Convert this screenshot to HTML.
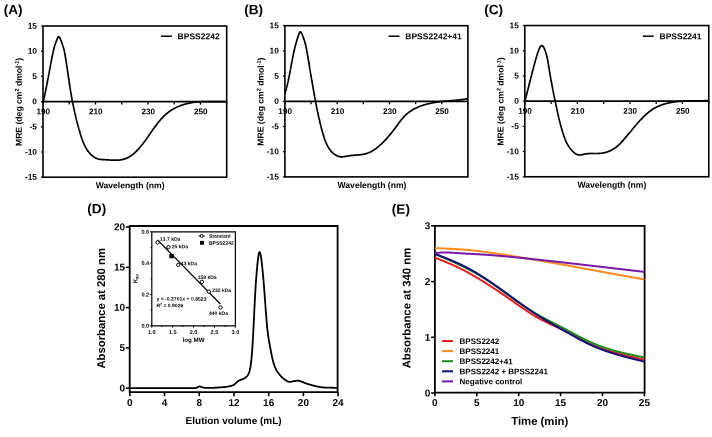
<!DOCTYPE html>
<html><head><meta charset="utf-8"><style>
html,body{margin:0;padding:0;background:#fff;}
svg{display:block;will-change:transform;}
text{font-family:"Liberation Sans",sans-serif;}
</style></head><body>
<svg width="712" height="437" viewBox="0 0 712 437">
<rect width="712" height="437" fill="#fff"/>
<text transform="rotate(0.05 3.7 14.2)" x="3.7" y="14.2" font-size="13.6" font-family="Liberation Sans, sans-serif" font-weight="bold">(A)</text>
<rect x="43.00" y="26.00" width="183.68" height="151.20" fill="none" stroke="#000" stroke-width="1.6"/>
<line x1="43.00" y1="101.60" x2="226.68" y2="101.60" stroke="#000" stroke-width="1.75"/>
<line x1="41.00" y1="26.00" x2="43.00" y2="26.00" stroke="#000" stroke-width="1.2"/>
<text transform="rotate(0.05 37.00 28.65)" x="37.00" y="28.65" font-size="8.4" text-anchor="end" font-family="Liberation Sans, sans-serif" font-weight="bold">15</text>
<line x1="41.00" y1="51.20" x2="43.00" y2="51.20" stroke="#000" stroke-width="1.2"/>
<text transform="rotate(0.05 37.00 53.85)" x="37.00" y="53.85" font-size="8.4" text-anchor="end" font-family="Liberation Sans, sans-serif" font-weight="bold">10</text>
<line x1="41.00" y1="76.40" x2="43.00" y2="76.40" stroke="#000" stroke-width="1.2"/>
<text transform="rotate(0.05 37.00 79.05)" x="37.00" y="79.05" font-size="8.4" text-anchor="end" font-family="Liberation Sans, sans-serif" font-weight="bold">5</text>
<line x1="41.00" y1="101.60" x2="43.00" y2="101.60" stroke="#000" stroke-width="1.2"/>
<text transform="rotate(0.05 37.00 104.25)" x="37.00" y="104.25" font-size="8.4" text-anchor="end" font-family="Liberation Sans, sans-serif" font-weight="bold">0</text>
<line x1="41.00" y1="126.80" x2="43.00" y2="126.80" stroke="#000" stroke-width="1.2"/>
<text transform="rotate(0.05 37.00 129.45)" x="37.00" y="129.45" font-size="8.4" text-anchor="end" font-family="Liberation Sans, sans-serif" font-weight="bold">-5</text>
<line x1="41.00" y1="152.00" x2="43.00" y2="152.00" stroke="#000" stroke-width="1.2"/>
<text transform="rotate(0.05 37.00 154.65)" x="37.00" y="154.65" font-size="8.4" text-anchor="end" font-family="Liberation Sans, sans-serif" font-weight="bold">-10</text>
<line x1="41.00" y1="177.20" x2="43.00" y2="177.20" stroke="#000" stroke-width="1.2"/>
<text transform="rotate(0.05 37.00 179.85)" x="37.00" y="179.85" font-size="8.4" text-anchor="end" font-family="Liberation Sans, sans-serif" font-weight="bold">-15</text>
<line x1="43.00" y1="101.60" x2="43.00" y2="104.50" stroke="#000" stroke-width="1.3"/>
<line x1="69.24" y1="101.60" x2="69.24" y2="104.50" stroke="#000" stroke-width="1.3"/>
<line x1="95.48" y1="101.60" x2="95.48" y2="104.50" stroke="#000" stroke-width="1.3"/>
<line x1="121.72" y1="101.60" x2="121.72" y2="104.50" stroke="#000" stroke-width="1.3"/>
<line x1="147.96" y1="101.60" x2="147.96" y2="104.50" stroke="#000" stroke-width="1.3"/>
<line x1="174.20" y1="101.60" x2="174.20" y2="104.50" stroke="#000" stroke-width="1.3"/>
<line x1="200.44" y1="101.60" x2="200.44" y2="104.50" stroke="#000" stroke-width="1.3"/>
<line x1="226.68" y1="101.60" x2="226.68" y2="104.50" stroke="#000" stroke-width="1.3"/>
<text transform="rotate(0.05 43.30 114.30)" x="43.30" y="114.30" font-size="8.2" text-anchor="middle" font-family="Liberation Sans, sans-serif" font-weight="bold">190</text>
<text transform="rotate(0.05 95.78 114.30)" x="95.78" y="114.30" font-size="8.2" text-anchor="middle" font-family="Liberation Sans, sans-serif" font-weight="bold">210</text>
<text transform="rotate(0.05 148.26 114.30)" x="148.26" y="114.30" font-size="8.2" text-anchor="middle" font-family="Liberation Sans, sans-serif" font-weight="bold">230</text>
<text transform="rotate(0.05 200.74 114.30)" x="200.74" y="114.30" font-size="8.2" text-anchor="middle" font-family="Liberation Sans, sans-serif" font-weight="bold">250</text>
<text transform="rotate(0.05 130.10 188.30)" x="130.10" y="188.30" font-size="8.6" text-anchor="middle" font-family="Liberation Sans, sans-serif" font-weight="bold">Wavelength (nm)</text>
<text transform="translate(21.70,101.90) rotate(-89.95)" font-size="8.6" text-anchor="middle" font-family="Liberation Sans, sans-serif" font-weight="bold">MRE (deg cm<tspan font-size="5.5" dy="-3">2</tspan><tspan dy="3"> dmol</tspan><tspan font-size="5.5" dy="-3">-1</tspan><tspan dy="3">)</tspan></text>
<line x1="160.90" y1="36.2" x2="171.80" y2="36.2" stroke="#000" stroke-width="1.5"/>
<text transform="rotate(0.05 177.60 39.3)" x="177.60" y="39.3" font-size="8.5" font-family="Liberation Sans, sans-serif" font-weight="bold">BPSS2242</text>
<path d="M43.21,101.60 L43.30,101.26 L43.38,100.92 L43.46,100.58 L43.54,100.24 L43.62,99.90 L43.70,99.56 L43.78,99.22 L43.86,98.88 L43.94,98.54 L44.02,98.19 L44.10,97.85 L44.17,97.51 L44.25,97.17 L44.33,96.83 L44.41,96.49 L44.48,96.15 L44.56,95.81 L44.63,95.46 L44.71,95.12 L44.78,94.78 L44.86,94.44 L44.93,94.09 L45.00,93.75 L45.08,93.41 L45.15,93.07 L45.22,92.72 L45.30,92.38 L45.37,92.04 L45.44,91.69 L45.51,91.35 L45.58,91.01 L45.65,90.66 L45.72,90.32 L45.79,89.98 L45.86,89.63 L45.93,89.29 L46.00,88.95 L46.07,88.60 L46.14,88.26 L46.21,87.91 L46.28,87.57 L46.35,87.23 L46.42,86.88 L46.48,86.54 L46.55,86.19 L46.62,85.85 L46.69,85.50 L46.75,85.16 L46.82,84.81 L46.89,84.47 L46.95,84.12 L47.02,83.78 L47.09,83.43 L47.15,83.09 L47.22,82.74 L47.28,82.40 L47.35,82.05 L47.41,81.71 L47.48,81.36 L47.55,81.02 L47.61,80.67 L47.67,80.33 L47.74,79.98 L47.80,79.64 L47.87,79.29 L47.93,78.95 L48.00,78.60 L48.06,78.25 L48.13,77.91 L48.19,77.56 L48.25,77.22 L48.32,76.87 L48.38,76.53 L48.45,76.18 L48.51,75.84 L48.57,75.49 L48.64,75.14 L48.70,74.80 L48.77,74.45 L48.83,74.11 L48.89,73.76 L48.96,73.42 L49.02,73.07 L49.08,72.72 L49.15,72.38 L49.21,72.03 L49.28,71.69 L49.34,71.34 L49.40,71.00 L49.47,70.65 L49.53,70.31 L49.60,69.96 L49.66,69.62 L49.72,69.27 L49.79,68.93 L49.85,68.58 L49.92,68.24 L49.98,67.89 L50.05,67.55 L50.11,67.20 L50.17,66.86 L50.24,66.51 L50.30,66.17 L50.37,65.82 L50.43,65.48 L50.50,65.13 L50.56,64.79 L50.63,64.44 L50.70,64.10 L50.76,63.75 L50.83,63.41 L50.89,63.07 L50.96,62.72 L51.03,62.38 L51.09,62.03 L51.16,61.69 L51.23,61.35 L51.29,61.00 L51.36,60.66 L51.43,60.32 L51.50,59.97 L51.57,59.63 L51.63,59.29 L51.70,58.94 L51.77,58.60 L51.84,58.26 L51.91,57.91 L51.98,57.57 L52.05,57.23 L52.12,56.89 L52.19,56.54 L52.26,56.20 L52.33,55.86 L52.40,55.52 L52.47,55.18 L52.55,54.83 L52.62,54.49 L52.69,54.15 L52.76,53.81 L52.84,53.47 L52.91,53.13 L52.98,52.79 L53.06,52.45 L53.13,52.11 L53.21,51.77 L53.28,51.43 L53.36,51.08 L53.43,50.75 L53.51,50.41 L53.58,50.07 L53.66,49.73 L53.74,49.39 L53.82,49.05 L53.90,48.71 L53.98,48.37 L54.06,48.03 L54.14,47.70 L54.23,47.36 L54.32,47.02 L54.41,46.69 L54.50,46.35 L54.59,46.01 L54.69,45.68 L54.79,45.35 L54.90,45.01 L55.01,44.68 L55.12,44.35 L55.24,44.02 L55.36,43.69 L55.48,43.36 L55.61,43.02 L55.74,42.68 L55.87,42.34 L56.01,42.00 L56.15,41.64 L56.29,41.29 L56.44,40.92 L56.58,40.55 L56.73,40.16 L56.88,39.77 L57.04,39.37 L57.19,38.97 L57.35,38.58 L57.51,38.21 L57.67,37.86 L57.83,37.55 L58.00,37.27 L58.17,37.05 L58.34,36.88 L58.52,36.78 L58.70,36.75 L58.88,36.79 L59.06,36.91 L59.25,37.08 L59.43,37.31 L59.62,37.59 L59.80,37.91 L59.98,38.25 L60.16,38.62 L60.34,39.01 L60.51,39.41 L60.68,39.81 L60.84,40.20 L61.00,40.59 L61.15,40.97 L61.29,41.34 L61.43,41.70 L61.56,42.06 L61.69,42.41 L61.82,42.76 L61.95,43.11 L62.07,43.45 L62.18,43.78 L62.30,44.12 L62.41,44.45 L62.53,44.78 L62.64,45.11 L62.75,45.44 L62.85,45.77 L62.96,46.10 L63.06,46.43 L63.17,46.75 L63.27,47.08 L63.37,47.41 L63.46,47.74 L63.56,48.07 L63.65,48.39 L63.74,48.72 L63.83,49.05 L63.92,49.38 L64.01,49.72 L64.09,50.05 L64.17,50.38 L64.25,50.72 L64.33,51.06 L64.40,51.39 L64.47,51.73 L64.55,52.07 L64.62,52.41 L64.68,52.76 L64.75,53.10 L64.82,53.44 L64.88,53.79 L64.95,54.13 L65.01,54.47 L65.07,54.82 L65.13,55.17 L65.19,55.51 L65.25,55.86 L65.31,56.21 L65.37,56.55 L65.42,56.90 L65.48,57.25 L65.54,57.60 L65.60,57.94 L65.65,58.29 L65.71,58.64 L65.76,58.98 L65.82,59.33 L65.88,59.68 L65.93,60.03 L65.99,60.37 L66.04,60.72 L66.10,61.07 L66.15,61.42 L66.20,61.76 L66.26,62.11 L66.31,62.46 L66.37,62.81 L66.42,63.16 L66.47,63.50 L66.52,63.85 L66.58,64.20 L66.63,64.55 L66.68,64.89 L66.73,65.24 L66.79,65.59 L66.84,65.94 L66.89,66.29 L66.94,66.63 L66.99,66.98 L67.05,67.33 L67.10,67.68 L67.15,68.02 L67.20,68.37 L67.25,68.72 L67.30,69.07 L67.35,69.42 L67.40,69.76 L67.45,70.11 L67.50,70.46 L67.55,70.81 L67.61,71.15 L67.66,71.50 L67.71,71.85 L67.76,72.20 L67.81,72.55 L67.86,72.89 L67.91,73.24 L67.96,73.59 L68.01,73.94 L68.06,74.28 L68.11,74.63 L68.16,74.98 L68.21,75.33 L68.26,75.67 L68.31,76.02 L68.36,76.37 L68.41,76.72 L68.46,77.06 L68.51,77.41 L68.56,77.76 L68.61,78.11 L68.66,78.45 L68.71,78.80 L68.76,79.15 L68.81,79.50 L68.87,79.84 L68.92,80.19 L68.97,80.54 L69.02,80.89 L69.07,81.23 L69.12,81.58 L69.17,81.93 L69.22,82.27 L69.28,82.62 L69.33,82.97 L69.38,83.31 L69.43,83.66 L69.48,84.01 L69.54,84.35 L69.59,84.70 L69.64,85.05 L69.70,85.39 L69.75,85.74 L69.80,86.09 L69.86,86.43 L69.91,86.78 L69.96,87.13 L70.02,87.47 L70.07,87.82 L70.13,88.17 L70.18,88.51 L70.24,88.86 L70.29,89.20 L70.35,89.55 L70.41,89.90 L70.46,90.24 L70.52,90.59 L70.58,90.93 L70.63,91.28 L70.69,91.62 L70.75,91.97 L70.81,92.31 L70.86,92.66 L70.92,93.01 L70.98,93.35 L71.04,93.70 L71.10,94.04 L71.16,94.39 L71.22,94.73 L71.28,95.08 L71.34,95.42 L71.40,95.77 L71.46,96.11 L71.52,96.45 L71.58,96.80 L71.65,97.14 L71.71,97.49 L71.77,97.83 L71.83,98.18 L71.90,98.52 L71.96,98.87 L72.03,99.21 L72.09,99.55 L72.15,99.90 L72.22,100.24 L72.28,100.59 L72.35,100.93 L72.42,101.27 L72.48,101.62 L72.55,101.96 L72.61,102.30 L72.68,102.65 L72.75,102.99 L72.82,103.33 L72.88,103.68 L72.95,104.02 L73.02,104.36 L73.09,104.71 L73.16,105.05 L73.23,105.39 L73.30,105.73 L73.37,106.08 L73.44,106.42 L73.51,106.76 L73.58,107.11 L73.65,107.45 L73.73,107.79 L73.80,108.13 L73.87,108.48 L73.94,108.82 L74.02,109.16 L74.09,109.50 L74.17,109.84 L74.24,110.19 L74.32,110.53 L74.39,110.87 L74.47,111.21 L74.54,111.55 L74.62,111.90 L74.69,112.24 L74.77,112.58 L74.85,112.92 L74.93,113.26 L75.00,113.60 L75.08,113.94 L75.16,114.29 L75.24,114.63 L75.32,114.97 L75.40,115.31 L75.48,115.65 L75.56,115.99 L75.64,116.33 L75.72,116.67 L75.80,117.01 L75.89,117.35 L75.97,117.69 L76.05,118.04 L76.13,118.38 L76.22,118.72 L76.30,119.06 L76.39,119.40 L76.47,119.74 L76.56,120.08 L76.64,120.42 L76.73,120.76 L76.81,121.10 L76.90,121.44 L76.99,121.78 L77.07,122.12 L77.16,122.46 L77.25,122.80 L77.34,123.14 L77.43,123.48 L77.52,123.82 L77.61,124.15 L77.70,124.49 L77.79,124.83 L77.88,125.17 L77.97,125.51 L78.06,125.85 L78.15,126.19 L78.25,126.53 L78.34,126.87 L78.43,127.21 L78.53,127.55 L78.62,127.88 L78.71,128.22 L78.81,128.56 L78.91,128.90 L79.00,129.24 L79.10,129.58 L79.19,129.92 L79.29,130.25 L79.39,130.59 L79.49,130.93 L79.59,131.27 L79.68,131.61 L79.78,131.94 L79.88,132.28 L79.98,132.62 L80.08,132.96 L80.18,133.30 L80.29,133.63 L80.39,133.97 L80.49,134.31 L80.59,134.65 L80.70,134.98 L80.80,135.32 L80.90,135.66 L81.01,135.99 L81.12,136.33 L81.22,136.67 L81.33,137.00 L81.44,137.34 L81.55,137.67 L81.66,138.01 L81.77,138.34 L81.88,138.68 L82.00,139.01 L82.11,139.34 L82.23,139.67 L82.35,140.00 L82.47,140.33 L82.59,140.66 L82.71,140.99 L82.84,141.32 L82.96,141.65 L83.09,141.97 L83.22,142.30 L83.35,142.62 L83.49,142.95 L83.62,143.27 L83.76,143.59 L83.90,143.91 L84.04,144.23 L84.19,144.55 L84.33,144.86 L84.48,145.18 L84.63,145.49 L84.79,145.81 L84.94,146.12 L85.10,146.43 L85.26,146.73 L85.43,147.04 L85.59,147.35 L85.76,147.65 L85.93,147.95 L86.11,148.25 L86.29,148.55 L86.47,148.85 L86.65,149.14 L86.84,149.44 L87.03,149.73 L87.23,150.02 L87.42,150.31 L87.63,150.59 L87.83,150.88 L88.04,151.16 L88.25,151.44 L88.46,151.72 L88.68,151.99 L88.91,152.27 L89.13,152.54 L89.36,152.81 L89.60,153.07 L89.83,153.34 L90.08,153.60 L90.32,153.86 L90.57,154.12 L90.83,154.37 L91.08,154.63 L91.35,154.87 L91.61,155.12 L91.88,155.36 L92.16,155.60 L92.43,155.83 L92.71,156.06 L93.00,156.28 L93.28,156.50 L93.57,156.71 L93.87,156.91 L94.16,157.11 L94.46,157.30 L94.76,157.49 L95.06,157.66 L95.37,157.83 L95.68,157.99 L95.99,158.14 L96.30,158.29 L96.62,158.42 L96.93,158.55 L97.25,158.66 L97.57,158.77 L97.89,158.87 L98.22,158.96 L98.54,159.04 L98.87,159.11 L99.20,159.18 L99.53,159.24 L99.86,159.30 L100.20,159.34 L100.53,159.39 L100.87,159.43 L101.21,159.47 L101.55,159.50 L101.89,159.53 L102.23,159.55 L102.58,159.58 L102.92,159.60 L103.27,159.62 L103.62,159.64 L103.97,159.66 L104.32,159.68 L104.67,159.70 L105.03,159.72 L105.38,159.74 L105.74,159.76 L106.09,159.79 L106.45,159.81 L106.81,159.83 L107.17,159.86 L107.53,159.88 L107.89,159.90 L108.25,159.93 L108.61,159.95 L108.98,159.98 L109.34,160.00 L109.70,160.02 L110.07,160.04 L110.43,160.07 L110.80,160.09 L111.16,160.11 L111.53,160.12 L111.89,160.14 L112.25,160.16 L112.62,160.17 L112.98,160.18 L113.35,160.20 L113.71,160.20 L114.07,160.21 L114.44,160.22 L114.80,160.22 L115.16,160.22 L115.52,160.22 L115.88,160.22 L116.24,160.21 L116.60,160.20 L116.96,160.19 L117.32,160.17 L117.67,160.16 L118.03,160.14 L118.38,160.11 L118.74,160.08 L119.09,160.05 L119.44,160.02 L119.79,159.98 L120.13,159.94 L120.48,159.89 L120.82,159.84 L121.17,159.79 L121.51,159.73 L121.85,159.66 L122.18,159.60 L122.52,159.52 L122.85,159.45 L123.18,159.36 L123.51,159.28 L123.84,159.18 L124.17,159.09 L124.49,158.99 L124.81,158.88 L125.13,158.77 L125.45,158.65 L125.76,158.53 L126.07,158.41 L126.39,158.28 L126.69,158.14 L127.00,158.00 L127.31,157.86 L127.61,157.71 L127.91,157.56 L128.21,157.41 L128.51,157.25 L128.81,157.09 L129.10,156.92 L129.39,156.75 L129.68,156.57 L129.97,156.40 L130.26,156.21 L130.54,156.03 L130.83,155.84 L131.11,155.65 L131.39,155.45 L131.67,155.25 L131.95,155.05 L132.22,154.84 L132.49,154.63 L132.77,154.42 L133.04,154.21 L133.31,153.99 L133.57,153.77 L133.84,153.55 L134.10,153.32 L134.37,153.09 L134.63,152.86 L134.89,152.63 L135.15,152.39 L135.40,152.15 L135.66,151.91 L135.91,151.66 L136.16,151.42 L136.42,151.17 L136.67,150.92 L136.91,150.67 L137.16,150.41 L137.41,150.16 L137.65,149.90 L137.90,149.64 L138.14,149.38 L138.38,149.12 L138.62,148.85 L138.86,148.58 L139.09,148.32 L139.33,148.05 L139.56,147.78 L139.80,147.51 L140.03,147.23 L140.26,146.96 L140.49,146.68 L140.72,146.41 L140.95,146.13 L141.18,145.85 L141.40,145.57 L141.63,145.29 L141.85,145.01 L142.07,144.73 L142.30,144.45 L142.52,144.17 L142.74,143.88 L142.96,143.60 L143.17,143.32 L143.39,143.03 L143.61,142.74 L143.83,142.46 L144.04,142.17 L144.26,141.88 L144.47,141.60 L144.68,141.31 L144.89,141.02 L145.11,140.73 L145.32,140.44 L145.53,140.15 L145.74,139.86 L145.95,139.57 L146.16,139.28 L146.36,138.99 L146.57,138.70 L146.78,138.40 L146.99,138.11 L147.19,137.82 L147.40,137.53 L147.60,137.23 L147.81,136.94 L148.01,136.65 L148.22,136.36 L148.42,136.06 L148.63,135.77 L148.83,135.48 L149.04,135.18 L149.24,134.89 L149.44,134.60 L149.64,134.31 L149.85,134.01 L150.05,133.72 L150.25,133.43 L150.46,133.13 L150.66,132.84 L150.86,132.55 L151.06,132.26 L151.27,131.97 L151.47,131.68 L151.67,131.38 L151.88,131.09 L152.08,130.80 L152.28,130.51 L152.48,130.22 L152.69,129.93 L152.89,129.64 L153.10,129.36 L153.30,129.07 L153.50,128.78 L153.71,128.49 L153.91,128.21 L154.12,127.92 L154.33,127.63 L154.53,127.35 L154.74,127.07 L154.95,126.78 L155.15,126.50 L155.36,126.22 L155.57,125.93 L155.78,125.65 L155.99,125.37 L156.20,125.09 L156.41,124.82 L156.62,124.54 L156.83,124.26 L157.05,123.98 L157.26,123.71 L157.47,123.44 L157.69,123.16 L157.90,122.89 L158.12,122.62 L158.34,122.35 L158.56,122.08 L158.78,121.81 L159.00,121.54 L159.22,121.28 L159.44,121.01 L159.66,120.75 L159.88,120.48 L160.11,120.22 L160.33,119.96 L160.56,119.70 L160.79,119.44 L161.02,119.19 L161.25,118.93 L161.48,118.68 L161.71,118.42 L161.94,118.17 L162.18,117.92 L162.41,117.67 L162.65,117.42 L162.89,117.18 L163.13,116.93 L163.37,116.69 L163.61,116.45 L163.85,116.21 L164.10,115.97 L164.34,115.73 L164.59,115.50 L164.84,115.26 L165.09,115.03 L165.34,114.80 L165.60,114.57 L165.85,114.34 L166.11,114.12 L166.37,113.89 L166.63,113.67 L166.89,113.45 L167.15,113.23 L167.42,113.01 L167.68,112.80 L167.95,112.59 L168.22,112.37 L168.49,112.17 L168.77,111.96 L169.04,111.75 L169.32,111.55 L169.60,111.35 L169.88,111.15 L170.16,110.95 L170.45,110.76 L170.73,110.56 L171.02,110.37 L171.31,110.18 L171.60,110.00 L171.90,109.81 L172.20,109.63 L172.49,109.45 L172.79,109.27 L173.10,109.09 L173.40,108.92 L173.71,108.75 L174.02,108.58 L174.33,108.41 L174.64,108.25 L174.95,108.08 L175.27,107.92 L175.58,107.77 L175.90,107.61 L176.22,107.45 L176.54,107.30 L176.86,107.15 L177.19,107.00 L177.51,106.86 L177.84,106.72 L178.17,106.57 L178.50,106.43 L178.83,106.30 L179.16,106.16 L179.49,106.03 L179.83,105.90 L180.16,105.77 L180.50,105.64 L180.83,105.52 L181.17,105.40 L181.51,105.28 L181.85,105.16 L182.19,105.04 L182.53,104.93 L182.88,104.82 L183.22,104.71 L183.56,104.60 L183.91,104.49 L184.25,104.39 L184.60,104.29 L184.95,104.19 L185.29,104.09 L185.64,104.00 L185.99,103.90 L186.34,103.81 L186.68,103.72 L187.03,103.64 L187.38,103.55 L187.73,103.47 L188.08,103.39 L188.43,103.31 L188.78,103.23 L189.13,103.16 L189.48,103.08 L189.83,103.01 L190.18,102.95 L190.53,102.88 L190.88,102.82 L191.23,102.75 L191.58,102.69 L191.93,102.63 L192.28,102.58 L192.63,102.52 L192.98,102.47 L193.33,102.42 L193.68,102.37 L194.03,102.33 L194.37,102.28 L194.72,102.24 L195.07,102.20 L195.42,102.16 L195.77,102.12 L196.11,102.08 L196.46,102.05 L196.81,102.01 L197.16,101.98 L197.50,101.95 L197.85,101.92 L198.20,101.90 L198.54,101.87 L198.89,101.85 L199.24,101.82 L199.58,101.80 L199.93,101.78 L200.28,101.76 L200.62,101.75 L200.97,101.73 L201.32,101.71 L201.66,101.70 L202.01,101.69 L202.36,101.67 L202.70,101.66 L203.05,101.65 L203.39,101.64 L203.74,101.64 L204.09,101.63 L204.43,101.62 L204.78,101.62 L205.13,101.61 L205.47,101.61 L205.82,101.61 L206.16,101.60 L206.51,101.60 L206.86,101.60 L207.20,101.60 L207.55,101.60 L207.90,101.60 L208.24,101.60 L208.59,101.60 L208.94,101.61 L209.28,101.61 L209.63,101.61 L209.98,101.61 L210.33,101.62 L210.67,101.62 L211.02,101.63 L211.37,101.63 L211.72,101.64 L212.06,101.64 L212.41,101.65 L212.76,101.65 L213.11,101.66 L213.46,101.66 L213.81,101.67 L214.15,101.67 L214.50,101.68 L214.85,101.68 L215.20,101.69 L215.55,101.69 L215.90,101.69 L216.25,101.70 L216.60,101.70 L216.95,101.71 L217.30,101.71 L217.65,101.71 L218.00,101.72 L218.36,101.72 L218.71,101.72 L219.06,101.72 L219.41,101.72 L219.76,101.72 L220.12,101.72 L220.47,101.72 L220.82,101.72 L221.18,101.72 L221.53,101.71 L221.89,101.71 L222.24,101.71 L222.60,101.70 L222.95,101.69 L223.31,101.69 L223.66,101.68 L224.02,101.67 L224.37,101.66 L224.73,101.65 L225.09,101.64 L225.45,101.63 L225.80,101.61 L226.16,101.60 L226.52,101.58" fill="none" stroke="#000" stroke-width="1.7" stroke-linejoin="round"/>
<text transform="rotate(0.05 244.2 14.2)" x="244.2" y="14.2" font-size="13.6" font-family="Liberation Sans, sans-serif" font-weight="bold">(B)</text>
<rect x="284.90" y="25.70" width="182.98" height="151.20" fill="none" stroke="#000" stroke-width="1.6"/>
<line x1="284.90" y1="101.30" x2="467.88" y2="101.30" stroke="#000" stroke-width="1.75"/>
<line x1="282.90" y1="25.70" x2="284.90" y2="25.70" stroke="#000" stroke-width="1.2"/>
<text transform="rotate(0.05 278.90 28.35)" x="278.90" y="28.35" font-size="8.4" text-anchor="end" font-family="Liberation Sans, sans-serif" font-weight="bold">15</text>
<line x1="282.90" y1="50.90" x2="284.90" y2="50.90" stroke="#000" stroke-width="1.2"/>
<text transform="rotate(0.05 278.90 53.55)" x="278.90" y="53.55" font-size="8.4" text-anchor="end" font-family="Liberation Sans, sans-serif" font-weight="bold">10</text>
<line x1="282.90" y1="76.10" x2="284.90" y2="76.10" stroke="#000" stroke-width="1.2"/>
<text transform="rotate(0.05 278.90 78.75)" x="278.90" y="78.75" font-size="8.4" text-anchor="end" font-family="Liberation Sans, sans-serif" font-weight="bold">5</text>
<line x1="282.90" y1="101.30" x2="284.90" y2="101.30" stroke="#000" stroke-width="1.2"/>
<text transform="rotate(0.05 278.90 103.95)" x="278.90" y="103.95" font-size="8.4" text-anchor="end" font-family="Liberation Sans, sans-serif" font-weight="bold">0</text>
<line x1="282.90" y1="126.50" x2="284.90" y2="126.50" stroke="#000" stroke-width="1.2"/>
<text transform="rotate(0.05 278.90 129.15)" x="278.90" y="129.15" font-size="8.4" text-anchor="end" font-family="Liberation Sans, sans-serif" font-weight="bold">-5</text>
<line x1="282.90" y1="151.70" x2="284.90" y2="151.70" stroke="#000" stroke-width="1.2"/>
<text transform="rotate(0.05 278.90 154.35)" x="278.90" y="154.35" font-size="8.4" text-anchor="end" font-family="Liberation Sans, sans-serif" font-weight="bold">-10</text>
<line x1="282.90" y1="176.90" x2="284.90" y2="176.90" stroke="#000" stroke-width="1.2"/>
<text transform="rotate(0.05 278.90 179.55)" x="278.90" y="179.55" font-size="8.4" text-anchor="end" font-family="Liberation Sans, sans-serif" font-weight="bold">-15</text>
<line x1="284.90" y1="101.30" x2="284.90" y2="104.20" stroke="#000" stroke-width="1.3"/>
<line x1="311.04" y1="101.30" x2="311.04" y2="104.20" stroke="#000" stroke-width="1.3"/>
<line x1="337.18" y1="101.30" x2="337.18" y2="104.20" stroke="#000" stroke-width="1.3"/>
<line x1="363.32" y1="101.30" x2="363.32" y2="104.20" stroke="#000" stroke-width="1.3"/>
<line x1="389.46" y1="101.30" x2="389.46" y2="104.20" stroke="#000" stroke-width="1.3"/>
<line x1="415.60" y1="101.30" x2="415.60" y2="104.20" stroke="#000" stroke-width="1.3"/>
<line x1="441.74" y1="101.30" x2="441.74" y2="104.20" stroke="#000" stroke-width="1.3"/>
<line x1="467.88" y1="101.30" x2="467.88" y2="104.20" stroke="#000" stroke-width="1.3"/>
<text transform="rotate(0.05 285.20 114.00)" x="285.20" y="114.00" font-size="8.2" text-anchor="middle" font-family="Liberation Sans, sans-serif" font-weight="bold">190</text>
<text transform="rotate(0.05 337.48 114.00)" x="337.48" y="114.00" font-size="8.2" text-anchor="middle" font-family="Liberation Sans, sans-serif" font-weight="bold">210</text>
<text transform="rotate(0.05 389.76 114.00)" x="389.76" y="114.00" font-size="8.2" text-anchor="middle" font-family="Liberation Sans, sans-serif" font-weight="bold">230</text>
<text transform="rotate(0.05 442.04 114.00)" x="442.04" y="114.00" font-size="8.2" text-anchor="middle" font-family="Liberation Sans, sans-serif" font-weight="bold">250</text>
<text transform="rotate(0.05 372.00 188.00)" x="372.00" y="188.00" font-size="8.6" text-anchor="middle" font-family="Liberation Sans, sans-serif" font-weight="bold">Wavelength (nm)</text>
<text transform="translate(263.60,101.60) rotate(-89.95)" font-size="8.6" text-anchor="middle" font-family="Liberation Sans, sans-serif" font-weight="bold">MRE (deg cm<tspan font-size="5.5" dy="-3">2</tspan><tspan dy="3"> dmol</tspan><tspan font-size="5.5" dy="-3">-1</tspan><tspan dy="3">)</tspan></text>
<line x1="388.60" y1="36.2" x2="399.50" y2="36.2" stroke="#000" stroke-width="1.5"/>
<text transform="rotate(0.05 405.30 39.3)" x="405.30" y="39.3" font-size="8.5" font-family="Liberation Sans, sans-serif" font-weight="bold">BPSS2242+41</text>
<path d="M284.94,93.48 L285.04,93.15 L285.14,92.83 L285.24,92.50 L285.33,92.17 L285.43,91.85 L285.53,91.52 L285.62,91.19 L285.71,90.86 L285.81,90.53 L285.90,90.20 L285.99,89.87 L286.08,89.54 L286.17,89.21 L286.26,88.88 L286.35,88.55 L286.44,88.21 L286.53,87.88 L286.61,87.55 L286.70,87.22 L286.78,86.88 L286.87,86.55 L286.95,86.21 L287.03,85.88 L287.11,85.54 L287.20,85.21 L287.28,84.87 L287.36,84.54 L287.44,84.20 L287.52,83.86 L287.59,83.53 L287.67,83.19 L287.75,82.85 L287.83,82.51 L287.90,82.17 L287.98,81.84 L288.05,81.50 L288.13,81.16 L288.20,80.82 L288.28,80.48 L288.35,80.14 L288.42,79.80 L288.49,79.46 L288.57,79.12 L288.64,78.78 L288.71,78.44 L288.78,78.10 L288.85,77.76 L288.92,77.42 L288.99,77.07 L289.06,76.73 L289.13,76.39 L289.19,76.05 L289.26,75.71 L289.33,75.37 L289.40,75.02 L289.46,74.68 L289.53,74.34 L289.60,74.00 L289.66,73.65 L289.73,73.31 L289.80,72.97 L289.86,72.63 L289.93,72.28 L289.99,71.94 L290.06,71.60 L290.12,71.25 L290.19,70.91 L290.25,70.57 L290.31,70.22 L290.38,69.88 L290.44,69.54 L290.51,69.20 L290.57,68.85 L290.63,68.51 L290.70,68.17 L290.76,67.82 L290.82,67.48 L290.89,67.14 L290.95,66.79 L291.01,66.45 L291.08,66.11 L291.14,65.77 L291.20,65.42 L291.27,65.08 L291.33,64.74 L291.39,64.40 L291.46,64.05 L291.52,63.71 L291.58,63.37 L291.65,63.03 L291.71,62.69 L291.77,62.34 L291.84,62.00 L291.90,61.66 L291.97,61.32 L292.03,60.98 L292.10,60.64 L292.16,60.30 L292.23,59.96 L292.29,59.62 L292.36,59.28 L292.42,58.94 L292.49,58.60 L292.55,58.26 L292.62,57.92 L292.69,57.58 L292.75,57.24 L292.82,56.91 L292.89,56.57 L292.95,56.23 L293.02,55.89 L293.09,55.55 L293.16,55.22 L293.23,54.88 L293.30,54.55 L293.37,54.21 L293.44,53.87 L293.51,53.54 L293.58,53.20 L293.65,52.87 L293.72,52.53 L293.80,52.20 L293.87,51.87 L293.94,51.53 L294.01,51.20 L294.09,50.87 L294.16,50.54 L294.24,50.20 L294.31,49.87 L294.39,49.54 L294.47,49.21 L294.55,48.88 L294.62,48.55 L294.70,48.22 L294.78,47.90 L294.86,47.57 L294.94,47.24 L295.02,46.91 L295.10,46.59 L295.19,46.26 L295.27,45.93 L295.35,45.61 L295.44,45.28 L295.52,44.96 L295.61,44.63 L295.70,44.31 L295.78,43.98 L295.87,43.65 L295.96,43.32 L296.06,42.99 L296.15,42.66 L296.25,42.33 L296.34,41.99 L296.44,41.66 L296.54,41.32 L296.64,40.98 L296.74,40.63 L296.85,40.28 L296.96,39.93 L297.07,39.58 L297.18,39.22 L297.29,38.86 L297.41,38.50 L297.53,38.13 L297.65,37.75 L297.77,37.38 L297.90,36.99 L298.03,36.61 L298.16,36.21 L298.29,35.82 L298.43,35.41 L298.57,35.01 L298.71,34.61 L298.86,34.22 L299.01,33.85 L299.16,33.49 L299.31,33.16 L299.46,32.86 L299.62,32.59 L299.78,32.36 L299.94,32.17 L300.10,32.03 L300.27,31.94 L300.43,31.91 L300.60,31.94 L300.77,32.03 L300.94,32.17 L301.11,32.36 L301.28,32.60 L301.45,32.87 L301.62,33.17 L301.78,33.50 L301.95,33.86 L302.11,34.23 L302.27,34.62 L302.43,35.01 L302.58,35.41 L302.73,35.80 L302.88,36.19 L303.02,36.57 L303.15,36.95 L303.29,37.31 L303.42,37.67 L303.54,38.02 L303.66,38.37 L303.78,38.72 L303.90,39.06 L304.01,39.40 L304.12,39.73 L304.23,40.07 L304.34,40.40 L304.44,40.73 L304.55,41.07 L304.65,41.40 L304.74,41.74 L304.84,42.07 L304.94,42.41 L305.03,42.74 L305.12,43.08 L305.21,43.41 L305.30,43.74 L305.38,44.08 L305.47,44.41 L305.55,44.75 L305.63,45.08 L305.71,45.42 L305.79,45.75 L305.87,46.09 L305.95,46.43 L306.02,46.76 L306.10,47.10 L306.17,47.43 L306.24,47.77 L306.31,48.10 L306.38,48.44 L306.45,48.78 L306.52,49.11 L306.58,49.45 L306.65,49.79 L306.71,50.12 L306.78,50.46 L306.84,50.80 L306.90,51.13 L306.97,51.47 L307.03,51.81 L307.09,52.14 L307.15,52.48 L307.21,52.82 L307.27,53.16 L307.33,53.49 L307.38,53.83 L307.44,54.17 L307.50,54.51 L307.56,54.85 L307.61,55.19 L307.67,55.52 L307.73,55.86 L307.79,56.20 L307.84,56.54 L307.90,56.88 L307.96,57.22 L308.01,57.56 L308.07,57.90 L308.13,58.24 L308.18,58.58 L308.24,58.92 L308.30,59.26 L308.35,59.60 L308.41,59.94 L308.46,60.28 L308.52,60.62 L308.58,60.96 L308.63,61.31 L308.69,61.65 L308.75,61.99 L308.80,62.33 L308.86,62.67 L308.91,63.01 L308.97,63.35 L309.03,63.70 L309.08,64.04 L309.14,64.38 L309.19,64.72 L309.25,65.06 L309.31,65.41 L309.36,65.75 L309.42,66.09 L309.47,66.43 L309.53,66.78 L309.59,67.12 L309.64,67.46 L309.70,67.80 L309.75,68.15 L309.81,68.49 L309.87,68.83 L309.92,69.17 L309.98,69.52 L310.04,69.86 L310.09,70.20 L310.15,70.54 L310.20,70.89 L310.26,71.23 L310.32,71.57 L310.37,71.92 L310.43,72.26 L310.49,72.60 L310.54,72.95 L310.60,73.29 L310.66,73.63 L310.71,73.97 L310.77,74.32 L310.83,74.66 L310.89,75.00 L310.94,75.35 L311.00,75.69 L311.06,76.03 L311.11,76.37 L311.17,76.72 L311.23,77.06 L311.29,77.40 L311.34,77.74 L311.40,78.09 L311.46,78.43 L311.52,78.77 L311.58,79.11 L311.63,79.46 L311.69,79.80 L311.75,80.14 L311.81,80.48 L311.87,80.83 L311.93,81.17 L311.98,81.51 L312.04,81.85 L312.10,82.20 L312.16,82.54 L312.22,82.88 L312.28,83.22 L312.34,83.57 L312.40,83.91 L312.46,84.25 L312.52,84.59 L312.58,84.93 L312.64,85.28 L312.69,85.62 L312.75,85.96 L312.81,86.30 L312.87,86.64 L312.93,86.98 L312.99,87.33 L313.05,87.67 L313.11,88.01 L313.18,88.35 L313.24,88.69 L313.30,89.03 L313.36,89.38 L313.42,89.72 L313.48,90.06 L313.54,90.40 L313.60,90.74 L313.66,91.08 L313.72,91.42 L313.78,91.77 L313.84,92.11 L313.91,92.45 L313.97,92.79 L314.03,93.13 L314.09,93.47 L314.15,93.81 L314.22,94.15 L314.28,94.49 L314.34,94.83 L314.40,95.17 L314.46,95.52 L314.53,95.86 L314.59,96.20 L314.65,96.54 L314.71,96.88 L314.78,97.22 L314.84,97.56 L314.90,97.90 L314.97,98.24 L315.03,98.58 L315.09,98.92 L315.16,99.26 L315.22,99.60 L315.28,99.94 L315.35,100.28 L315.41,100.62 L315.47,100.96 L315.54,101.30 L315.60,101.64 L315.67,101.98 L315.73,102.32 L315.80,102.66 L315.86,103.00 L315.93,103.34 L315.99,103.68 L316.06,104.01 L316.12,104.35 L316.19,104.69 L316.25,105.03 L316.32,105.37 L316.38,105.71 L316.45,106.05 L316.52,106.39 L316.58,106.73 L316.65,107.07 L316.72,107.40 L316.78,107.74 L316.85,108.08 L316.92,108.42 L316.98,108.76 L317.05,109.10 L317.12,109.43 L317.19,109.77 L317.26,110.11 L317.33,110.45 L317.40,110.79 L317.46,111.13 L317.53,111.46 L317.60,111.80 L317.67,112.14 L317.74,112.48 L317.81,112.82 L317.89,113.15 L317.96,113.49 L318.03,113.83 L318.10,114.17 L318.17,114.50 L318.24,114.84 L318.32,115.18 L318.39,115.52 L318.46,115.85 L318.54,116.19 L318.61,116.53 L318.69,116.87 L318.76,117.20 L318.84,117.54 L318.91,117.88 L318.99,118.21 L319.06,118.55 L319.14,118.89 L319.22,119.22 L319.29,119.56 L319.37,119.90 L319.45,120.24 L319.53,120.57 L319.61,120.91 L319.69,121.24 L319.77,121.58 L319.85,121.92 L319.93,122.25 L320.01,122.59 L320.09,122.93 L320.17,123.26 L320.25,123.60 L320.34,123.94 L320.42,124.27 L320.50,124.61 L320.59,124.94 L320.67,125.28 L320.76,125.62 L320.84,125.95 L320.93,126.29 L321.01,126.62 L321.10,126.96 L321.19,127.30 L321.28,127.63 L321.37,127.97 L321.45,128.30 L321.54,128.64 L321.63,128.97 L321.72,129.31 L321.82,129.65 L321.91,129.98 L322.00,130.32 L322.09,130.65 L322.19,130.99 L322.28,131.32 L322.37,131.66 L322.47,131.99 L322.57,132.33 L322.66,132.66 L322.76,133.00 L322.86,133.33 L322.95,133.67 L323.05,134.00 L323.15,134.34 L323.25,134.67 L323.35,135.01 L323.45,135.34 L323.56,135.68 L323.66,136.01 L323.76,136.35 L323.87,136.68 L323.97,137.01 L324.08,137.35 L324.19,137.68 L324.29,138.01 L324.40,138.34 L324.52,138.68 L324.63,139.01 L324.74,139.34 L324.86,139.67 L324.98,139.99 L325.09,140.32 L325.21,140.65 L325.34,140.98 L325.46,141.30 L325.59,141.62 L325.72,141.95 L325.85,142.27 L325.98,142.59 L326.11,142.91 L326.25,143.22 L326.39,143.54 L326.53,143.85 L326.68,144.17 L326.82,144.48 L326.97,144.79 L327.12,145.10 L327.28,145.40 L327.44,145.71 L327.60,146.01 L327.76,146.31 L327.93,146.61 L328.10,146.91 L328.27,147.21 L328.45,147.50 L328.63,147.79 L328.81,148.08 L329.00,148.36 L329.19,148.65 L329.38,148.93 L329.58,149.21 L329.78,149.49 L329.98,149.76 L330.19,150.03 L330.40,150.30 L330.62,150.57 L330.84,150.83 L331.07,151.09 L331.30,151.35 L331.53,151.61 L331.77,151.86 L332.01,152.11 L332.26,152.35 L332.51,152.60 L332.76,152.84 L333.02,153.07 L333.28,153.30 L333.55,153.53 L333.82,153.75 L334.10,153.96 L334.38,154.17 L334.66,154.38 L334.95,154.57 L335.24,154.77 L335.53,154.95 L335.83,155.13 L336.13,155.30 L336.43,155.47 L336.74,155.62 L337.05,155.77 L337.36,155.91 L337.67,156.04 L337.99,156.16 L338.31,156.27 L338.64,156.38 L338.97,156.47 L339.30,156.55 L339.63,156.63 L339.96,156.69 L340.30,156.74 L340.64,156.78 L340.98,156.81 L341.32,156.83 L341.67,156.83 L342.02,156.83 L342.37,156.82 L342.72,156.79 L343.07,156.77 L343.42,156.73 L343.77,156.69 L344.13,156.64 L344.48,156.58 L344.84,156.53 L345.19,156.47 L345.55,156.40 L345.90,156.34 L346.25,156.27 L346.61,156.20 L346.96,156.13 L347.31,156.07 L347.66,156.00 L348.01,155.94 L348.36,155.88 L348.70,155.83 L349.05,155.78 L349.39,155.72 L349.74,155.68 L350.08,155.63 L350.42,155.59 L350.76,155.55 L351.10,155.51 L351.44,155.47 L351.78,155.44 L352.12,155.40 L352.45,155.37 L352.79,155.34 L353.13,155.31 L353.47,155.28 L353.81,155.25 L354.15,155.23 L354.49,155.20 L354.83,155.17 L355.17,155.15 L355.51,155.12 L355.85,155.10 L356.20,155.07 L356.54,155.05 L356.89,155.02 L357.24,155.00 L357.58,154.97 L357.93,154.95 L358.28,154.92 L358.63,154.89 L358.98,154.86 L359.33,154.83 L359.69,154.79 L360.04,154.76 L360.39,154.72 L360.74,154.68 L361.09,154.64 L361.44,154.59 L361.79,154.55 L362.14,154.50 L362.49,154.44 L362.84,154.39 L363.18,154.33 L363.53,154.26 L363.87,154.20 L364.21,154.12 L364.55,154.05 L364.89,153.97 L365.23,153.88 L365.57,153.80 L365.90,153.70 L366.23,153.60 L366.56,153.50 L366.89,153.40 L367.22,153.28 L367.54,153.17 L367.86,153.05 L368.18,152.93 L368.50,152.80 L368.82,152.67 L369.14,152.53 L369.45,152.39 L369.76,152.25 L370.07,152.11 L370.38,151.96 L370.69,151.80 L371.00,151.65 L371.30,151.49 L371.60,151.32 L371.90,151.16 L372.20,150.99 L372.50,150.81 L372.80,150.64 L373.09,150.46 L373.38,150.28 L373.68,150.09 L373.97,149.90 L374.25,149.71 L374.54,149.52 L374.83,149.33 L375.11,149.13 L375.39,148.93 L375.67,148.72 L375.95,148.52 L376.23,148.31 L376.51,148.10 L376.78,147.89 L377.06,147.68 L377.33,147.46 L377.60,147.24 L377.87,147.02 L378.14,146.80 L378.41,146.58 L378.67,146.36 L378.94,146.13 L379.20,145.90 L379.47,145.67 L379.73,145.44 L379.99,145.21 L380.25,144.98 L380.50,144.74 L380.76,144.51 L381.01,144.27 L381.27,144.04 L381.52,143.80 L381.77,143.56 L382.02,143.32 L382.27,143.08 L382.52,142.83 L382.77,142.59 L383.02,142.35 L383.26,142.10 L383.51,141.86 L383.75,141.61 L383.99,141.36 L384.23,141.12 L384.47,140.87 L384.71,140.62 L384.95,140.37 L385.19,140.12 L385.42,139.86 L385.66,139.61 L385.89,139.36 L386.13,139.10 L386.36,138.85 L386.59,138.59 L386.82,138.33 L387.06,138.08 L387.28,137.82 L387.51,137.56 L387.74,137.30 L387.97,137.04 L388.19,136.78 L388.42,136.52 L388.65,136.25 L388.87,135.99 L389.09,135.73 L389.32,135.46 L389.54,135.20 L389.76,134.93 L389.98,134.66 L390.20,134.40 L390.42,134.13 L390.64,133.86 L390.86,133.59 L391.07,133.32 L391.29,133.05 L391.51,132.78 L391.72,132.51 L391.94,132.24 L392.15,131.97 L392.37,131.69 L392.58,131.42 L392.79,131.15 L393.01,130.87 L393.22,130.60 L393.43,130.32 L393.64,130.05 L393.85,129.77 L394.06,129.50 L394.27,129.22 L394.48,128.94 L394.69,128.66 L394.90,128.39 L395.11,128.11 L395.32,127.83 L395.53,127.55 L395.73,127.27 L395.94,126.99 L396.15,126.71 L396.35,126.43 L396.56,126.15 L396.77,125.86 L396.97,125.58 L397.18,125.30 L397.38,125.02 L397.59,124.74 L397.80,124.45 L398.00,124.17 L398.21,123.89 L398.42,123.61 L398.62,123.33 L398.83,123.05 L399.04,122.77 L399.25,122.49 L399.45,122.21 L399.66,121.93 L399.87,121.65 L400.08,121.37 L400.30,121.10 L400.51,120.82 L400.72,120.55 L400.94,120.27 L401.15,120.00 L401.37,119.73 L401.59,119.46 L401.81,119.19 L402.03,118.93 L402.25,118.66 L402.47,118.40 L402.70,118.13 L402.92,117.87 L403.15,117.61 L403.38,117.36 L403.61,117.10 L403.84,116.85 L404.08,116.60 L404.32,116.35 L404.55,116.10 L404.80,115.85 L405.04,115.61 L405.28,115.37 L405.53,115.13 L405.78,114.90 L406.03,114.67 L406.29,114.44 L406.54,114.21 L406.80,113.98 L407.06,113.76 L407.33,113.54 L407.59,113.32 L407.86,113.11 L408.13,112.89 L408.40,112.68 L408.68,112.47 L408.95,112.27 L409.23,112.06 L409.51,111.86 L409.79,111.66 L410.07,111.47 L410.36,111.27 L410.64,111.08 L410.93,110.89 L411.22,110.71 L411.51,110.52 L411.81,110.34 L412.10,110.16 L412.40,109.98 L412.70,109.80 L413.00,109.63 L413.30,109.46 L413.60,109.29 L413.91,109.12 L414.21,108.96 L414.52,108.80 L414.83,108.64 L415.14,108.48 L415.45,108.32 L415.76,108.17 L416.07,108.02 L416.39,107.87 L416.70,107.72 L417.02,107.57 L417.34,107.43 L417.66,107.29 L417.98,107.15 L418.30,107.01 L418.62,106.87 L418.95,106.74 L419.27,106.61 L419.60,106.48 L419.92,106.35 L420.25,106.23 L420.58,106.10 L420.90,105.98 L421.23,105.86 L421.56,105.75 L421.89,105.63 L422.22,105.52 L422.56,105.40 L422.89,105.29 L423.22,105.18 L423.55,105.08 L423.89,104.97 L424.22,104.87 L424.56,104.77 L424.89,104.67 L425.23,104.57 L425.56,104.48 L425.90,104.38 L426.23,104.29 L426.57,104.20 L426.91,104.11 L427.25,104.03 L427.58,103.94 L427.92,103.86 L428.26,103.77 L428.59,103.69 L428.93,103.62 L429.27,103.54 L429.61,103.46 L429.95,103.39 L430.29,103.32 L430.63,103.24 L430.96,103.17 L431.30,103.11 L431.64,103.04 L431.98,102.97 L432.32,102.91 L432.66,102.85 L433.00,102.78 L433.34,102.72 L433.68,102.66 L434.02,102.61 L434.36,102.55 L434.70,102.49 L435.05,102.44 L435.39,102.39 L435.73,102.33 L436.07,102.28 L436.41,102.23 L436.75,102.18 L437.09,102.13 L437.44,102.09 L437.78,102.04 L438.12,101.99 L438.46,101.95 L438.80,101.91 L439.15,101.86 L439.49,101.82 L439.83,101.78 L440.17,101.74 L440.52,101.70 L440.86,101.66 L441.20,101.62 L441.55,101.58 L441.89,101.54 L442.23,101.51 L442.58,101.47 L442.92,101.44 L443.26,101.40 L443.61,101.37 L443.95,101.33 L444.29,101.30 L444.64,101.26 L444.98,101.23 L445.33,101.20 L445.67,101.17 L446.01,101.14 L446.36,101.10 L446.70,101.07 L447.05,101.04 L447.39,101.01 L447.73,100.98 L448.08,100.95 L448.42,100.92 L448.77,100.89 L449.11,100.86 L449.46,100.83 L449.80,100.80 L450.15,100.77 L450.49,100.74 L450.84,100.71 L451.18,100.68 L451.53,100.65 L451.87,100.62 L452.21,100.59 L452.56,100.56 L452.90,100.53 L453.25,100.49 L453.59,100.46 L453.94,100.43 L454.28,100.40 L454.63,100.37 L454.97,100.33 L455.32,100.30 L455.66,100.27 L456.01,100.24 L456.35,100.20 L456.70,100.17 L457.04,100.13 L457.39,100.10 L457.73,100.06 L458.08,100.02 L458.42,99.99 L458.76,99.95 L459.11,99.91 L459.45,99.87 L459.80,99.83 L460.14,99.79 L460.49,99.75 L460.83,99.71 L461.18,99.66 L461.52,99.62 L461.86,99.57 L462.21,99.53 L462.55,99.48 L462.90,99.44 L463.24,99.39 L463.58,99.34 L463.93,99.29 L464.27,99.24 L464.61,99.18 L464.96,99.13 L465.30,99.08 L465.64,99.02 L465.99,98.96 L466.33,98.91 L466.67,98.85 L467.02,98.79 L467.36,98.72 L467.70,98.66" fill="none" stroke="#000" stroke-width="1.7" stroke-linejoin="round"/>
<text transform="rotate(0.05 484.2 14.2)" x="484.2" y="14.2" font-size="13.6" font-family="Liberation Sans, sans-serif" font-weight="bold">(C)</text>
<rect x="524.80" y="25.55" width="183.96" height="151.20" fill="none" stroke="#000" stroke-width="1.6"/>
<line x1="524.80" y1="101.15" x2="708.76" y2="101.15" stroke="#000" stroke-width="1.75"/>
<line x1="522.80" y1="25.55" x2="524.80" y2="25.55" stroke="#000" stroke-width="1.2"/>
<text transform="rotate(0.05 518.80 28.20)" x="518.80" y="28.20" font-size="8.4" text-anchor="end" font-family="Liberation Sans, sans-serif" font-weight="bold">15</text>
<line x1="522.80" y1="50.75" x2="524.80" y2="50.75" stroke="#000" stroke-width="1.2"/>
<text transform="rotate(0.05 518.80 53.40)" x="518.80" y="53.40" font-size="8.4" text-anchor="end" font-family="Liberation Sans, sans-serif" font-weight="bold">10</text>
<line x1="522.80" y1="75.95" x2="524.80" y2="75.95" stroke="#000" stroke-width="1.2"/>
<text transform="rotate(0.05 518.80 78.60)" x="518.80" y="78.60" font-size="8.4" text-anchor="end" font-family="Liberation Sans, sans-serif" font-weight="bold">5</text>
<line x1="522.80" y1="101.15" x2="524.80" y2="101.15" stroke="#000" stroke-width="1.2"/>
<text transform="rotate(0.05 518.80 103.80)" x="518.80" y="103.80" font-size="8.4" text-anchor="end" font-family="Liberation Sans, sans-serif" font-weight="bold">0</text>
<line x1="522.80" y1="126.35" x2="524.80" y2="126.35" stroke="#000" stroke-width="1.2"/>
<text transform="rotate(0.05 518.80 129.00)" x="518.80" y="129.00" font-size="8.4" text-anchor="end" font-family="Liberation Sans, sans-serif" font-weight="bold">-5</text>
<line x1="522.80" y1="151.55" x2="524.80" y2="151.55" stroke="#000" stroke-width="1.2"/>
<text transform="rotate(0.05 518.80 154.20)" x="518.80" y="154.20" font-size="8.4" text-anchor="end" font-family="Liberation Sans, sans-serif" font-weight="bold">-10</text>
<line x1="522.80" y1="176.75" x2="524.80" y2="176.75" stroke="#000" stroke-width="1.2"/>
<text transform="rotate(0.05 518.80 179.40)" x="518.80" y="179.40" font-size="8.4" text-anchor="end" font-family="Liberation Sans, sans-serif" font-weight="bold">-15</text>
<line x1="524.80" y1="101.15" x2="524.80" y2="104.05" stroke="#000" stroke-width="1.3"/>
<line x1="551.08" y1="101.15" x2="551.08" y2="104.05" stroke="#000" stroke-width="1.3"/>
<line x1="577.36" y1="101.15" x2="577.36" y2="104.05" stroke="#000" stroke-width="1.3"/>
<line x1="603.64" y1="101.15" x2="603.64" y2="104.05" stroke="#000" stroke-width="1.3"/>
<line x1="629.92" y1="101.15" x2="629.92" y2="104.05" stroke="#000" stroke-width="1.3"/>
<line x1="656.20" y1="101.15" x2="656.20" y2="104.05" stroke="#000" stroke-width="1.3"/>
<line x1="682.48" y1="101.15" x2="682.48" y2="104.05" stroke="#000" stroke-width="1.3"/>
<line x1="708.76" y1="101.15" x2="708.76" y2="104.05" stroke="#000" stroke-width="1.3"/>
<text transform="rotate(0.05 525.10 113.85)" x="525.10" y="113.85" font-size="8.2" text-anchor="middle" font-family="Liberation Sans, sans-serif" font-weight="bold">190</text>
<text transform="rotate(0.05 577.66 113.85)" x="577.66" y="113.85" font-size="8.2" text-anchor="middle" font-family="Liberation Sans, sans-serif" font-weight="bold">210</text>
<text transform="rotate(0.05 630.22 113.85)" x="630.22" y="113.85" font-size="8.2" text-anchor="middle" font-family="Liberation Sans, sans-serif" font-weight="bold">230</text>
<text transform="rotate(0.05 682.78 113.85)" x="682.78" y="113.85" font-size="8.2" text-anchor="middle" font-family="Liberation Sans, sans-serif" font-weight="bold">250</text>
<text transform="rotate(0.05 611.90 187.85)" x="611.90" y="187.85" font-size="8.6" text-anchor="middle" font-family="Liberation Sans, sans-serif" font-weight="bold">Wavelength (nm)</text>
<text transform="translate(503.50,101.45) rotate(-89.95)" font-size="8.6" text-anchor="middle" font-family="Liberation Sans, sans-serif" font-weight="bold">MRE (deg cm<tspan font-size="5.5" dy="-3">2</tspan><tspan dy="3"> dmol</tspan><tspan font-size="5.5" dy="-3">-1</tspan><tspan dy="3">)</tspan></text>
<line x1="642.80" y1="36.2" x2="653.70" y2="36.2" stroke="#000" stroke-width="1.5"/>
<text transform="rotate(0.05 659.50 39.3)" x="659.50" y="39.3" font-size="8.5" font-family="Liberation Sans, sans-serif" font-weight="bold">BPSS2241</text>
<path d="M524.90,101.09 L524.98,100.78 L525.06,100.47 L525.14,100.15 L525.23,99.84 L525.31,99.52 L525.39,99.21 L525.47,98.90 L525.56,98.58 L525.64,98.27 L525.72,97.95 L525.80,97.64 L525.88,97.32 L525.97,97.01 L526.05,96.69 L526.13,96.38 L526.21,96.06 L526.29,95.75 L526.37,95.43 L526.46,95.12 L526.54,94.80 L526.62,94.49 L526.70,94.17 L526.78,93.85 L526.86,93.54 L526.94,93.22 L527.02,92.91 L527.11,92.59 L527.19,92.27 L527.27,91.96 L527.35,91.64 L527.43,91.32 L527.51,91.01 L527.59,90.69 L527.67,90.37 L527.75,90.06 L527.83,89.74 L527.91,89.42 L527.99,89.11 L528.07,88.79 L528.15,88.47 L528.23,88.16 L528.31,87.84 L528.40,87.52 L528.48,87.21 L528.56,86.89 L528.64,86.57 L528.72,86.25 L528.80,85.94 L528.88,85.62 L528.96,85.30 L529.04,84.99 L529.12,84.67 L529.20,84.35 L529.28,84.04 L529.36,83.72 L529.44,83.40 L529.52,83.08 L529.60,82.77 L529.68,82.45 L529.76,82.13 L529.84,81.82 L529.92,81.50 L530.00,81.18 L530.08,80.87 L530.16,80.55 L530.24,80.23 L530.32,79.91 L530.40,79.60 L530.48,79.28 L530.56,78.96 L530.64,78.65 L530.72,78.33 L530.80,78.02 L530.88,77.70 L530.96,77.38 L531.04,77.07 L531.12,76.75 L531.20,76.43 L531.28,76.12 L531.36,75.80 L531.44,75.49 L531.53,75.17 L531.61,74.85 L531.69,74.54 L531.77,74.22 L531.85,73.91 L531.93,73.59 L532.01,73.28 L532.09,72.96 L532.17,72.65 L532.25,72.33 L532.33,72.02 L532.41,71.70 L532.49,71.39 L532.58,71.07 L532.66,70.76 L532.74,70.44 L532.82,70.13 L532.90,69.82 L532.98,69.50 L533.06,69.19 L533.14,68.87 L533.23,68.56 L533.31,68.25 L533.39,67.93 L533.47,67.62 L533.55,67.31 L533.64,66.99 L533.72,66.68 L533.80,66.37 L533.89,66.05 L533.97,65.74 L534.05,65.43 L534.14,65.12 L534.22,64.80 L534.30,64.49 L534.39,64.18 L534.47,63.87 L534.56,63.55 L534.64,63.24 L534.73,62.93 L534.82,62.61 L534.90,62.30 L534.99,61.99 L535.08,61.68 L535.16,61.36 L535.25,61.05 L535.34,60.74 L535.43,60.43 L535.52,60.11 L535.61,59.80 L535.70,59.49 L535.79,59.18 L535.88,58.86 L535.97,58.55 L536.06,58.24 L536.15,57.92 L536.25,57.61 L536.34,57.30 L536.43,56.98 L536.53,56.67 L536.62,56.36 L536.72,56.04 L536.82,55.73 L536.91,55.42 L537.01,55.10 L537.11,54.79 L537.21,54.47 L537.31,54.16 L537.41,53.85 L537.51,53.53 L537.61,53.22 L537.71,52.90 L537.81,52.59 L537.91,52.27 L538.02,51.96 L538.12,51.64 L538.23,51.32 L538.34,51.01 L538.46,50.69 L538.57,50.37 L538.70,50.05 L538.83,49.73 L538.96,49.41 L539.10,49.09 L539.25,48.76 L539.41,48.44 L539.57,48.11 L539.75,47.78 L539.93,47.45 L540.13,47.13 L540.32,46.82 L540.53,46.54 L540.74,46.28 L540.95,46.05 L541.17,45.86 L541.39,45.71 L541.61,45.61 L541.83,45.57 L542.05,45.59 L542.27,45.67 L542.48,45.80 L542.69,45.98 L542.90,46.20 L543.10,46.45 L543.30,46.73 L543.50,47.03 L543.68,47.35 L543.86,47.68 L544.04,48.01 L544.20,48.34 L544.36,48.67 L544.51,49.00 L544.65,49.33 L544.79,49.66 L544.92,49.99 L545.05,50.32 L545.17,50.64 L545.28,50.97 L545.40,51.30 L545.50,51.62 L545.61,51.94 L545.71,52.26 L545.81,52.59 L545.91,52.91 L546.00,53.23 L546.09,53.55 L546.18,53.86 L546.27,54.18 L546.36,54.50 L546.44,54.82 L546.53,55.13 L546.61,55.45 L546.68,55.76 L546.76,56.08 L546.84,56.39 L546.91,56.71 L546.98,57.02 L547.05,57.33 L547.12,57.65 L547.19,57.96 L547.26,58.27 L547.32,58.59 L547.39,58.90 L547.45,59.21 L547.51,59.52 L547.58,59.84 L547.64,60.15 L547.70,60.46 L547.75,60.78 L547.81,61.09 L547.87,61.40 L547.93,61.71 L547.98,62.03 L548.04,62.34 L548.09,62.66 L548.15,62.97 L548.20,63.29 L548.26,63.60 L548.31,63.92 L548.37,64.24 L548.42,64.55 L548.48,64.87 L548.53,65.19 L548.58,65.51 L548.64,65.83 L548.69,66.15 L548.75,66.47 L548.80,66.79 L548.85,67.11 L548.91,67.43 L548.96,67.75 L549.01,68.07 L549.07,68.40 L549.12,68.72 L549.17,69.04 L549.23,69.36 L549.28,69.69 L549.34,70.01 L549.39,70.33 L549.44,70.66 L549.50,70.98 L549.55,71.31 L549.60,71.63 L549.66,71.96 L549.71,72.28 L549.77,72.61 L549.82,72.93 L549.88,73.26 L549.93,73.58 L549.98,73.91 L550.04,74.23 L550.09,74.56 L550.15,74.88 L550.20,75.21 L550.26,75.53 L550.31,75.86 L550.37,76.18 L550.42,76.50 L550.48,76.83 L550.54,77.15 L550.59,77.48 L550.65,77.80 L550.71,78.13 L550.76,78.45 L550.82,78.77 L550.88,79.10 L550.93,79.42 L550.99,79.74 L551.05,80.06 L551.11,80.39 L551.17,80.71 L551.22,81.03 L551.28,81.35 L551.34,81.67 L551.40,82.00 L551.46,82.32 L551.52,82.64 L551.58,82.96 L551.64,83.28 L551.70,83.60 L551.76,83.92 L551.82,84.24 L551.88,84.56 L551.94,84.88 L552.00,85.20 L552.06,85.52 L552.12,85.84 L552.18,86.16 L552.24,86.48 L552.30,86.80 L552.36,87.12 L552.43,87.44 L552.49,87.76 L552.55,88.08 L552.61,88.40 L552.67,88.72 L552.74,89.04 L552.80,89.36 L552.86,89.68 L552.92,89.99 L552.99,90.31 L553.05,90.63 L553.11,90.95 L553.18,91.27 L553.24,91.59 L553.30,91.91 L553.37,92.22 L553.43,92.54 L553.49,92.86 L553.56,93.18 L553.62,93.50 L553.69,93.82 L553.75,94.13 L553.81,94.45 L553.88,94.77 L553.94,95.09 L554.01,95.41 L554.07,95.72 L554.14,96.04 L554.20,96.36 L554.27,96.68 L554.33,97.00 L554.40,97.32 L554.46,97.63 L554.53,97.95 L554.59,98.27 L554.66,98.59 L554.72,98.91 L554.79,99.23 L554.85,99.54 L554.92,99.86 L554.99,100.18 L555.05,100.50 L555.12,100.82 L555.18,101.14 L555.25,101.46 L555.32,101.78 L555.38,102.09 L555.45,102.41 L555.51,102.73 L555.58,103.05 L555.65,103.37 L555.71,103.69 L555.78,104.01 L555.85,104.33 L555.91,104.65 L555.98,104.97 L556.05,105.29 L556.11,105.61 L556.18,105.93 L556.25,106.25 L556.32,106.57 L556.38,106.89 L556.45,107.21 L556.52,107.52 L556.59,107.84 L556.66,108.16 L556.72,108.48 L556.79,108.80 L556.86,109.12 L556.93,109.44 L557.00,109.76 L557.07,110.08 L557.14,110.40 L557.21,110.72 L557.28,111.04 L557.35,111.36 L557.42,111.68 L557.49,112.00 L557.56,112.32 L557.63,112.64 L557.70,112.96 L557.77,113.28 L557.84,113.60 L557.92,113.91 L557.99,114.23 L558.06,114.55 L558.13,114.87 L558.21,115.19 L558.28,115.51 L558.35,115.83 L558.43,116.15 L558.50,116.47 L558.58,116.78 L558.65,117.10 L558.73,117.42 L558.80,117.74 L558.88,118.06 L558.95,118.38 L559.03,118.69 L559.11,119.01 L559.18,119.33 L559.26,119.65 L559.34,119.96 L559.42,120.28 L559.50,120.60 L559.57,120.92 L559.65,121.23 L559.73,121.55 L559.81,121.87 L559.89,122.18 L559.97,122.50 L560.06,122.81 L560.14,123.13 L560.22,123.45 L560.30,123.76 L560.38,124.08 L560.47,124.39 L560.55,124.71 L560.64,125.02 L560.72,125.34 L560.81,125.65 L560.89,125.97 L560.98,126.28 L561.06,126.60 L561.15,126.91 L561.24,127.23 L561.33,127.54 L561.41,127.85 L561.50,128.17 L561.59,128.48 L561.68,128.79 L561.77,129.10 L561.86,129.42 L561.95,129.73 L562.05,130.04 L562.14,130.35 L562.23,130.66 L562.32,130.97 L562.42,131.29 L562.51,131.60 L562.61,131.91 L562.70,132.22 L562.80,132.53 L562.90,132.84 L562.99,133.15 L563.09,133.46 L563.19,133.76 L563.29,134.07 L563.39,134.38 L563.49,134.69 L563.59,135.00 L563.69,135.30 L563.80,135.61 L563.90,135.92 L564.01,136.22 L564.12,136.53 L564.22,136.83 L564.33,137.14 L564.44,137.44 L564.56,137.75 L564.67,138.05 L564.78,138.35 L564.90,138.65 L565.02,138.95 L565.14,139.25 L565.26,139.55 L565.38,139.85 L565.51,140.15 L565.63,140.45 L565.76,140.74 L565.89,141.04 L566.02,141.33 L566.16,141.63 L566.30,141.92 L566.43,142.21 L566.58,142.50 L566.72,142.79 L566.86,143.08 L567.01,143.37 L567.16,143.66 L567.32,143.95 L567.47,144.23 L567.63,144.52 L567.79,144.80 L567.95,145.08 L568.12,145.36 L568.29,145.64 L568.46,145.92 L568.64,146.20 L568.81,146.48 L568.99,146.75 L569.18,147.03 L569.36,147.30 L569.55,147.57 L569.75,147.84 L569.95,148.11 L570.15,148.38 L570.35,148.64 L570.56,148.91 L570.77,149.17 L570.98,149.43 L571.20,149.69 L571.42,149.95 L571.64,150.21 L571.87,150.47 L572.11,150.72 L572.34,150.97 L572.58,151.22 L572.83,151.47 L573.07,151.71 L573.33,151.95 L573.58,152.19 L573.84,152.42 L574.10,152.64 L574.36,152.85 L574.63,153.06 L574.90,153.27 L575.18,153.46 L575.45,153.64 L575.73,153.82 L576.01,153.98 L576.30,154.14 L576.59,154.28 L576.88,154.41 L577.17,154.53 L577.46,154.64 L577.76,154.73 L578.06,154.81 L578.36,154.88 L578.67,154.93 L578.97,154.96 L579.28,154.98 L579.59,154.99 L579.90,154.99 L580.22,154.98 L580.53,154.95 L580.85,154.92 L581.17,154.88 L581.49,154.83 L581.81,154.77 L582.13,154.71 L582.45,154.65 L582.78,154.58 L583.10,154.51 L583.43,154.43 L583.75,154.36 L584.08,154.28 L584.41,154.21 L584.73,154.13 L585.06,154.06 L585.39,154.00 L585.72,153.93 L586.05,153.88 L586.37,153.82 L586.70,153.77 L587.03,153.73 L587.36,153.69 L587.69,153.66 L588.02,153.62 L588.34,153.60 L588.67,153.57 L589.00,153.55 L589.33,153.53 L589.66,153.52 L589.98,153.50 L590.31,153.49 L590.64,153.49 L590.97,153.48 L591.30,153.48 L591.62,153.47 L591.95,153.47 L592.28,153.47 L592.61,153.48 L592.93,153.48 L593.26,153.48 L593.59,153.49 L593.91,153.49 L594.24,153.49 L594.57,153.50 L594.89,153.50 L595.22,153.51 L595.54,153.51 L595.87,153.51 L596.20,153.51 L596.52,153.51 L596.85,153.51 L597.17,153.51 L597.50,153.50 L597.82,153.50 L598.15,153.49 L598.47,153.48 L598.79,153.46 L599.12,153.45 L599.44,153.43 L599.77,153.41 L600.09,153.38 L600.41,153.35 L600.73,153.32 L601.06,153.28 L601.38,153.24 L601.70,153.20 L602.02,153.15 L602.34,153.10 L602.66,153.05 L602.98,152.99 L603.30,152.93 L603.62,152.86 L603.93,152.80 L604.25,152.73 L604.57,152.65 L604.88,152.58 L605.20,152.50 L605.51,152.41 L605.83,152.32 L606.14,152.23 L606.45,152.14 L606.76,152.04 L607.07,151.94 L607.38,151.84 L607.68,151.73 L607.99,151.62 L608.30,151.51 L608.60,151.39 L608.90,151.27 L609.21,151.15 L609.51,151.02 L609.80,150.89 L610.10,150.76 L610.40,150.63 L610.69,150.49 L610.99,150.35 L611.28,150.20 L611.57,150.05 L611.86,149.90 L612.15,149.75 L612.44,149.59 L612.72,149.43 L613.00,149.27 L613.29,149.10 L613.56,148.93 L613.84,148.76 L614.12,148.59 L614.39,148.41 L614.67,148.23 L614.94,148.04 L615.21,147.86 L615.47,147.67 L615.74,147.47 L616.00,147.28 L616.26,147.08 L616.52,146.88 L616.78,146.68 L617.03,146.47 L617.29,146.26 L617.54,146.05 L617.79,145.83 L618.03,145.62 L618.28,145.40 L618.52,145.17 L618.76,144.95 L619.00,144.73 L619.24,144.50 L619.48,144.27 L619.72,144.04 L619.95,143.80 L620.18,143.57 L620.41,143.33 L620.64,143.09 L620.87,142.85 L621.10,142.61 L621.32,142.37 L621.55,142.13 L621.77,141.88 L621.99,141.64 L622.22,141.39 L622.44,141.14 L622.65,140.90 L622.87,140.65 L623.09,140.40 L623.31,140.15 L623.52,139.90 L623.74,139.65 L623.95,139.40 L624.16,139.15 L624.37,138.89 L624.59,138.64 L624.80,138.39 L625.01,138.14 L625.22,137.89 L625.43,137.64 L625.63,137.39 L625.84,137.14 L626.05,136.89 L626.26,136.64 L626.47,136.39 L626.67,136.14 L626.88,135.89 L627.08,135.64 L627.29,135.40 L627.50,135.15 L627.70,134.90 L627.91,134.65 L628.11,134.41 L628.32,134.16 L628.52,133.91 L628.73,133.67 L628.93,133.42 L629.13,133.18 L629.34,132.93 L629.54,132.68 L629.75,132.44 L629.95,132.19 L630.16,131.95 L630.36,131.70 L630.56,131.46 L630.77,131.21 L630.97,130.96 L631.18,130.72 L631.38,130.47 L631.59,130.23 L631.79,129.98 L632.00,129.73 L632.20,129.49 L632.41,129.24 L632.62,128.99 L632.82,128.75 L633.03,128.50 L633.24,128.25 L633.45,128.01 L633.65,127.76 L633.86,127.51 L634.07,127.26 L634.28,127.01 L634.49,126.76 L634.70,126.51 L634.91,126.26 L635.12,126.01 L635.33,125.76 L635.55,125.51 L635.76,125.26 L635.97,125.01 L636.19,124.76 L636.40,124.51 L636.62,124.26 L636.83,124.01 L637.05,123.76 L637.26,123.51 L637.48,123.26 L637.70,123.01 L637.92,122.76 L638.14,122.51 L638.36,122.27 L638.58,122.02 L638.80,121.77 L639.02,121.52 L639.24,121.27 L639.46,121.03 L639.69,120.78 L639.91,120.54 L640.14,120.29 L640.36,120.05 L640.59,119.80 L640.82,119.56 L641.04,119.32 L641.27,119.07 L641.50,118.83 L641.73,118.59 L641.96,118.35 L642.19,118.11 L642.43,117.88 L642.66,117.64 L642.89,117.40 L643.13,117.17 L643.36,116.93 L643.60,116.70 L643.83,116.47 L644.07,116.24 L644.31,116.01 L644.55,115.78 L644.79,115.55 L645.03,115.33 L645.27,115.10 L645.52,114.88 L645.76,114.65 L646.00,114.43 L646.25,114.21 L646.50,114.00 L646.74,113.78 L646.99,113.56 L647.24,113.35 L647.49,113.14 L647.74,112.93 L647.99,112.72 L648.25,112.51 L648.50,112.30 L648.76,112.10 L649.01,111.90 L649.27,111.70 L649.53,111.50 L649.79,111.30 L650.05,111.11 L650.31,110.91 L650.57,110.72 L650.83,110.53 L651.10,110.34 L651.36,110.16 L651.63,109.98 L651.89,109.79 L652.16,109.62 L652.43,109.44 L652.70,109.26 L652.98,109.09 L653.25,108.92 L653.52,108.75 L653.80,108.59 L654.07,108.42 L654.35,108.26 L654.63,108.10 L654.91,107.95 L655.19,107.79 L655.47,107.64 L655.75,107.49 L656.04,107.34 L656.32,107.20 L656.61,107.05 L656.90,106.91 L657.18,106.77 L657.47,106.64 L657.76,106.50 L658.06,106.37 L658.35,106.24 L658.64,106.11 L658.93,105.99 L659.23,105.86 L659.53,105.74 L659.82,105.62 L660.12,105.50 L660.42,105.39 L660.72,105.27 L661.02,105.16 L661.32,105.05 L661.62,104.94 L661.93,104.83 L662.23,104.73 L662.53,104.63 L662.84,104.53 L663.15,104.43 L663.45,104.33 L663.76,104.23 L664.07,104.14 L664.38,104.05 L664.69,103.96 L665.00,103.87 L665.31,103.78 L665.62,103.70 L665.94,103.61 L666.25,103.53 L666.57,103.45 L666.88,103.37 L667.20,103.30 L667.51,103.22 L667.83,103.15 L668.15,103.08 L668.47,103.01 L668.78,102.94 L669.10,102.87 L669.42,102.80 L669.74,102.74 L670.06,102.67 L670.39,102.61 L670.71,102.55 L671.03,102.49 L671.35,102.44 L671.68,102.38 L672.00,102.32 L672.33,102.27 L672.65,102.22 L672.98,102.17 L673.30,102.12 L673.63,102.07 L673.96,102.02 L674.28,101.98 L674.61,101.93 L674.94,101.89 L675.27,101.85 L675.59,101.80 L675.92,101.76 L676.25,101.73 L676.58,101.69 L676.91,101.65 L677.24,101.61 L677.57,101.58 L677.90,101.55 L678.23,101.51 L678.57,101.48 L678.90,101.45 L679.23,101.42 L679.56,101.39 L679.89,101.37 L680.23,101.34 L680.56,101.31 L680.89,101.29 L681.22,101.26 L681.56,101.24 L681.89,101.22 L682.22,101.20 L682.56,101.18 L682.89,101.16 L683.22,101.14 L683.56,101.12 L683.89,101.10 L684.22,101.08 L684.56,101.07 L684.89,101.05 L685.23,101.04 L685.56,101.02 L685.89,101.01 L686.23,101.00 L686.56,100.98 L686.89,100.97 L687.23,100.96 L687.56,100.95 L687.90,100.94 L688.23,100.93 L688.56,100.92 L688.90,100.91 L689.23,100.90 L689.56,100.89 L689.89,100.89 L690.23,100.88 L690.56,100.87 L690.89,100.87 L691.22,100.86 L691.56,100.86 L691.89,100.85 L692.22,100.85 L692.55,100.84 L692.88,100.84 L693.21,100.83 L693.54,100.83 L693.87,100.83 L694.20,100.82 L694.53,100.82 L694.86,100.82 L695.19,100.81 L695.52,100.81 L695.85,100.81 L696.18,100.80 L696.51,100.80 L696.83,100.80 L697.16,100.80 L697.49,100.80 L697.81,100.79 L698.14,100.79 L698.46,100.79 L698.79,100.79 L699.11,100.78 L699.44,100.78 L699.76,100.78 L700.08,100.78 L700.41,100.77 L700.73,100.77 L701.05,100.77 L701.37,100.76 L701.69,100.76 L702.01,100.76 L702.33,100.75 L702.65,100.75 L702.97,100.75 L703.28,100.74 L703.60,100.74 L703.92,100.73 L704.23,100.73 L704.55,100.72 L704.86,100.71 L705.18,100.71 L705.49,100.70 L705.80,100.69 L706.11,100.69 L706.42,100.68 L706.73,100.67 L707.04,100.66 L707.35,100.65 L707.66,100.64 L707.97,100.63 L708.27,100.62 L708.58,100.61" fill="none" stroke="#000" stroke-width="1.7" stroke-linejoin="round"/>
<text transform="rotate(0.05 87.3 213.3)" x="87.3" y="213.3" font-size="13.6" font-family="Liberation Sans, sans-serif" font-weight="bold">(D)</text>
<path d="M129.70,226.00 L337.60,226.00 L337.60,392.20 L129.70,392.20 Z" fill="none" stroke="#000" stroke-width="1.8"/>
<line x1="125.90" y1="388.20" x2="129.70" y2="388.20" stroke="#000" stroke-width="1.6"/>
<text transform="rotate(0.05 125.10 391.40)" x="125.10" y="391.40" font-size="10" text-anchor="end" font-family="Liberation Sans, sans-serif" font-weight="bold">0</text>
<line x1="125.90" y1="347.90" x2="129.70" y2="347.90" stroke="#000" stroke-width="1.6"/>
<text transform="rotate(0.05 125.10 351.10)" x="125.10" y="351.10" font-size="10" text-anchor="end" font-family="Liberation Sans, sans-serif" font-weight="bold">5</text>
<line x1="125.90" y1="307.60" x2="129.70" y2="307.60" stroke="#000" stroke-width="1.6"/>
<text transform="rotate(0.05 125.10 310.80)" x="125.10" y="310.80" font-size="10" text-anchor="end" font-family="Liberation Sans, sans-serif" font-weight="bold">10</text>
<line x1="125.90" y1="267.30" x2="129.70" y2="267.30" stroke="#000" stroke-width="1.6"/>
<text transform="rotate(0.05 125.10 270.50)" x="125.10" y="270.50" font-size="10" text-anchor="end" font-family="Liberation Sans, sans-serif" font-weight="bold">15</text>
<line x1="125.90" y1="227.00" x2="129.70" y2="227.00" stroke="#000" stroke-width="1.6"/>
<text transform="rotate(0.05 125.10 230.20)" x="125.10" y="230.20" font-size="10" text-anchor="end" font-family="Liberation Sans, sans-serif" font-weight="bold">20</text>
<line x1="129.80" y1="392.20" x2="129.80" y2="396.20" stroke="#000" stroke-width="1.6"/>
<text transform="rotate(0.05 129.80 406)" x="129.80" y="406" font-size="10" text-anchor="middle" font-family="Liberation Sans, sans-serif" font-weight="bold">0</text>
<line x1="164.52" y1="392.20" x2="164.52" y2="396.20" stroke="#000" stroke-width="1.6"/>
<text transform="rotate(0.05 164.52 406)" x="164.52" y="406" font-size="10" text-anchor="middle" font-family="Liberation Sans, sans-serif" font-weight="bold">4</text>
<line x1="199.24" y1="392.20" x2="199.24" y2="396.20" stroke="#000" stroke-width="1.6"/>
<text transform="rotate(0.05 199.24 406)" x="199.24" y="406" font-size="10" text-anchor="middle" font-family="Liberation Sans, sans-serif" font-weight="bold">8</text>
<line x1="233.96" y1="392.20" x2="233.96" y2="396.20" stroke="#000" stroke-width="1.6"/>
<text transform="rotate(0.05 233.96 406)" x="233.96" y="406" font-size="10" text-anchor="middle" font-family="Liberation Sans, sans-serif" font-weight="bold">12</text>
<line x1="268.68" y1="392.20" x2="268.68" y2="396.20" stroke="#000" stroke-width="1.6"/>
<text transform="rotate(0.05 268.68 406)" x="268.68" y="406" font-size="10" text-anchor="middle" font-family="Liberation Sans, sans-serif" font-weight="bold">16</text>
<line x1="303.40" y1="392.20" x2="303.40" y2="396.20" stroke="#000" stroke-width="1.6"/>
<text transform="rotate(0.05 303.40 406)" x="303.40" y="406" font-size="10" text-anchor="middle" font-family="Liberation Sans, sans-serif" font-weight="bold">20</text>
<line x1="338.12" y1="392.20" x2="338.12" y2="396.20" stroke="#000" stroke-width="1.6"/>
<text transform="rotate(0.05 338.12 406)" x="338.12" y="406" font-size="10" text-anchor="middle" font-family="Liberation Sans, sans-serif" font-weight="bold">24</text>
<text transform="rotate(0.05 233.65 424)" x="233.65" y="424" font-size="10" text-anchor="middle" font-family="Liberation Sans, sans-serif" font-weight="bold">Elution volume (mL)</text>
<text transform="translate(105.0,308.35) rotate(-89.95)" font-size="11.3" text-anchor="middle" font-family="Liberation Sans, sans-serif" font-weight="bold">Absorbance at 280 nm</text>
<path d="M130.20,388.20 L130.45,388.20 L130.70,388.20 L130.95,388.20 L131.20,388.20 L131.45,388.20 L131.70,388.20 L131.95,388.20 L132.20,388.20 L132.45,388.20 L132.70,388.20 L132.95,388.20 L133.20,388.20 L133.45,388.20 L133.70,388.20 L133.95,388.20 L134.20,388.20 L134.45,388.20 L134.70,388.20 L134.95,388.20 L135.20,388.20 L135.45,388.20 L135.70,388.20 L135.95,388.20 L136.20,388.20 L136.45,388.20 L136.70,388.20 L136.95,388.20 L137.20,388.20 L137.45,388.20 L137.70,388.20 L137.95,388.20 L138.20,388.20 L138.45,388.20 L138.70,388.20 L138.96,388.20 L139.21,388.20 L139.46,388.20 L139.71,388.20 L139.96,388.20 L140.21,388.20 L140.46,388.20 L140.71,388.20 L140.96,388.20 L141.21,388.20 L141.46,388.20 L141.71,388.20 L141.96,388.20 L142.21,388.20 L142.46,388.20 L142.71,388.20 L142.96,388.20 L143.21,388.20 L143.46,388.20 L143.71,388.20 L143.96,388.20 L144.21,388.20 L144.46,388.20 L144.71,388.20 L144.96,388.20 L145.21,388.20 L145.46,388.20 L145.71,388.20 L145.96,388.20 L146.21,388.20 L146.46,388.20 L146.71,388.20 L146.96,388.20 L147.21,388.20 L147.46,388.20 L147.71,388.20 L147.96,388.20 L148.21,388.20 L148.46,388.20 L148.71,388.20 L148.96,388.20 L149.21,388.20 L149.46,388.20 L149.71,388.20 L149.96,388.20 L150.21,388.20 L150.46,388.20 L150.71,388.20 L150.96,388.20 L151.21,388.20 L151.46,388.20 L151.71,388.20 L151.96,388.20 L152.21,388.20 L152.46,388.20 L152.71,388.20 L152.96,388.20 L153.21,388.20 L153.46,388.20 L153.71,388.20 L153.96,388.20 L154.21,388.20 L154.46,388.20 L154.71,388.20 L154.96,388.20 L155.21,388.20 L155.46,388.20 L155.71,388.20 L155.96,388.20 L156.22,388.20 L156.47,388.20 L156.72,388.20 L156.97,388.20 L157.22,388.20 L157.47,388.20 L157.72,388.20 L157.97,388.20 L158.22,388.20 L158.47,388.20 L158.72,388.20 L158.97,388.20 L159.22,388.20 L159.47,388.20 L159.72,388.20 L159.97,388.20 L160.22,388.20 L160.47,388.20 L160.72,388.20 L160.97,388.20 L161.22,388.20 L161.47,388.20 L161.72,388.20 L161.97,388.20 L162.22,388.20 L162.47,388.20 L162.72,388.20 L162.97,388.20 L163.22,388.20 L163.47,388.20 L163.72,388.20 L163.97,388.20 L164.22,388.20 L164.47,388.20 L164.72,388.20 L164.97,388.20 L165.22,388.20 L165.47,388.20 L165.72,388.20 L165.97,388.20 L166.22,388.20 L166.47,388.20 L166.72,388.20 L166.97,388.20 L167.22,388.20 L167.47,388.20 L167.72,388.20 L167.97,388.20 L168.22,388.20 L168.47,388.20 L168.72,388.20 L168.97,388.20 L169.22,388.20 L169.47,388.20 L169.72,388.20 L169.97,388.20 L170.22,388.20 L170.47,388.20 L170.72,388.20 L170.97,388.20 L171.22,388.20 L171.47,388.20 L171.72,388.20 L171.97,388.20 L172.22,388.20 L172.47,388.20 L172.72,388.20 L172.97,388.20 L173.22,388.20 L173.48,388.20 L173.73,388.20 L173.98,388.20 L174.23,388.20 L174.48,388.20 L174.73,388.20 L174.98,388.20 L175.23,388.20 L175.48,388.20 L175.73,388.20 L175.98,388.20 L176.23,388.20 L176.48,388.20 L176.73,388.20 L176.98,388.20 L177.23,388.20 L177.48,388.20 L177.73,388.20 L177.98,388.20 L178.23,388.20 L178.48,388.20 L178.73,388.20 L178.98,388.20 L179.23,388.20 L179.48,388.20 L179.73,388.20 L179.98,388.20 L180.23,388.20 L180.48,388.20 L180.73,388.20 L180.98,388.20 L181.23,388.20 L181.48,388.20 L181.73,388.20 L181.98,388.20 L182.23,388.20 L182.48,388.20 L182.73,388.20 L182.98,388.20 L183.23,388.20 L183.48,388.20 L183.73,388.20 L183.98,388.20 L184.23,388.20 L184.48,388.20 L184.73,388.20 L184.98,388.20 L185.23,388.20 L185.48,388.20 L185.73,388.20 L185.98,388.20 L186.23,388.20 L186.48,388.20 L186.73,388.20 L186.98,388.20 L187.23,388.20 L187.48,388.20 L187.73,388.20 L187.98,388.20 L188.23,388.20 L188.48,388.20 L188.73,388.20 L188.98,388.20 L189.23,388.20 L189.48,388.20 L189.73,388.20 L189.98,388.20 L190.23,388.20 L190.48,388.20 L190.74,388.20 L190.99,388.20 L191.24,388.20 L191.49,388.20 L191.74,388.20 L191.99,388.20 L192.24,388.20 L192.49,388.20 L192.74,388.20 L192.99,388.20 L193.24,388.20 L193.49,388.20 L193.74,388.19 L193.99,388.19 L194.24,388.18 L194.49,388.16 L194.74,388.14 L194.99,388.12 L195.24,388.08 L195.49,388.04 L195.74,387.98 L195.99,387.92 L196.24,387.84 L196.49,387.75 L196.74,387.65 L196.99,387.54 L197.24,387.42 L197.49,387.30 L197.74,387.16 L197.99,387.03 L198.24,386.89 L198.49,386.77 L198.74,386.65 L198.99,386.56 L199.24,386.50 L199.49,386.46 L199.74,386.45 L199.99,386.47 L200.24,386.52 L200.49,386.59 L200.74,386.68 L200.99,386.78 L201.24,386.88 L201.49,386.99 L201.74,387.09 L201.99,387.19 L202.24,387.28 L202.49,387.36 L202.74,387.43 L202.99,387.49 L203.24,387.55 L203.49,387.60 L203.74,387.64 L203.99,387.68 L204.24,387.72 L204.49,387.76 L204.74,387.79 L204.99,387.82 L205.24,387.84 L205.49,387.86 L205.74,387.88 L205.99,387.90 L206.24,387.91 L206.49,387.93 L206.74,387.93 L206.99,387.94 L207.24,387.95 L207.49,387.95 L207.74,387.95 L208.00,387.95 L208.25,387.95 L208.50,387.95 L208.75,387.94 L209.00,387.94 L209.25,387.94 L209.50,387.93 L209.75,387.93 L210.00,387.92 L210.25,387.92 L210.50,387.91 L210.75,387.90 L211.00,387.90 L211.25,387.89 L211.50,387.88 L211.75,387.87 L212.00,387.87 L212.25,387.86 L212.50,387.85 L212.75,387.84 L213.00,387.83 L213.25,387.82 L213.50,387.81 L213.75,387.80 L214.00,387.78 L214.25,387.77 L214.50,387.76 L214.75,387.75 L215.00,387.74 L215.25,387.72 L215.50,387.71 L215.75,387.70 L216.00,387.68 L216.25,387.67 L216.50,387.65 L216.75,387.64 L217.00,387.62 L217.25,387.61 L217.50,387.59 L217.75,387.57 L218.00,387.56 L218.25,387.54 L218.50,387.52 L218.75,387.51 L219.00,387.49 L219.25,387.47 L219.50,387.45 L219.75,387.44 L220.00,387.42 L220.25,387.40 L220.50,387.38 L220.75,387.36 L221.00,387.34 L221.25,387.32 L221.50,387.30 L221.75,387.28 L222.00,387.26 L222.25,387.24 L222.50,387.22 L222.75,387.20 L223.00,387.18 L223.25,387.16 L223.50,387.14 L223.75,387.11 L224.00,387.09 L224.25,387.07 L224.50,387.04 L224.75,387.02 L225.00,386.99 L225.26,386.96 L225.51,386.93 L225.76,386.90 L226.01,386.87 L226.26,386.84 L226.51,386.81 L226.76,386.77 L227.01,386.73 L227.26,386.69 L227.51,386.65 L227.76,386.61 L228.01,386.57 L228.26,386.52 L228.51,386.47 L228.76,386.42 L229.01,386.37 L229.26,386.32 L229.51,386.26 L229.76,386.21 L230.01,386.15 L230.26,386.09 L230.51,386.02 L230.76,385.96 L231.01,385.89 L231.26,385.82 L231.51,385.75 L231.76,385.67 L232.01,385.60 L232.26,385.51 L232.51,385.42 L232.76,385.32 L233.01,385.22 L233.26,385.10 L233.51,384.97 L233.76,384.83 L234.01,384.67 L234.26,384.50 L234.51,384.32 L234.76,384.12 L235.01,383.91 L235.26,383.68 L235.51,383.45 L235.76,383.22 L236.01,382.98 L236.26,382.74 L236.51,382.50 L236.76,382.26 L237.01,382.03 L237.26,381.81 L237.51,381.60 L237.76,381.39 L238.01,381.20 L238.26,381.03 L238.51,380.86 L238.76,380.71 L239.01,380.57 L239.26,380.44 L239.51,380.32 L239.76,380.20 L240.01,380.09 L240.26,379.99 L240.51,379.89 L240.76,379.79 L241.01,379.70 L241.26,379.61 L241.51,379.52 L241.76,379.43 L242.01,379.34 L242.26,379.26 L242.52,379.17 L242.77,379.07 L243.02,378.98 L243.27,378.88 L243.52,378.77 L243.77,378.65 L244.02,378.53 L244.27,378.39 L244.52,378.25 L244.77,378.09 L245.02,377.92 L245.27,377.74 L245.52,377.55 L245.77,377.34 L246.02,377.13 L246.27,376.89 L246.52,376.64 L246.77,376.38 L247.02,376.09 L247.27,375.78 L247.52,375.44 L247.77,375.08 L248.02,374.67 L248.27,374.22 L248.52,373.73 L248.77,373.17 L249.02,372.55 L249.27,371.84 L249.52,371.04 L249.77,370.13 L250.02,369.08 L250.27,367.87 L250.52,366.47 L250.77,364.85 L251.02,362.99 L251.27,360.86 L251.52,358.43 L251.77,355.69 L252.02,352.61 L252.27,349.20 L252.52,345.45 L252.77,341.36 L253.02,336.96 L253.27,332.27 L253.52,327.34 L253.77,322.23 L254.02,317.01 L254.27,311.79 L254.52,306.63 L254.77,301.65 L255.02,296.89 L255.27,292.41 L255.52,288.23 L255.77,284.36 L256.02,280.77 L256.27,277.42 L256.52,274.29 L256.77,271.34 L257.02,268.55 L257.27,265.90 L257.52,263.41 L257.77,261.08 L258.02,258.95 L258.27,257.04 L258.52,255.40 L258.77,254.06 L259.02,253.05 L259.27,252.39 L259.52,252.09 L259.78,252.15 L260.03,252.56 L260.28,253.30 L260.53,254.33 L260.78,255.64 L261.03,257.19 L261.28,258.94 L261.53,260.87 L261.78,262.95 L262.03,265.17 L262.28,267.50 L262.53,269.94 L262.78,272.49 L263.03,275.15 L263.28,277.91 L263.53,280.79 L263.78,283.78 L264.03,286.89 L264.28,290.09 L264.53,293.40 L264.78,296.78 L265.03,300.22 L265.28,303.69 L265.53,307.16 L265.78,310.58 L266.03,313.93 L266.28,317.16 L266.53,320.23 L266.78,323.12 L267.03,325.82 L267.28,328.31 L267.53,330.60 L267.78,332.70 L268.03,334.63 L268.28,336.42 L268.53,338.07 L268.78,339.63 L269.03,341.11 L269.28,342.53 L269.53,343.90 L269.78,345.26 L270.03,346.59 L270.28,347.92 L270.53,349.24 L270.78,350.56 L271.03,351.87 L271.28,353.16 L271.53,354.43 L271.78,355.67 L272.03,356.87 L272.28,358.02 L272.53,359.12 L272.78,360.16 L273.03,361.15 L273.28,362.08 L273.53,362.96 L273.78,363.79 L274.03,364.57 L274.28,365.30 L274.53,365.99 L274.78,366.64 L275.03,367.25 L275.28,367.83 L275.53,368.38 L275.78,368.90 L276.03,369.39 L276.28,369.86 L276.53,370.31 L276.78,370.75 L277.04,371.16 L277.29,371.56 L277.54,371.95 L277.79,372.32 L278.04,372.68 L278.29,373.03 L278.54,373.37 L278.79,373.70 L279.04,374.02 L279.29,374.33 L279.54,374.63 L279.79,374.92 L280.04,375.21 L280.29,375.49 L280.54,375.76 L280.79,376.02 L281.04,376.28 L281.29,376.53 L281.54,376.78 L281.79,377.02 L282.04,377.25 L282.29,377.48 L282.54,377.70 L282.79,377.92 L283.04,378.13 L283.29,378.34 L283.54,378.54 L283.79,378.74 L284.04,378.94 L284.29,379.14 L284.54,379.34 L284.79,379.54 L285.04,379.73 L285.29,379.92 L285.54,380.12 L285.79,380.30 L286.04,380.48 L286.29,380.66 L286.54,380.82 L286.79,380.98 L287.04,381.13 L287.29,381.26 L287.54,381.38 L287.79,381.49 L288.04,381.58 L288.29,381.66 L288.54,381.72 L288.79,381.77 L289.04,381.80 L289.29,381.82 L289.54,381.83 L289.79,381.83 L290.04,381.82 L290.29,381.80 L290.54,381.77 L290.79,381.74 L291.04,381.71 L291.29,381.67 L291.54,381.63 L291.79,381.59 L292.04,381.54 L292.29,381.49 L292.54,381.44 L292.79,381.39 L293.04,381.33 L293.29,381.28 L293.54,381.23 L293.79,381.17 L294.04,381.12 L294.30,381.07 L294.55,381.02 L294.80,380.97 L295.05,380.93 L295.30,380.88 L295.55,380.84 L295.80,380.81 L296.05,380.77 L296.30,380.74 L296.55,380.72 L296.80,380.70 L297.05,380.69 L297.30,380.68 L297.55,380.68 L297.80,380.68 L298.05,380.70 L298.30,380.72 L298.55,380.74 L298.80,380.78 L299.05,380.82 L299.30,380.86 L299.55,380.92 L299.80,380.98 L300.05,381.04 L300.30,381.12 L300.55,381.19 L300.80,381.27 L301.05,381.36 L301.30,381.45 L301.55,381.54 L301.80,381.64 L302.05,381.74 L302.30,381.84 L302.55,381.95 L302.80,382.05 L303.05,382.16 L303.30,382.27 L303.55,382.38 L303.80,382.49 L304.05,382.60 L304.30,382.71 L304.55,382.82 L304.80,382.92 L305.05,383.03 L305.30,383.13 L305.55,383.23 L305.80,383.33 L306.05,383.43 L306.30,383.52 L306.55,383.61 L306.80,383.70 L307.05,383.78 L307.30,383.86 L307.55,383.94 L307.80,384.01 L308.05,384.09 L308.30,384.16 L308.55,384.23 L308.80,384.30 L309.05,384.37 L309.30,384.44 L309.55,384.50 L309.80,384.57 L310.05,384.64 L310.30,384.71 L310.55,384.78 L310.80,384.85 L311.05,384.92 L311.30,384.98 L311.56,385.05 L311.81,385.12 L312.06,385.19 L312.31,385.26 L312.56,385.33 L312.81,385.39 L313.06,385.46 L313.31,385.53 L313.56,385.60 L313.81,385.66 L314.06,385.73 L314.31,385.79 L314.56,385.86 L314.81,385.92 L315.06,385.98 L315.31,386.05 L315.56,386.11 L315.81,386.17 L316.06,386.23 L316.31,386.29 L316.56,386.35 L316.81,386.41 L317.06,386.47 L317.31,386.52 L317.56,386.58 L317.81,386.63 L318.06,386.68 L318.31,386.74 L318.56,386.79 L318.81,386.83 L319.06,386.88 L319.31,386.93 L319.56,386.97 L319.81,387.02 L320.06,387.06 L320.31,387.10 L320.56,387.14 L320.81,387.18 L321.06,387.22 L321.31,387.25 L321.56,387.28 L321.81,387.32 L322.06,387.34 L322.31,387.37 L322.56,387.40 L322.81,387.42 L323.06,387.45 L323.31,387.47 L323.56,387.48 L323.81,387.50 L324.06,387.52 L324.31,387.53 L324.56,387.54 L324.81,387.55 L325.06,387.56 L325.31,387.57 L325.56,387.58 L325.81,387.59 L326.06,387.60 L326.31,387.61 L326.56,387.62 L326.81,387.62 L327.06,387.63 L327.31,387.64 L327.56,387.65 L327.81,387.65 L328.06,387.66 L328.31,387.67 L328.56,387.67 L328.82,387.68 L329.07,387.68 L329.32,387.69 L329.57,387.70 L329.82,387.70 L330.07,387.71 L330.32,387.71 L330.57,387.72 L330.82,387.72 L331.07,387.73 L331.32,387.73 L331.57,387.74 L331.82,387.74 L332.07,387.75 L332.32,387.75 L332.57,387.76 L332.82,387.76 L333.07,387.76 L333.32,387.77 L333.57,387.77 L333.82,387.77 L334.07,387.78 L334.32,387.78 L334.57,387.78 L334.82,387.78 L335.07,387.79 L335.32,387.79 L335.57,387.79 L335.82,387.79 L336.07,387.79 L336.32,387.79 L336.57,387.79 L336.82,387.80 L337.07,387.80 L337.32,387.80" fill="none" stroke="#000" stroke-width="1.8" stroke-linejoin="round"/>
<path d="M151.80,231.78 L235.40,231.78 L235.40,325.80 L151.80,325.80 Z" fill="none" stroke="#000" stroke-width="1.2"/>
<line x1="149.80" y1="325.80" x2="151.80" y2="325.80" stroke="#000" stroke-width="0.9"/>
<text transform="rotate(0.05 149.20 327.80)" x="149.20" y="327.80" font-size="5.6" text-anchor="end" font-family="Liberation Sans, sans-serif" font-weight="bold">0.0</text>
<line x1="150.60" y1="310.13" x2="151.80" y2="310.13" stroke="#000" stroke-width="0.9"/>
<line x1="149.80" y1="294.46" x2="151.80" y2="294.46" stroke="#000" stroke-width="0.9"/>
<text transform="rotate(0.05 149.20 296.46)" x="149.20" y="296.46" font-size="5.6" text-anchor="end" font-family="Liberation Sans, sans-serif" font-weight="bold">0.2</text>
<line x1="150.60" y1="278.79" x2="151.80" y2="278.79" stroke="#000" stroke-width="0.9"/>
<line x1="149.80" y1="263.12" x2="151.80" y2="263.12" stroke="#000" stroke-width="0.9"/>
<text transform="rotate(0.05 149.20 265.12)" x="149.20" y="265.12" font-size="5.6" text-anchor="end" font-family="Liberation Sans, sans-serif" font-weight="bold">0.4</text>
<line x1="150.60" y1="247.45" x2="151.80" y2="247.45" stroke="#000" stroke-width="0.9"/>
<line x1="149.80" y1="231.78" x2="151.80" y2="231.78" stroke="#000" stroke-width="0.9"/>
<text transform="rotate(0.05 149.20 233.78)" x="149.20" y="233.78" font-size="5.6" text-anchor="end" font-family="Liberation Sans, sans-serif" font-weight="bold">0.6</text>
<line x1="151.80" y1="325.80" x2="151.80" y2="327.80" stroke="#000" stroke-width="0.9"/>
<text transform="rotate(0.05 151.80 334.00)" x="151.80" y="334.00" font-size="5.6" text-anchor="middle" font-family="Liberation Sans, sans-serif" font-weight="bold">1.0</text>
<line x1="162.25" y1="325.80" x2="162.25" y2="327.00" stroke="#000" stroke-width="0.9"/>
<line x1="172.70" y1="325.80" x2="172.70" y2="327.80" stroke="#000" stroke-width="0.9"/>
<text transform="rotate(0.05 172.70 334.00)" x="172.70" y="334.00" font-size="5.6" text-anchor="middle" font-family="Liberation Sans, sans-serif" font-weight="bold">1.5</text>
<line x1="183.15" y1="325.80" x2="183.15" y2="327.00" stroke="#000" stroke-width="0.9"/>
<line x1="193.60" y1="325.80" x2="193.60" y2="327.80" stroke="#000" stroke-width="0.9"/>
<text transform="rotate(0.05 193.60 334.00)" x="193.60" y="334.00" font-size="5.6" text-anchor="middle" font-family="Liberation Sans, sans-serif" font-weight="bold">2.0</text>
<line x1="204.05" y1="325.80" x2="204.05" y2="327.00" stroke="#000" stroke-width="0.9"/>
<line x1="214.50" y1="325.80" x2="214.50" y2="327.80" stroke="#000" stroke-width="0.9"/>
<text transform="rotate(0.05 214.50 334.00)" x="214.50" y="334.00" font-size="5.6" text-anchor="middle" font-family="Liberation Sans, sans-serif" font-weight="bold">2.5</text>
<line x1="224.95" y1="325.80" x2="224.95" y2="327.00" stroke="#000" stroke-width="0.9"/>
<line x1="235.40" y1="325.80" x2="235.40" y2="327.80" stroke="#000" stroke-width="0.9"/>
<text transform="rotate(0.05 235.40 334.00)" x="235.40" y="334.00" font-size="5.6" text-anchor="middle" font-family="Liberation Sans, sans-serif" font-weight="bold">3.0</text>
<text transform="rotate(0.05 193.60 342.1)" x="193.60" y="342.1" font-size="6.2" text-anchor="middle" font-family="Liberation Sans, sans-serif" font-weight="bold">log MW</text>
<text transform="translate(137.3,278.6) rotate(-89.95)" font-size="6" text-anchor="middle" font-family="Liberation Sans, sans-serif" font-weight="bold">K<tspan font-size="4.6" dy="1.2">av</tspan></text>
<line x1="157.61" y1="239.98" x2="220.39" y2="304.02" stroke="#000" stroke-width="1.2"/>
<circle cx="157.53" cy="242.44" r="1.7" fill="#fff" stroke="#000" stroke-width="1"/>
<text transform="rotate(0.05 160.03 240.84)" x="160.03" y="240.84" font-size="5" text-anchor="start" font-family="Liberation Sans, sans-serif" font-weight="bold">13.7 kDa</text>
<circle cx="168.44" cy="247.14" r="1.7" fill="#fff" stroke="#000" stroke-width="1"/>
<text transform="rotate(0.05 171.84 248.14)" x="171.84" y="248.14" font-size="5" text-anchor="start" font-family="Liberation Sans, sans-serif" font-weight="bold">25 kDa</text>
<circle cx="178.26" cy="264.84" r="1.7" fill="#fff" stroke="#000" stroke-width="1"/>
<text transform="rotate(0.05 180.86 265.14)" x="180.86" y="265.14" font-size="5" text-anchor="start" font-family="Liberation Sans, sans-serif" font-weight="bold">43 kDa</text>
<circle cx="201.92" cy="281.92" r="1.7" fill="#fff" stroke="#000" stroke-width="1"/>
<text transform="rotate(0.05 197.72 278.92)" x="197.72" y="278.92" font-size="5" text-anchor="start" font-family="Liberation Sans, sans-serif" font-weight="bold">158 kDa</text>
<circle cx="208.86" cy="291.64" r="1.7" fill="#fff" stroke="#000" stroke-width="1"/>
<text transform="rotate(0.05 212.26 291.94)" x="212.26" y="291.94" font-size="5" text-anchor="start" font-family="Liberation Sans, sans-serif" font-weight="bold">232 kDa</text>
<circle cx="220.48" cy="307.47" r="1.7" fill="#fff" stroke="#000" stroke-width="1"/>
<text transform="rotate(0.05 218.48 314.97)" x="218.48" y="314.97" font-size="5" text-anchor="middle" font-family="Liberation Sans, sans-serif" font-weight="bold">440 kDa</text>
<rect x="169.30" y="253.87" width="4.4" height="4.4" fill="#000"/>
<text transform="rotate(0.05 156.4 300.6)" x="156.4" y="300.6" font-size="5.1" font-family="Liberation Sans, sans-serif" font-weight="bold">y = -0.2701x + 0.8523</text>
<text transform="rotate(0.05 156.4 307.2)" x="156.4" y="307.2" font-size="5.1" font-family="Liberation Sans, sans-serif" font-weight="bold">R<tspan font-size="3.4" dy="-2">2</tspan><tspan dy="2"> = 0.9026</tspan></text>
<line x1="198.6" y1="235.9" x2="204.8" y2="235.9" stroke="#000" stroke-width="1"/>
<circle cx="201.7" cy="235.9" r="1.5" fill="#fff" stroke="#000" stroke-width="1"/>
<text transform="rotate(0.05 209 237.8)" x="209" y="237.8" font-size="5" font-family="Liberation Sans, sans-serif" font-weight="bold">Standard</text>
<rect x="200" y="240.9" width="4" height="3.8" fill="#000"/>
<text transform="rotate(0.05 209 244.7)" x="209" y="244.7" font-size="5" font-family="Liberation Sans, sans-serif" font-weight="bold">BPSS2242</text>
<text transform="rotate(0.05 391.8 213.8)" x="391.8" y="213.8" font-size="13.6" font-family="Liberation Sans, sans-serif" font-weight="bold">(E)</text>
<path d="M434.90,225.90 L644.60,225.90 L644.60,392.60 L434.90,392.60 Z" fill="none" stroke="#000" stroke-width="1.8"/>
<line x1="431.10" y1="393.00" x2="434.90" y2="393.00" stroke="#000" stroke-width="1.6"/>
<text transform="rotate(0.05 430.30 396.40)" x="430.30" y="396.40" font-size="10" text-anchor="end" font-family="Liberation Sans, sans-serif" font-weight="bold">0</text>
<line x1="431.10" y1="337.30" x2="434.90" y2="337.30" stroke="#000" stroke-width="1.6"/>
<text transform="rotate(0.05 430.30 340.70)" x="430.30" y="340.70" font-size="10" text-anchor="end" font-family="Liberation Sans, sans-serif" font-weight="bold">1</text>
<line x1="431.10" y1="281.60" x2="434.90" y2="281.60" stroke="#000" stroke-width="1.6"/>
<text transform="rotate(0.05 430.30 285.00)" x="430.30" y="285.00" font-size="10" text-anchor="end" font-family="Liberation Sans, sans-serif" font-weight="bold">2</text>
<line x1="431.10" y1="225.90" x2="434.90" y2="225.90" stroke="#000" stroke-width="1.6"/>
<text transform="rotate(0.05 430.30 229.30)" x="430.30" y="229.30" font-size="10" text-anchor="end" font-family="Liberation Sans, sans-serif" font-weight="bold">3</text>
<line x1="434.90" y1="392.60" x2="434.90" y2="396.20" stroke="#000" stroke-width="1.6"/>
<text transform="rotate(0.05 434.90 406)" x="434.90" y="406" font-size="10" text-anchor="middle" font-family="Liberation Sans, sans-serif" font-weight="bold">0</text>
<line x1="476.80" y1="392.60" x2="476.80" y2="396.20" stroke="#000" stroke-width="1.6"/>
<text transform="rotate(0.05 476.80 406)" x="476.80" y="406" font-size="10" text-anchor="middle" font-family="Liberation Sans, sans-serif" font-weight="bold">5</text>
<line x1="518.70" y1="392.60" x2="518.70" y2="396.20" stroke="#000" stroke-width="1.6"/>
<text transform="rotate(0.05 518.70 406)" x="518.70" y="406" font-size="10" text-anchor="middle" font-family="Liberation Sans, sans-serif" font-weight="bold">10</text>
<line x1="560.60" y1="392.60" x2="560.60" y2="396.20" stroke="#000" stroke-width="1.6"/>
<text transform="rotate(0.05 560.60 406)" x="560.60" y="406" font-size="10" text-anchor="middle" font-family="Liberation Sans, sans-serif" font-weight="bold">15</text>
<line x1="602.50" y1="392.60" x2="602.50" y2="396.20" stroke="#000" stroke-width="1.6"/>
<text transform="rotate(0.05 602.50 406)" x="602.50" y="406" font-size="10" text-anchor="middle" font-family="Liberation Sans, sans-serif" font-weight="bold">20</text>
<line x1="644.40" y1="392.60" x2="644.40" y2="396.20" stroke="#000" stroke-width="1.6"/>
<text transform="rotate(0.05 644.40 406)" x="644.40" y="406" font-size="10" text-anchor="middle" font-family="Liberation Sans, sans-serif" font-weight="bold">25</text>
<text transform="rotate(0.05 539.75 424.9)" x="539.75" y="424.9" font-size="11.35" text-anchor="middle" font-family="Liberation Sans, sans-serif" font-weight="bold">Time (min)</text>
<text transform="translate(410.5,308.1) rotate(-89.95)" font-size="11.3" text-anchor="middle" font-family="Liberation Sans, sans-serif" font-weight="bold">Absorbance at 340 nm</text>
<path d="M434.90,257.65 L435.15,257.75 L435.40,257.85 L435.65,257.95 L435.90,258.04 L436.15,258.14 L436.40,258.24 L436.65,258.34 L436.90,258.44 L437.15,258.54 L437.40,258.64 L437.65,258.74 L437.90,258.83 L438.15,258.93 L438.40,259.03 L438.65,259.13 L438.90,259.23 L439.15,259.33 L439.40,259.43 L439.65,259.53 L439.90,259.63 L440.15,259.73 L440.40,259.83 L440.65,259.93 L440.90,260.03 L441.15,260.13 L441.40,260.23 L441.65,260.33 L441.90,260.43 L442.15,260.53 L442.40,260.63 L442.65,260.73 L442.90,260.83 L443.15,260.93 L443.40,261.03 L443.65,261.14 L443.90,261.24 L444.15,261.34 L444.40,261.44 L444.65,261.54 L444.90,261.65 L445.15,261.75 L445.40,261.85 L445.65,261.95 L445.90,262.06 L446.15,262.16 L446.40,262.26 L446.65,262.37 L446.90,262.47 L447.15,262.58 L447.40,262.68 L447.65,262.79 L447.90,262.89 L448.15,263.00 L448.40,263.10 L448.65,263.21 L448.90,263.31 L449.15,263.42 L449.40,263.53 L449.65,263.63 L449.90,263.74 L450.15,263.85 L450.40,263.95 L450.65,264.06 L450.90,264.17 L451.15,264.28 L451.40,264.39 L451.65,264.50 L451.90,264.61 L452.15,264.72 L452.40,264.83 L452.65,264.94 L452.90,265.05 L453.15,265.16 L453.40,265.27 L453.65,265.38 L453.90,265.49 L454.15,265.61 L454.40,265.72 L454.65,265.83 L454.90,265.95 L455.15,266.06 L455.40,266.18 L455.65,266.29 L455.90,266.41 L456.15,266.52 L456.40,266.64 L456.65,266.75 L456.90,266.87 L457.15,266.99 L457.40,267.11 L457.65,267.22 L457.90,267.34 L458.15,267.46 L458.40,267.58 L458.65,267.70 L458.90,267.82 L459.15,267.94 L459.40,268.06 L459.65,268.18 L459.90,268.31 L460.15,268.43 L460.40,268.55 L460.65,268.68 L460.90,268.80 L461.15,268.92 L461.40,269.05 L461.65,269.18 L461.90,269.30 L462.15,269.43 L462.40,269.55 L462.65,269.68 L462.90,269.81 L463.15,269.94 L463.40,270.07 L463.65,270.20 L463.90,270.33 L464.15,270.46 L464.40,270.59 L464.65,270.72 L464.90,270.85 L465.15,270.98 L465.40,271.12 L465.65,271.25 L465.90,271.38 L466.15,271.52 L466.40,271.65 L466.65,271.78 L466.90,271.92 L467.15,272.05 L467.40,272.19 L467.65,272.33 L467.90,272.46 L468.15,272.60 L468.40,272.74 L468.65,272.88 L468.90,273.01 L469.15,273.15 L469.40,273.29 L469.65,273.43 L469.90,273.57 L470.15,273.71 L470.40,273.85 L470.65,273.99 L470.90,274.14 L471.15,274.28 L471.40,274.42 L471.65,274.56 L471.90,274.71 L472.15,274.85 L472.40,274.99 L472.65,275.14 L472.90,275.28 L473.15,275.43 L473.40,275.57 L473.65,275.72 L473.90,275.86 L474.15,276.01 L474.40,276.15 L474.65,276.30 L474.90,276.45 L475.15,276.60 L475.40,276.74 L475.65,276.89 L475.90,277.04 L476.15,277.19 L476.40,277.34 L476.65,277.49 L476.90,277.64 L477.15,277.79 L477.40,277.94 L477.65,278.09 L477.90,278.24 L478.15,278.39 L478.40,278.54 L478.65,278.69 L478.90,278.84 L479.15,278.99 L479.40,279.15 L479.65,279.30 L479.90,279.45 L480.15,279.61 L480.40,279.76 L480.65,279.91 L480.90,280.07 L481.15,280.22 L481.40,280.38 L481.65,280.53 L481.90,280.69 L482.15,280.84 L482.40,281.00 L482.65,281.15 L482.90,281.31 L483.15,281.46 L483.40,281.62 L483.65,281.78 L483.90,281.93 L484.15,282.09 L484.40,282.25 L484.65,282.41 L484.90,282.56 L485.15,282.72 L485.40,282.88 L485.65,283.04 L485.90,283.20 L486.15,283.35 L486.40,283.51 L486.65,283.67 L486.90,283.83 L487.15,283.99 L487.40,284.15 L487.65,284.31 L487.90,284.47 L488.15,284.63 L488.40,284.79 L488.65,284.95 L488.90,285.11 L489.15,285.27 L489.40,285.43 L489.65,285.60 L489.90,285.76 L490.15,285.92 L490.40,286.08 L490.65,286.24 L490.90,286.40 L491.15,286.57 L491.40,286.73 L491.65,286.89 L491.90,287.05 L492.15,287.22 L492.40,287.38 L492.65,287.54 L492.90,287.71 L493.15,287.87 L493.40,288.04 L493.65,288.20 L493.90,288.36 L494.15,288.53 L494.40,288.69 L494.65,288.86 L494.90,289.02 L495.15,289.19 L495.40,289.35 L495.65,289.52 L495.90,289.68 L496.15,289.85 L496.40,290.02 L496.65,290.18 L496.90,290.35 L497.15,290.52 L497.40,290.68 L497.65,290.85 L497.90,291.02 L498.15,291.18 L498.40,291.35 L498.65,291.52 L498.90,291.69 L499.15,291.85 L499.40,292.02 L499.65,292.19 L499.90,292.36 L500.15,292.53 L500.40,292.70 L500.65,292.86 L500.90,293.03 L501.15,293.20 L501.40,293.37 L501.65,293.54 L501.90,293.71 L502.15,293.88 L502.40,294.05 L502.65,294.22 L502.90,294.39 L503.15,294.56 L503.40,294.73 L503.65,294.90 L503.90,295.07 L504.15,295.24 L504.40,295.42 L504.65,295.59 L504.90,295.76 L505.15,295.93 L505.40,296.10 L505.65,296.27 L505.90,296.45 L506.15,296.62 L506.40,296.79 L506.65,296.96 L506.90,297.14 L507.15,297.31 L507.40,297.48 L507.65,297.65 L507.90,297.83 L508.15,298.00 L508.40,298.17 L508.65,298.35 L508.90,298.52 L509.15,298.70 L509.40,298.87 L509.65,299.04 L509.90,299.22 L510.15,299.39 L510.40,299.57 L510.65,299.74 L510.90,299.92 L511.15,300.09 L511.40,300.27 L511.65,300.44 L511.90,300.62 L512.15,300.79 L512.40,300.97 L512.65,301.15 L512.90,301.32 L513.15,301.50 L513.40,301.67 L513.65,301.85 L513.90,302.03 L514.15,302.20 L514.40,302.38 L514.65,302.55 L514.90,302.73 L515.15,302.91 L515.40,303.08 L515.65,303.26 L515.90,303.44 L516.15,303.61 L516.40,303.79 L516.65,303.96 L516.90,304.14 L517.15,304.32 L517.40,304.49 L517.65,304.67 L517.90,304.84 L518.15,305.02 L518.40,305.19 L518.65,305.37 L518.90,305.54 L519.15,305.72 L519.40,305.89 L519.65,306.07 L519.90,306.24 L520.15,306.42 L520.40,306.59 L520.65,306.77 L520.90,306.94 L521.15,307.11 L521.40,307.29 L521.65,307.46 L521.90,307.63 L522.15,307.80 L522.40,307.98 L522.65,308.15 L522.90,308.32 L523.15,308.49 L523.40,308.66 L523.65,308.83 L523.90,309.01 L524.15,309.18 L524.40,309.35 L524.65,309.52 L524.90,309.68 L525.15,309.85 L525.40,310.02 L525.65,310.19 L525.90,310.36 L526.15,310.53 L526.40,310.69 L526.65,310.86 L526.90,311.03 L527.15,311.19 L527.40,311.36 L527.65,311.52 L527.90,311.69 L528.15,311.85 L528.40,312.01 L528.65,312.18 L528.90,312.34 L529.15,312.50 L529.40,312.66 L529.65,312.82 L529.90,312.98 L530.15,313.14 L530.40,313.30 L530.65,313.46 L530.90,313.62 L531.15,313.78 L531.40,313.93 L531.65,314.09 L531.90,314.25 L532.15,314.40 L532.40,314.56 L532.65,314.71 L532.90,314.87 L533.15,315.02 L533.40,315.17 L533.65,315.32 L533.90,315.47 L534.15,315.62 L534.40,315.77 L534.65,315.92 L534.90,316.07 L535.15,316.22 L535.40,316.36 L535.65,316.51 L535.90,316.65 L536.15,316.80 L536.40,316.94 L536.65,317.09 L536.90,317.23 L537.15,317.37 L537.40,317.51 L537.65,317.65 L537.90,317.79 L538.15,317.93 L538.40,318.07 L538.65,318.20 L538.90,318.34 L539.15,318.48 L539.40,318.61 L539.65,318.75 L539.90,318.88 L540.15,319.02 L540.40,319.15 L540.65,319.28 L540.90,319.41 L541.15,319.55 L541.40,319.68 L541.65,319.81 L541.90,319.94 L542.15,320.07 L542.40,320.20 L542.65,320.32 L542.90,320.45 L543.15,320.58 L543.40,320.71 L543.65,320.83 L543.90,320.96 L544.15,321.08 L544.40,321.21 L544.65,321.33 L544.90,321.46 L545.15,321.58 L545.40,321.71 L545.65,321.83 L545.90,321.95 L546.15,322.07 L546.40,322.20 L546.65,322.32 L546.90,322.44 L547.15,322.56 L547.40,322.68 L547.65,322.80 L547.90,322.92 L548.15,323.04 L548.40,323.16 L548.65,323.28 L548.90,323.40 L549.15,323.52 L549.40,323.64 L549.65,323.75 L549.90,323.87 L550.15,323.99 L550.40,324.11 L550.65,324.23 L550.90,324.34 L551.15,324.46 L551.40,324.58 L551.65,324.69 L551.90,324.81 L552.15,324.93 L552.40,325.04 L552.65,325.16 L552.90,325.28 L553.15,325.39 L553.40,325.51 L553.65,325.62 L553.90,325.74 L554.15,325.86 L554.40,325.97 L554.65,326.09 L554.90,326.20 L555.15,326.32 L555.40,326.43 L555.65,326.55 L555.90,326.67 L556.15,326.78 L556.40,326.90 L556.65,327.01 L556.90,327.13 L557.15,327.25 L557.40,327.36 L557.65,327.48 L557.90,327.59 L558.15,327.71 L558.40,327.83 L558.65,327.94 L558.90,328.06 L559.15,328.18 L559.40,328.29 L559.65,328.41 L559.90,328.53 L560.15,328.65 L560.40,328.76 L560.65,328.88 L560.90,329.00 L561.15,329.12 L561.40,329.24 L561.65,329.35 L561.90,329.47 L562.15,329.59 L562.40,329.71 L562.65,329.83 L562.90,329.95 L563.15,330.07 L563.40,330.19 L563.65,330.31 L563.90,330.44 L564.15,330.56 L564.40,330.68 L564.65,330.80 L564.90,330.93 L565.15,331.05 L565.40,331.17 L565.65,331.30 L565.90,331.42 L566.15,331.54 L566.40,331.67 L566.65,331.80 L566.90,331.92 L567.15,332.05 L567.40,332.17 L567.65,332.30 L567.90,332.43 L568.15,332.56 L568.40,332.68 L568.65,332.81 L568.90,332.94 L569.15,333.07 L569.40,333.20 L569.65,333.33 L569.90,333.46 L570.15,333.59 L570.40,333.72 L570.65,333.85 L570.90,333.98 L571.15,334.11 L571.40,334.24 L571.65,334.37 L571.90,334.50 L572.15,334.64 L572.40,334.77 L572.65,334.90 L572.90,335.03 L573.15,335.16 L573.40,335.29 L573.65,335.43 L573.90,335.56 L574.15,335.69 L574.40,335.82 L574.65,335.96 L574.90,336.09 L575.15,336.22 L575.40,336.35 L575.65,336.49 L575.90,336.62 L576.15,336.75 L576.40,336.88 L576.65,337.02 L576.90,337.15 L577.15,337.28 L577.40,337.41 L577.65,337.55 L577.90,337.68 L578.15,337.81 L578.40,337.94 L578.65,338.07 L578.90,338.20 L579.15,338.34 L579.40,338.47 L579.65,338.60 L579.90,338.73 L580.15,338.86 L580.40,338.99 L580.65,339.12 L580.90,339.25 L581.15,339.38 L581.40,339.51 L581.65,339.64 L581.90,339.77 L582.15,339.90 L582.40,340.03 L582.65,340.15 L582.90,340.28 L583.15,340.41 L583.40,340.54 L583.65,340.66 L583.90,340.79 L584.15,340.92 L584.40,341.04 L584.65,341.17 L584.90,341.29 L585.15,341.42 L585.40,341.54 L585.65,341.67 L585.90,341.79 L586.15,341.91 L586.40,342.03 L586.65,342.16 L586.90,342.28 L587.15,342.40 L587.40,342.52 L587.65,342.64 L587.90,342.76 L588.15,342.88 L588.40,342.99 L588.65,343.11 L588.90,343.23 L589.15,343.35 L589.40,343.46 L589.65,343.58 L589.90,343.69 L590.15,343.81 L590.40,343.92 L590.65,344.03 L590.90,344.14 L591.15,344.26 L591.40,344.37 L591.65,344.48 L591.90,344.59 L592.15,344.70 L592.40,344.80 L592.65,344.91 L592.90,345.02 L593.15,345.13 L593.40,345.23 L593.65,345.34 L593.90,345.44 L594.15,345.55 L594.40,345.65 L594.65,345.76 L594.90,345.86 L595.15,345.96 L595.40,346.06 L595.65,346.16 L595.90,346.26 L596.15,346.36 L596.40,346.46 L596.65,346.56 L596.90,346.66 L597.15,346.76 L597.40,346.86 L597.65,346.95 L597.90,347.05 L598.15,347.15 L598.40,347.24 L598.65,347.34 L598.90,347.43 L599.15,347.52 L599.40,347.62 L599.65,347.71 L599.90,347.80 L600.15,347.89 L600.40,347.99 L600.65,348.08 L600.90,348.17 L601.15,348.26 L601.40,348.35 L601.65,348.44 L601.90,348.52 L602.15,348.61 L602.40,348.70 L602.65,348.79 L602.90,348.87 L603.15,348.96 L603.40,349.05 L603.65,349.13 L603.90,349.22 L604.15,349.30 L604.40,349.39 L604.65,349.47 L604.90,349.55 L605.15,349.64 L605.40,349.72 L605.65,349.80 L605.90,349.88 L606.15,349.97 L606.40,350.05 L606.65,350.13 L606.90,350.21 L607.15,350.29 L607.40,350.37 L607.65,350.45 L607.90,350.52 L608.15,350.60 L608.40,350.68 L608.65,350.76 L608.90,350.84 L609.15,350.91 L609.40,350.99 L609.65,351.07 L609.90,351.14 L610.15,351.22 L610.40,351.29 L610.65,351.37 L610.90,351.44 L611.15,351.52 L611.40,351.59 L611.65,351.66 L611.90,351.74 L612.15,351.81 L612.40,351.88 L612.65,351.96 L612.90,352.03 L613.15,352.10 L613.40,352.17 L613.65,352.24 L613.90,352.31 L614.15,352.38 L614.40,352.46 L614.65,352.53 L614.90,352.60 L615.15,352.67 L615.40,352.73 L615.65,352.80 L615.90,352.87 L616.15,352.94 L616.40,353.01 L616.65,353.08 L616.90,353.15 L617.15,353.21 L617.40,353.28 L617.65,353.35 L617.90,353.42 L618.15,353.48 L618.40,353.55 L618.65,353.62 L618.90,353.68 L619.15,353.75 L619.40,353.81 L619.65,353.88 L619.90,353.94 L620.15,354.01 L620.40,354.07 L620.65,354.14 L620.90,354.20 L621.15,354.27 L621.40,354.33 L621.65,354.40 L621.90,354.46 L622.15,354.52 L622.40,354.59 L622.65,354.65 L622.90,354.71 L623.15,354.78 L623.40,354.84 L623.65,354.90 L623.90,354.96 L624.15,355.03 L624.40,355.09 L624.65,355.15 L624.90,355.21 L625.15,355.27 L625.40,355.34 L625.65,355.40 L625.90,355.46 L626.15,355.52 L626.40,355.58 L626.65,355.64 L626.90,355.70 L627.15,355.76 L627.40,355.82 L627.65,355.88 L627.90,355.94 L628.15,356.00 L628.40,356.06 L628.65,356.12 L628.90,356.18 L629.15,356.24 L629.40,356.30 L629.65,356.36 L629.90,356.42 L630.15,356.47 L630.40,356.53 L630.65,356.59 L630.90,356.65 L631.15,356.71 L631.40,356.77 L631.65,356.82 L631.90,356.88 L632.15,356.94 L632.40,357.00 L632.65,357.06 L632.90,357.11 L633.15,357.17 L633.40,357.23 L633.65,357.29 L633.90,357.34 L634.15,357.40 L634.40,357.46 L634.65,357.51 L634.90,357.57 L635.15,357.63 L635.40,357.68 L635.65,357.74 L635.90,357.80 L636.15,357.85 L636.40,357.91 L636.65,357.97 L636.90,358.02 L637.15,358.08 L637.40,358.13 L637.65,358.19 L637.90,358.25 L638.15,358.30 L638.40,358.36 L638.65,358.41 L638.90,358.47 L639.15,358.53 L639.40,358.58 L639.65,358.64 L639.90,358.69 L640.15,358.75 L640.40,358.80 L640.65,358.86 L640.90,358.92 L641.15,358.97 L641.40,359.03 L641.65,359.08 L641.90,359.14 L642.15,359.19 L642.40,359.25 L642.65,359.30 L642.90,359.36 L643.15,359.41 L643.40,359.47 L643.65,359.53 L643.90,359.58 L644.15,359.64 L644.40,359.69" fill="none" stroke="#ee1c1c" stroke-width="2" stroke-linejoin="round"/>
<path d="M434.90,248.18 L435.15,248.19 L435.40,248.20 L435.65,248.21 L435.90,248.21 L436.15,248.22 L436.40,248.23 L436.65,248.24 L436.90,248.25 L437.15,248.26 L437.40,248.27 L437.65,248.28 L437.90,248.28 L438.15,248.29 L438.40,248.30 L438.65,248.31 L438.90,248.32 L439.15,248.33 L439.40,248.34 L439.65,248.35 L439.90,248.36 L440.15,248.37 L440.40,248.37 L440.65,248.38 L440.90,248.39 L441.15,248.40 L441.40,248.41 L441.65,248.42 L441.90,248.43 L442.15,248.44 L442.40,248.45 L442.65,248.46 L442.90,248.47 L443.15,248.48 L443.40,248.49 L443.65,248.50 L443.90,248.51 L444.15,248.52 L444.40,248.53 L444.65,248.54 L444.90,248.55 L445.15,248.56 L445.40,248.57 L445.65,248.58 L445.90,248.59 L446.15,248.60 L446.40,248.61 L446.65,248.62 L446.90,248.63 L447.15,248.64 L447.40,248.65 L447.65,248.66 L447.90,248.67 L448.15,248.68 L448.40,248.70 L448.65,248.71 L448.90,248.72 L449.15,248.73 L449.40,248.74 L449.65,248.75 L449.90,248.76 L450.15,248.78 L450.40,248.79 L450.65,248.80 L450.90,248.81 L451.15,248.82 L451.40,248.84 L451.65,248.85 L451.90,248.86 L452.15,248.87 L452.40,248.89 L452.65,248.90 L452.90,248.91 L453.15,248.93 L453.40,248.94 L453.65,248.95 L453.90,248.97 L454.15,248.98 L454.40,248.99 L454.65,249.01 L454.90,249.02 L455.15,249.04 L455.40,249.05 L455.65,249.07 L455.90,249.08 L456.15,249.10 L456.40,249.11 L456.65,249.13 L456.90,249.14 L457.15,249.16 L457.40,249.17 L457.65,249.19 L457.90,249.20 L458.15,249.22 L458.40,249.24 L458.65,249.25 L458.90,249.27 L459.15,249.29 L459.40,249.30 L459.65,249.32 L459.90,249.34 L460.15,249.35 L460.40,249.37 L460.65,249.39 L460.90,249.41 L461.15,249.43 L461.40,249.44 L461.65,249.46 L461.90,249.48 L462.15,249.50 L462.40,249.52 L462.65,249.54 L462.90,249.56 L463.15,249.58 L463.40,249.60 L463.65,249.62 L463.90,249.64 L464.15,249.66 L464.40,249.68 L464.65,249.70 L464.90,249.72 L465.15,249.74 L465.40,249.76 L465.65,249.78 L465.90,249.80 L466.15,249.82 L466.40,249.84 L466.65,249.87 L466.90,249.89 L467.15,249.91 L467.40,249.93 L467.65,249.96 L467.90,249.98 L468.15,250.00 L468.40,250.02 L468.65,250.05 L468.90,250.07 L469.15,250.09 L469.40,250.12 L469.65,250.14 L469.90,250.17 L470.15,250.19 L470.40,250.21 L470.65,250.24 L470.90,250.26 L471.15,250.29 L471.40,250.31 L471.65,250.34 L471.90,250.36 L472.15,250.39 L472.40,250.41 L472.65,250.44 L472.90,250.47 L473.15,250.49 L473.40,250.52 L473.65,250.54 L473.90,250.57 L474.15,250.60 L474.40,250.62 L474.65,250.65 L474.90,250.68 L475.15,250.71 L475.40,250.73 L475.65,250.76 L475.90,250.79 L476.15,250.82 L476.40,250.84 L476.65,250.87 L476.90,250.90 L477.15,250.93 L477.40,250.96 L477.65,250.99 L477.90,251.01 L478.15,251.04 L478.40,251.07 L478.65,251.10 L478.90,251.13 L479.15,251.16 L479.40,251.19 L479.65,251.22 L479.90,251.25 L480.15,251.28 L480.40,251.31 L480.65,251.34 L480.90,251.37 L481.15,251.40 L481.40,251.43 L481.65,251.46 L481.90,251.49 L482.15,251.52 L482.40,251.56 L482.65,251.59 L482.90,251.62 L483.15,251.65 L483.40,251.68 L483.65,251.71 L483.90,251.75 L484.15,251.78 L484.40,251.81 L484.65,251.84 L484.90,251.88 L485.15,251.91 L485.40,251.94 L485.65,251.97 L485.90,252.01 L486.15,252.04 L486.40,252.07 L486.65,252.11 L486.90,252.14 L487.15,252.17 L487.40,252.21 L487.65,252.24 L487.90,252.28 L488.15,252.31 L488.40,252.35 L488.65,252.38 L488.90,252.41 L489.15,252.45 L489.40,252.48 L489.65,252.52 L489.90,252.55 L490.15,252.59 L490.40,252.62 L490.65,252.66 L490.90,252.69 L491.15,252.73 L491.40,252.77 L491.65,252.80 L491.90,252.84 L492.15,252.87 L492.40,252.91 L492.65,252.95 L492.90,252.98 L493.15,253.02 L493.40,253.05 L493.65,253.09 L493.90,253.13 L494.15,253.16 L494.40,253.20 L494.65,253.24 L494.90,253.27 L495.15,253.31 L495.40,253.35 L495.65,253.39 L495.90,253.42 L496.15,253.46 L496.40,253.50 L496.65,253.54 L496.90,253.57 L497.15,253.61 L497.40,253.65 L497.65,253.69 L497.90,253.73 L498.15,253.76 L498.40,253.80 L498.65,253.84 L498.90,253.88 L499.15,253.92 L499.40,253.96 L499.65,253.99 L499.90,254.03 L500.15,254.07 L500.40,254.11 L500.65,254.15 L500.90,254.19 L501.15,254.23 L501.40,254.27 L501.65,254.31 L501.90,254.35 L502.15,254.38 L502.40,254.42 L502.65,254.46 L502.90,254.50 L503.15,254.54 L503.40,254.58 L503.65,254.62 L503.90,254.66 L504.15,254.70 L504.40,254.74 L504.65,254.78 L504.90,254.82 L505.15,254.86 L505.40,254.90 L505.65,254.94 L505.90,254.98 L506.15,255.02 L506.40,255.06 L506.65,255.10 L506.90,255.14 L507.15,255.18 L507.40,255.22 L507.65,255.26 L507.90,255.31 L508.15,255.35 L508.40,255.39 L508.65,255.43 L508.90,255.47 L509.15,255.51 L509.40,255.55 L509.65,255.59 L509.90,255.63 L510.15,255.67 L510.40,255.71 L510.65,255.76 L510.90,255.80 L511.15,255.84 L511.40,255.88 L511.65,255.92 L511.90,255.96 L512.15,256.00 L512.40,256.04 L512.65,256.09 L512.90,256.13 L513.15,256.17 L513.40,256.21 L513.65,256.25 L513.90,256.29 L514.15,256.33 L514.40,256.38 L514.65,256.42 L514.90,256.46 L515.15,256.50 L515.40,256.54 L515.65,256.58 L515.90,256.62 L516.15,256.67 L516.40,256.71 L516.65,256.75 L516.90,256.79 L517.15,256.83 L517.40,256.87 L517.65,256.92 L517.90,256.96 L518.15,257.00 L518.40,257.04 L518.65,257.08 L518.90,257.13 L519.15,257.17 L519.40,257.21 L519.65,257.25 L519.90,257.29 L520.15,257.33 L520.40,257.38 L520.65,257.42 L520.90,257.46 L521.15,257.50 L521.40,257.54 L521.65,257.59 L521.90,257.63 L522.15,257.67 L522.40,257.71 L522.65,257.75 L522.90,257.79 L523.15,257.84 L523.40,257.88 L523.65,257.92 L523.90,257.96 L524.15,258.00 L524.40,258.05 L524.65,258.09 L524.90,258.13 L525.15,258.17 L525.40,258.21 L525.65,258.26 L525.90,258.30 L526.15,258.34 L526.40,258.38 L526.65,258.42 L526.90,258.47 L527.15,258.51 L527.40,258.55 L527.65,258.59 L527.90,258.63 L528.15,258.68 L528.40,258.72 L528.65,258.76 L528.90,258.80 L529.15,258.85 L529.40,258.89 L529.65,258.93 L529.90,258.97 L530.15,259.01 L530.40,259.06 L530.65,259.10 L530.90,259.14 L531.15,259.18 L531.40,259.23 L531.65,259.27 L531.90,259.31 L532.15,259.35 L532.40,259.39 L532.65,259.44 L532.90,259.48 L533.15,259.52 L533.40,259.56 L533.65,259.61 L533.90,259.65 L534.15,259.69 L534.40,259.73 L534.65,259.78 L534.90,259.82 L535.15,259.86 L535.40,259.90 L535.65,259.95 L535.90,259.99 L536.15,260.03 L536.40,260.07 L536.65,260.12 L536.90,260.16 L537.15,260.20 L537.40,260.24 L537.65,260.29 L537.90,260.33 L538.15,260.37 L538.40,260.41 L538.65,260.46 L538.90,260.50 L539.15,260.54 L539.40,260.58 L539.65,260.63 L539.90,260.67 L540.15,260.71 L540.40,260.75 L540.65,260.80 L540.90,260.84 L541.15,260.88 L541.40,260.93 L541.65,260.97 L541.90,261.01 L542.15,261.05 L542.40,261.10 L542.65,261.14 L542.90,261.18 L543.15,261.23 L543.40,261.27 L543.65,261.31 L543.90,261.35 L544.15,261.40 L544.40,261.44 L544.65,261.48 L544.90,261.53 L545.15,261.57 L545.40,261.61 L545.65,261.66 L545.90,261.70 L546.15,261.74 L546.40,261.79 L546.65,261.83 L546.90,261.87 L547.15,261.91 L547.40,261.96 L547.65,262.00 L547.90,262.04 L548.15,262.09 L548.40,262.13 L548.65,262.17 L548.90,262.22 L549.15,262.26 L549.40,262.30 L549.65,262.35 L549.90,262.39 L550.15,262.43 L550.40,262.48 L550.65,262.52 L550.90,262.56 L551.15,262.61 L551.40,262.65 L551.65,262.70 L551.90,262.74 L552.15,262.78 L552.40,262.83 L552.65,262.87 L552.90,262.91 L553.15,262.96 L553.40,263.00 L553.65,263.04 L553.90,263.09 L554.15,263.13 L554.40,263.18 L554.65,263.22 L554.90,263.26 L555.15,263.31 L555.40,263.35 L555.65,263.39 L555.90,263.44 L556.15,263.48 L556.40,263.53 L556.65,263.57 L556.90,263.61 L557.15,263.66 L557.40,263.70 L557.65,263.75 L557.90,263.79 L558.15,263.83 L558.40,263.88 L558.65,263.92 L558.90,263.97 L559.15,264.01 L559.40,264.06 L559.65,264.10 L559.90,264.14 L560.15,264.19 L560.40,264.23 L560.65,264.28 L560.90,264.32 L561.15,264.37 L561.40,264.41 L561.65,264.45 L561.90,264.50 L562.15,264.54 L562.40,264.59 L562.65,264.63 L562.90,264.68 L563.15,264.72 L563.40,264.77 L563.65,264.81 L563.90,264.85 L564.15,264.90 L564.40,264.94 L564.65,264.99 L564.90,265.03 L565.15,265.08 L565.40,265.12 L565.65,265.17 L565.90,265.21 L566.15,265.26 L566.40,265.30 L566.65,265.35 L566.90,265.39 L567.15,265.44 L567.40,265.48 L567.65,265.53 L567.90,265.57 L568.15,265.62 L568.40,265.66 L568.65,265.71 L568.90,265.75 L569.15,265.80 L569.40,265.84 L569.65,265.89 L569.90,265.93 L570.15,265.98 L570.40,266.02 L570.65,266.07 L570.90,266.11 L571.15,266.16 L571.40,266.21 L571.65,266.25 L571.90,266.30 L572.15,266.34 L572.40,266.39 L572.65,266.43 L572.90,266.48 L573.15,266.52 L573.40,266.57 L573.65,266.61 L573.90,266.66 L574.15,266.71 L574.40,266.75 L574.65,266.80 L574.90,266.84 L575.15,266.89 L575.40,266.93 L575.65,266.98 L575.90,267.02 L576.15,267.07 L576.40,267.12 L576.65,267.16 L576.90,267.21 L577.15,267.25 L577.40,267.30 L577.65,267.34 L577.90,267.39 L578.15,267.44 L578.40,267.48 L578.65,267.53 L578.90,267.57 L579.15,267.62 L579.40,267.67 L579.65,267.71 L579.90,267.76 L580.15,267.80 L580.40,267.85 L580.65,267.89 L580.90,267.94 L581.15,267.99 L581.40,268.03 L581.65,268.08 L581.90,268.12 L582.15,268.17 L582.40,268.22 L582.65,268.26 L582.90,268.31 L583.15,268.35 L583.40,268.40 L583.65,268.45 L583.90,268.49 L584.15,268.54 L584.40,268.58 L584.65,268.63 L584.90,268.68 L585.15,268.72 L585.40,268.77 L585.65,268.81 L585.90,268.86 L586.15,268.91 L586.40,268.95 L586.65,269.00 L586.90,269.04 L587.15,269.09 L587.40,269.14 L587.65,269.18 L587.90,269.23 L588.15,269.27 L588.40,269.32 L588.65,269.37 L588.90,269.41 L589.15,269.46 L589.40,269.50 L589.65,269.55 L589.90,269.60 L590.15,269.64 L590.40,269.69 L590.65,269.74 L590.90,269.78 L591.15,269.83 L591.40,269.87 L591.65,269.92 L591.90,269.97 L592.15,270.01 L592.40,270.06 L592.65,270.10 L592.90,270.15 L593.15,270.20 L593.40,270.24 L593.65,270.29 L593.90,270.33 L594.15,270.38 L594.40,270.43 L594.65,270.47 L594.90,270.52 L595.15,270.56 L595.40,270.61 L595.65,270.66 L595.90,270.70 L596.15,270.75 L596.40,270.79 L596.65,270.84 L596.90,270.88 L597.15,270.93 L597.40,270.98 L597.65,271.02 L597.90,271.07 L598.15,271.11 L598.40,271.16 L598.65,271.21 L598.90,271.25 L599.15,271.30 L599.40,271.34 L599.65,271.39 L599.90,271.44 L600.15,271.48 L600.40,271.53 L600.65,271.57 L600.90,271.62 L601.15,271.66 L601.40,271.71 L601.65,271.76 L601.90,271.80 L602.15,271.85 L602.40,271.89 L602.65,271.94 L602.90,271.98 L603.15,272.03 L603.40,272.07 L603.65,272.12 L603.90,272.17 L604.15,272.21 L604.40,272.26 L604.65,272.30 L604.90,272.35 L605.15,272.39 L605.40,272.44 L605.65,272.48 L605.90,272.53 L606.15,272.58 L606.40,272.62 L606.65,272.67 L606.90,272.71 L607.15,272.76 L607.40,272.80 L607.65,272.85 L607.90,272.89 L608.15,272.94 L608.40,272.98 L608.65,273.03 L608.90,273.07 L609.15,273.12 L609.40,273.16 L609.65,273.21 L609.90,273.25 L610.15,273.30 L610.40,273.34 L610.65,273.39 L610.90,273.43 L611.15,273.48 L611.40,273.52 L611.65,273.57 L611.90,273.61 L612.15,273.66 L612.40,273.70 L612.65,273.75 L612.90,273.79 L613.15,273.84 L613.40,273.88 L613.65,273.93 L613.90,273.97 L614.15,274.02 L614.40,274.06 L614.65,274.11 L614.90,274.15 L615.15,274.20 L615.40,274.24 L615.65,274.29 L615.90,274.33 L616.15,274.38 L616.40,274.42 L616.65,274.47 L616.90,274.51 L617.15,274.56 L617.40,274.60 L617.65,274.64 L617.90,274.69 L618.15,274.73 L618.40,274.78 L618.65,274.82 L618.90,274.87 L619.15,274.91 L619.40,274.96 L619.65,275.00 L619.90,275.05 L620.15,275.09 L620.40,275.14 L620.65,275.18 L620.90,275.22 L621.15,275.27 L621.40,275.31 L621.65,275.36 L621.90,275.40 L622.15,275.45 L622.40,275.49 L622.65,275.54 L622.90,275.58 L623.15,275.62 L623.40,275.67 L623.65,275.71 L623.90,275.76 L624.15,275.80 L624.40,275.85 L624.65,275.89 L624.90,275.93 L625.15,275.98 L625.40,276.02 L625.65,276.07 L625.90,276.11 L626.15,276.16 L626.40,276.20 L626.65,276.24 L626.90,276.29 L627.15,276.33 L627.40,276.38 L627.65,276.42 L627.90,276.47 L628.15,276.51 L628.40,276.55 L628.65,276.60 L628.90,276.64 L629.15,276.69 L629.40,276.73 L629.65,276.78 L629.90,276.82 L630.15,276.86 L630.40,276.91 L630.65,276.95 L630.90,277.00 L631.15,277.04 L631.40,277.08 L631.65,277.13 L631.90,277.17 L632.15,277.22 L632.40,277.26 L632.65,277.30 L632.90,277.35 L633.15,277.39 L633.40,277.44 L633.65,277.48 L633.90,277.52 L634.15,277.57 L634.40,277.61 L634.65,277.66 L634.90,277.70 L635.15,277.75 L635.40,277.79 L635.65,277.83 L635.90,277.88 L636.15,277.92 L636.40,277.97 L636.65,278.01 L636.90,278.05 L637.15,278.10 L637.40,278.14 L637.65,278.19 L637.90,278.23 L638.15,278.27 L638.40,278.32 L638.65,278.36 L638.90,278.41 L639.15,278.45 L639.40,278.49 L639.65,278.54 L639.90,278.58 L640.15,278.62 L640.40,278.67 L640.65,278.71 L640.90,278.76 L641.15,278.80 L641.40,278.84 L641.65,278.89 L641.90,278.93 L642.15,278.98 L642.40,279.02 L642.65,279.06 L642.90,279.11 L643.15,279.15 L643.40,279.20 L643.65,279.24 L643.90,279.28 L644.15,279.33 L644.40,279.37" fill="none" stroke="#ff8a1e" stroke-width="2" stroke-linejoin="round"/>
<path d="M434.90,253.92 L435.15,254.02 L435.40,254.13 L435.65,254.24 L435.90,254.34 L436.15,254.45 L436.40,254.56 L436.65,254.66 L436.90,254.77 L437.15,254.88 L437.40,254.98 L437.65,255.09 L437.90,255.20 L438.15,255.30 L438.40,255.41 L438.65,255.52 L438.90,255.62 L439.15,255.73 L439.40,255.84 L439.65,255.94 L439.90,256.05 L440.15,256.16 L440.40,256.26 L440.65,256.37 L440.90,256.48 L441.15,256.59 L441.40,256.69 L441.65,256.80 L441.90,256.91 L442.15,257.02 L442.40,257.12 L442.65,257.23 L442.90,257.34 L443.15,257.45 L443.40,257.55 L443.65,257.66 L443.90,257.77 L444.15,257.88 L444.40,257.99 L444.65,258.10 L444.90,258.20 L445.15,258.31 L445.40,258.42 L445.65,258.53 L445.90,258.64 L446.15,258.75 L446.40,258.86 L446.65,258.97 L446.90,259.07 L447.15,259.18 L447.40,259.29 L447.65,259.40 L447.90,259.51 L448.15,259.62 L448.40,259.73 L448.65,259.84 L448.90,259.95 L449.15,260.06 L449.40,260.17 L449.65,260.29 L449.90,260.40 L450.15,260.51 L450.40,260.62 L450.65,260.73 L450.90,260.84 L451.15,260.95 L451.40,261.06 L451.65,261.18 L451.90,261.29 L452.15,261.40 L452.40,261.51 L452.65,261.63 L452.90,261.74 L453.15,261.85 L453.40,261.97 L453.65,262.08 L453.90,262.19 L454.15,262.31 L454.40,262.42 L454.65,262.53 L454.90,262.65 L455.15,262.76 L455.40,262.88 L455.65,262.99 L455.90,263.11 L456.15,263.22 L456.40,263.34 L456.65,263.45 L456.90,263.57 L457.15,263.69 L457.40,263.80 L457.65,263.92 L457.90,264.04 L458.15,264.15 L458.40,264.27 L458.65,264.39 L458.90,264.51 L459.15,264.62 L459.40,264.74 L459.65,264.86 L459.90,264.98 L460.15,265.10 L460.40,265.22 L460.65,265.34 L460.90,265.46 L461.15,265.58 L461.40,265.70 L461.65,265.82 L461.90,265.94 L462.15,266.06 L462.40,266.18 L462.65,266.30 L462.90,266.43 L463.15,266.55 L463.40,266.67 L463.65,266.79 L463.90,266.92 L464.15,267.04 L464.40,267.16 L464.65,267.29 L464.90,267.41 L465.15,267.54 L465.40,267.66 L465.65,267.79 L465.90,267.91 L466.15,268.04 L466.40,268.16 L466.65,268.29 L466.90,268.42 L467.15,268.54 L467.40,268.67 L467.65,268.80 L467.90,268.93 L468.15,269.06 L468.40,269.19 L468.65,269.31 L468.90,269.44 L469.15,269.57 L469.40,269.70 L469.65,269.84 L469.90,269.97 L470.15,270.10 L470.40,270.23 L470.65,270.36 L470.90,270.50 L471.15,270.63 L471.40,270.76 L471.65,270.90 L471.90,271.03 L472.15,271.16 L472.40,271.30 L472.65,271.44 L472.90,271.57 L473.15,271.71 L473.40,271.84 L473.65,271.98 L473.90,272.12 L474.15,272.26 L474.40,272.40 L474.65,272.53 L474.90,272.67 L475.15,272.81 L475.40,272.95 L475.65,273.09 L475.90,273.24 L476.15,273.38 L476.40,273.52 L476.65,273.66 L476.90,273.81 L477.15,273.95 L477.40,274.09 L477.65,274.24 L477.90,274.38 L478.15,274.53 L478.40,274.67 L478.65,274.82 L478.90,274.97 L479.15,275.11 L479.40,275.26 L479.65,275.41 L479.90,275.56 L480.15,275.71 L480.40,275.86 L480.65,276.01 L480.90,276.16 L481.15,276.31 L481.40,276.46 L481.65,276.62 L481.90,276.77 L482.15,276.92 L482.40,277.08 L482.65,277.23 L482.90,277.39 L483.15,277.54 L483.40,277.70 L483.65,277.86 L483.90,278.01 L484.15,278.17 L484.40,278.33 L484.65,278.49 L484.90,278.65 L485.15,278.81 L485.40,278.97 L485.65,279.13 L485.90,279.30 L486.15,279.46 L486.40,279.62 L486.65,279.79 L486.90,279.95 L487.15,280.11 L487.40,280.28 L487.65,280.45 L487.90,280.61 L488.15,280.78 L488.40,280.95 L488.65,281.12 L488.90,281.29 L489.15,281.45 L489.40,281.62 L489.65,281.79 L489.90,281.97 L490.15,282.14 L490.40,282.31 L490.65,282.48 L490.90,282.65 L491.15,282.83 L491.40,283.00 L491.65,283.17 L491.90,283.35 L492.15,283.52 L492.40,283.70 L492.65,283.87 L492.90,284.05 L493.15,284.22 L493.40,284.40 L493.65,284.58 L493.90,284.75 L494.15,284.93 L494.40,285.11 L494.65,285.29 L494.90,285.47 L495.15,285.65 L495.40,285.82 L495.65,286.00 L495.90,286.18 L496.15,286.36 L496.40,286.54 L496.65,286.72 L496.90,286.90 L497.15,287.08 L497.40,287.27 L497.65,287.45 L497.90,287.63 L498.15,287.81 L498.40,287.99 L498.65,288.17 L498.90,288.36 L499.15,288.54 L499.40,288.72 L499.65,288.90 L499.90,289.09 L500.15,289.27 L500.40,289.45 L500.65,289.63 L500.90,289.82 L501.15,290.00 L501.40,290.18 L501.65,290.37 L501.90,290.55 L502.15,290.73 L502.40,290.92 L502.65,291.10 L502.90,291.29 L503.15,291.47 L503.40,291.65 L503.65,291.84 L503.90,292.02 L504.15,292.20 L504.40,292.39 L504.65,292.57 L504.90,292.76 L505.15,292.94 L505.40,293.12 L505.65,293.31 L505.90,293.49 L506.15,293.67 L506.40,293.86 L506.65,294.04 L506.90,294.22 L507.15,294.41 L507.40,294.59 L507.65,294.77 L507.90,294.95 L508.15,295.14 L508.40,295.32 L508.65,295.50 L508.90,295.68 L509.15,295.86 L509.40,296.05 L509.65,296.23 L509.90,296.41 L510.15,296.59 L510.40,296.77 L510.65,296.95 L510.90,297.13 L511.15,297.31 L511.40,297.49 L511.65,297.67 L511.90,297.85 L512.15,298.03 L512.40,298.21 L512.65,298.39 L512.90,298.56 L513.15,298.74 L513.40,298.92 L513.65,299.10 L513.90,299.27 L514.15,299.45 L514.40,299.63 L514.65,299.80 L514.90,299.98 L515.15,300.16 L515.40,300.33 L515.65,300.51 L515.90,300.68 L516.15,300.86 L516.40,301.03 L516.65,301.21 L516.90,301.38 L517.15,301.55 L517.40,301.73 L517.65,301.90 L517.90,302.07 L518.15,302.24 L518.40,302.42 L518.65,302.59 L518.90,302.76 L519.15,302.93 L519.40,303.10 L519.65,303.27 L519.90,303.44 L520.15,303.61 L520.40,303.78 L520.65,303.95 L520.90,304.12 L521.15,304.29 L521.40,304.46 L521.65,304.63 L521.90,304.79 L522.15,304.96 L522.40,305.13 L522.65,305.29 L522.90,305.46 L523.15,305.63 L523.40,305.79 L523.65,305.96 L523.90,306.12 L524.15,306.29 L524.40,306.45 L524.65,306.61 L524.90,306.78 L525.15,306.94 L525.40,307.10 L525.65,307.27 L525.90,307.43 L526.15,307.59 L526.40,307.75 L526.65,307.91 L526.90,308.07 L527.15,308.23 L527.40,308.39 L527.65,308.55 L527.90,308.71 L528.15,308.87 L528.40,309.03 L528.65,309.19 L528.90,309.34 L529.15,309.50 L529.40,309.66 L529.65,309.81 L529.90,309.97 L530.15,310.13 L530.40,310.28 L530.65,310.44 L530.90,310.59 L531.15,310.74 L531.40,310.90 L531.65,311.05 L531.90,311.20 L532.15,311.36 L532.40,311.51 L532.65,311.66 L532.90,311.81 L533.15,311.96 L533.40,312.11 L533.65,312.26 L533.90,312.41 L534.15,312.56 L534.40,312.71 L534.65,312.86 L534.90,313.00 L535.15,313.15 L535.40,313.30 L535.65,313.44 L535.90,313.59 L536.15,313.74 L536.40,313.88 L536.65,314.03 L536.90,314.17 L537.15,314.31 L537.40,314.46 L537.65,314.60 L537.90,314.74 L538.15,314.89 L538.40,315.03 L538.65,315.17 L538.90,315.31 L539.15,315.45 L539.40,315.59 L539.65,315.73 L539.90,315.87 L540.15,316.01 L540.40,316.15 L540.65,316.29 L540.90,316.42 L541.15,316.56 L541.40,316.70 L541.65,316.84 L541.90,316.97 L542.15,317.11 L542.40,317.25 L542.65,317.38 L542.90,317.52 L543.15,317.65 L543.40,317.79 L543.65,317.92 L543.90,318.06 L544.15,318.19 L544.40,318.33 L544.65,318.46 L544.90,318.59 L545.15,318.73 L545.40,318.86 L545.65,318.99 L545.90,319.13 L546.15,319.26 L546.40,319.39 L546.65,319.52 L546.90,319.65 L547.15,319.78 L547.40,319.92 L547.65,320.05 L547.90,320.18 L548.15,320.31 L548.40,320.44 L548.65,320.57 L548.90,320.70 L549.15,320.83 L549.40,320.96 L549.65,321.09 L549.90,321.22 L550.15,321.35 L550.40,321.48 L550.65,321.61 L550.90,321.74 L551.15,321.86 L551.40,321.99 L551.65,322.12 L551.90,322.25 L552.15,322.38 L552.40,322.51 L552.65,322.64 L552.90,322.76 L553.15,322.89 L553.40,323.02 L553.65,323.15 L553.90,323.28 L554.15,323.41 L554.40,323.53 L554.65,323.66 L554.90,323.79 L555.15,323.92 L555.40,324.05 L555.65,324.17 L555.90,324.30 L556.15,324.43 L556.40,324.56 L556.65,324.68 L556.90,324.81 L557.15,324.94 L557.40,325.07 L557.65,325.20 L557.90,325.32 L558.15,325.45 L558.40,325.58 L558.65,325.71 L558.90,325.84 L559.15,325.96 L559.40,326.09 L559.65,326.22 L559.90,326.35 L560.15,326.48 L560.40,326.61 L560.65,326.73 L560.90,326.86 L561.15,326.99 L561.40,327.12 L561.65,327.25 L561.90,327.38 L562.15,327.51 L562.40,327.64 L562.65,327.77 L562.90,327.90 L563.15,328.03 L563.40,328.16 L563.65,328.29 L563.90,328.42 L564.15,328.55 L564.40,328.68 L564.65,328.81 L564.90,328.94 L565.15,329.07 L565.40,329.20 L565.65,329.34 L565.90,329.47 L566.15,329.60 L566.40,329.73 L566.65,329.87 L566.90,330.00 L567.15,330.13 L567.40,330.26 L567.65,330.40 L567.90,330.53 L568.15,330.66 L568.40,330.80 L568.65,330.93 L568.90,331.07 L569.15,331.20 L569.40,331.33 L569.65,331.47 L569.90,331.60 L570.15,331.74 L570.40,331.87 L570.65,332.01 L570.90,332.14 L571.15,332.28 L571.40,332.41 L571.65,332.55 L571.90,332.68 L572.15,332.82 L572.40,332.95 L572.65,333.09 L572.90,333.22 L573.15,333.35 L573.40,333.49 L573.65,333.62 L573.90,333.76 L574.15,333.89 L574.40,334.03 L574.65,334.16 L574.90,334.30 L575.15,334.43 L575.40,334.57 L575.65,334.70 L575.90,334.83 L576.15,334.97 L576.40,335.10 L576.65,335.24 L576.90,335.37 L577.15,335.50 L577.40,335.64 L577.65,335.77 L577.90,335.90 L578.15,336.03 L578.40,336.17 L578.65,336.30 L578.90,336.43 L579.15,336.56 L579.40,336.70 L579.65,336.83 L579.90,336.96 L580.15,337.09 L580.40,337.22 L580.65,337.35 L580.90,337.48 L581.15,337.61 L581.40,337.74 L581.65,337.87 L581.90,338.00 L582.15,338.13 L582.40,338.25 L582.65,338.38 L582.90,338.51 L583.15,338.64 L583.40,338.76 L583.65,338.89 L583.90,339.02 L584.15,339.14 L584.40,339.27 L584.65,339.39 L584.90,339.52 L585.15,339.64 L585.40,339.77 L585.65,339.89 L585.90,340.01 L586.15,340.13 L586.40,340.26 L586.65,340.38 L586.90,340.50 L587.15,340.62 L587.40,340.74 L587.65,340.86 L587.90,340.98 L588.15,341.10 L588.40,341.21 L588.65,341.33 L588.90,341.45 L589.15,341.56 L589.40,341.68 L589.65,341.79 L589.90,341.91 L590.15,342.02 L590.40,342.14 L590.65,342.25 L590.90,342.36 L591.15,342.47 L591.40,342.58 L591.65,342.69 L591.90,342.80 L592.15,342.91 L592.40,343.02 L592.65,343.13 L592.90,343.24 L593.15,343.35 L593.40,343.45 L593.65,343.56 L593.90,343.66 L594.15,343.77 L594.40,343.87 L594.65,343.98 L594.90,344.08 L595.15,344.18 L595.40,344.29 L595.65,344.39 L595.90,344.49 L596.15,344.59 L596.40,344.69 L596.65,344.79 L596.90,344.89 L597.15,344.99 L597.40,345.08 L597.65,345.18 L597.90,345.28 L598.15,345.37 L598.40,345.47 L598.65,345.57 L598.90,345.66 L599.15,345.76 L599.40,345.85 L599.65,345.94 L599.90,346.04 L600.15,346.13 L600.40,346.22 L600.65,346.31 L600.90,346.40 L601.15,346.49 L601.40,346.58 L601.65,346.67 L601.90,346.76 L602.15,346.85 L602.40,346.94 L602.65,347.03 L602.90,347.12 L603.15,347.20 L603.40,347.29 L603.65,347.38 L603.90,347.46 L604.15,347.55 L604.40,347.63 L604.65,347.72 L604.90,347.80 L605.15,347.88 L605.40,347.97 L605.65,348.05 L605.90,348.13 L606.15,348.21 L606.40,348.29 L606.65,348.37 L606.90,348.46 L607.15,348.54 L607.40,348.61 L607.65,348.69 L607.90,348.77 L608.15,348.85 L608.40,348.93 L608.65,349.01 L608.90,349.08 L609.15,349.16 L609.40,349.24 L609.65,349.31 L609.90,349.39 L610.15,349.47 L610.40,349.54 L610.65,349.61 L610.90,349.69 L611.15,349.76 L611.40,349.84 L611.65,349.91 L611.90,349.98 L612.15,350.06 L612.40,350.13 L612.65,350.20 L612.90,350.27 L613.15,350.34 L613.40,350.41 L613.65,350.48 L613.90,350.55 L614.15,350.62 L614.40,350.69 L614.65,350.76 L614.90,350.83 L615.15,350.90 L615.40,350.97 L615.65,351.03 L615.90,351.10 L616.15,351.17 L616.40,351.24 L616.65,351.30 L616.90,351.37 L617.15,351.43 L617.40,351.50 L617.65,351.56 L617.90,351.63 L618.15,351.69 L618.40,351.76 L618.65,351.82 L618.90,351.89 L619.15,351.95 L619.40,352.01 L619.65,352.08 L619.90,352.14 L620.15,352.20 L620.40,352.26 L620.65,352.33 L620.90,352.39 L621.15,352.45 L621.40,352.51 L621.65,352.57 L621.90,352.63 L622.15,352.69 L622.40,352.75 L622.65,352.81 L622.90,352.87 L623.15,352.93 L623.40,352.99 L623.65,353.05 L623.90,353.11 L624.15,353.17 L624.40,353.22 L624.65,353.28 L624.90,353.34 L625.15,353.40 L625.40,353.46 L625.65,353.51 L625.90,353.57 L626.15,353.63 L626.40,353.68 L626.65,353.74 L626.90,353.80 L627.15,353.85 L627.40,353.91 L627.65,353.96 L627.90,354.02 L628.15,354.07 L628.40,354.13 L628.65,354.18 L628.90,354.24 L629.15,354.29 L629.40,354.35 L629.65,354.40 L629.90,354.46 L630.15,354.51 L630.40,354.56 L630.65,354.62 L630.90,354.67 L631.15,354.72 L631.40,354.78 L631.65,354.83 L631.90,354.88 L632.15,354.94 L632.40,354.99 L632.65,355.04 L632.90,355.09 L633.15,355.15 L633.40,355.20 L633.65,355.25 L633.90,355.30 L634.15,355.35 L634.40,355.40 L634.65,355.46 L634.90,355.51 L635.15,355.56 L635.40,355.61 L635.65,355.66 L635.90,355.71 L636.15,355.76 L636.40,355.81 L636.65,355.86 L636.90,355.92 L637.15,355.97 L637.40,356.02 L637.65,356.07 L637.90,356.12 L638.15,356.17 L638.40,356.22 L638.65,356.27 L638.90,356.32 L639.15,356.37 L639.40,356.42 L639.65,356.47 L639.90,356.52 L640.15,356.57 L640.40,356.62 L640.65,356.67 L640.90,356.72 L641.15,356.77 L641.40,356.81 L641.65,356.86 L641.90,356.91 L642.15,356.96 L642.40,357.01 L642.65,357.06 L642.90,357.11 L643.15,357.16 L643.40,357.21 L643.65,357.26 L643.90,357.31 L644.15,357.36 L644.40,357.41" fill="none" stroke="#1a8c1a" stroke-width="2" stroke-linejoin="round"/>
<path d="M434.90,253.92 L435.15,254.01 L435.40,254.11 L435.65,254.20 L435.90,254.29 L436.15,254.39 L436.40,254.48 L436.65,254.58 L436.90,254.67 L437.15,254.77 L437.40,254.86 L437.65,254.96 L437.90,255.05 L438.15,255.14 L438.40,255.24 L438.65,255.33 L438.90,255.43 L439.15,255.52 L439.40,255.62 L439.65,255.71 L439.90,255.81 L440.15,255.90 L440.40,256.00 L440.65,256.09 L440.90,256.19 L441.15,256.29 L441.40,256.38 L441.65,256.48 L441.90,256.57 L442.15,256.67 L442.40,256.77 L442.65,256.86 L442.90,256.96 L443.15,257.06 L443.40,257.15 L443.65,257.25 L443.90,257.35 L444.15,257.45 L444.40,257.54 L444.65,257.64 L444.90,257.74 L445.15,257.84 L445.40,257.94 L445.65,258.03 L445.90,258.13 L446.15,258.23 L446.40,258.33 L446.65,258.43 L446.90,258.53 L447.15,258.63 L447.40,258.73 L447.65,258.83 L447.90,258.93 L448.15,259.03 L448.40,259.13 L448.65,259.24 L448.90,259.34 L449.15,259.44 L449.40,259.54 L449.65,259.64 L449.90,259.75 L450.15,259.85 L450.40,259.95 L450.65,260.06 L450.90,260.16 L451.15,260.26 L451.40,260.37 L451.65,260.47 L451.90,260.58 L452.15,260.68 L452.40,260.79 L452.65,260.90 L452.90,261.00 L453.15,261.11 L453.40,261.22 L453.65,261.33 L453.90,261.43 L454.15,261.54 L454.40,261.65 L454.65,261.76 L454.90,261.87 L455.15,261.98 L455.40,262.09 L455.65,262.20 L455.90,262.31 L456.15,262.42 L456.40,262.53 L456.65,262.65 L456.90,262.76 L457.15,262.87 L457.40,262.99 L457.65,263.10 L457.90,263.21 L458.15,263.33 L458.40,263.44 L458.65,263.56 L458.90,263.68 L459.15,263.79 L459.40,263.91 L459.65,264.03 L459.90,264.14 L460.15,264.26 L460.40,264.38 L460.65,264.50 L460.90,264.62 L461.15,264.74 L461.40,264.86 L461.65,264.99 L461.90,265.11 L462.15,265.23 L462.40,265.35 L462.65,265.48 L462.90,265.60 L463.15,265.72 L463.40,265.85 L463.65,265.97 L463.90,266.10 L464.15,266.23 L464.40,266.35 L464.65,266.48 L464.90,266.61 L465.15,266.74 L465.40,266.87 L465.65,267.00 L465.90,267.13 L466.15,267.26 L466.40,267.39 L466.65,267.52 L466.90,267.65 L467.15,267.78 L467.40,267.91 L467.65,268.05 L467.90,268.18 L468.15,268.31 L468.40,268.45 L468.65,268.58 L468.90,268.72 L469.15,268.85 L469.40,268.99 L469.65,269.13 L469.90,269.26 L470.15,269.40 L470.40,269.54 L470.65,269.68 L470.90,269.82 L471.15,269.96 L471.40,270.10 L471.65,270.24 L471.90,270.38 L472.15,270.52 L472.40,270.66 L472.65,270.80 L472.90,270.94 L473.15,271.09 L473.40,271.23 L473.65,271.37 L473.90,271.52 L474.15,271.66 L474.40,271.81 L474.65,271.95 L474.90,272.10 L475.15,272.24 L475.40,272.39 L475.65,272.54 L475.90,272.68 L476.15,272.83 L476.40,272.98 L476.65,273.13 L476.90,273.28 L477.15,273.43 L477.40,273.58 L477.65,273.73 L477.90,273.88 L478.15,274.03 L478.40,274.18 L478.65,274.33 L478.90,274.49 L479.15,274.64 L479.40,274.79 L479.65,274.94 L479.90,275.10 L480.15,275.25 L480.40,275.41 L480.65,275.56 L480.90,275.72 L481.15,275.87 L481.40,276.03 L481.65,276.19 L481.90,276.34 L482.15,276.50 L482.40,276.66 L482.65,276.82 L482.90,276.98 L483.15,277.13 L483.40,277.29 L483.65,277.45 L483.90,277.61 L484.15,277.77 L484.40,277.93 L484.65,278.09 L484.90,278.26 L485.15,278.42 L485.40,278.58 L485.65,278.74 L485.90,278.91 L486.15,279.07 L486.40,279.23 L486.65,279.40 L486.90,279.56 L487.15,279.72 L487.40,279.89 L487.65,280.05 L487.90,280.22 L488.15,280.39 L488.40,280.55 L488.65,280.72 L488.90,280.89 L489.15,281.05 L489.40,281.22 L489.65,281.39 L489.90,281.56 L490.15,281.72 L490.40,281.89 L490.65,282.06 L490.90,282.23 L491.15,282.40 L491.40,282.57 L491.65,282.74 L491.90,282.91 L492.15,283.08 L492.40,283.25 L492.65,283.43 L492.90,283.60 L493.15,283.77 L493.40,283.94 L493.65,284.11 L493.90,284.29 L494.15,284.46 L494.40,284.63 L494.65,284.81 L494.90,284.98 L495.15,285.15 L495.40,285.33 L495.65,285.50 L495.90,285.68 L496.15,285.85 L496.40,286.03 L496.65,286.20 L496.90,286.38 L497.15,286.55 L497.40,286.73 L497.65,286.90 L497.90,287.08 L498.15,287.26 L498.40,287.43 L498.65,287.61 L498.90,287.79 L499.15,287.97 L499.40,288.14 L499.65,288.32 L499.90,288.50 L500.15,288.68 L500.40,288.86 L500.65,289.03 L500.90,289.21 L501.15,289.39 L501.40,289.57 L501.65,289.75 L501.90,289.93 L502.15,290.11 L502.40,290.29 L502.65,290.47 L502.90,290.65 L503.15,290.83 L503.40,291.01 L503.65,291.19 L503.90,291.37 L504.15,291.55 L504.40,291.73 L504.65,291.91 L504.90,292.09 L505.15,292.27 L505.40,292.45 L505.65,292.63 L505.90,292.82 L506.15,293.00 L506.40,293.18 L506.65,293.36 L506.90,293.54 L507.15,293.72 L507.40,293.91 L507.65,294.09 L507.90,294.27 L508.15,294.45 L508.40,294.64 L508.65,294.82 L508.90,295.00 L509.15,295.18 L509.40,295.37 L509.65,295.55 L509.90,295.73 L510.15,295.91 L510.40,296.10 L510.65,296.28 L510.90,296.46 L511.15,296.64 L511.40,296.83 L511.65,297.01 L511.90,297.19 L512.15,297.38 L512.40,297.56 L512.65,297.74 L512.90,297.93 L513.15,298.11 L513.40,298.29 L513.65,298.47 L513.90,298.66 L514.15,298.84 L514.40,299.02 L514.65,299.21 L514.90,299.39 L515.15,299.57 L515.40,299.76 L515.65,299.94 L515.90,300.12 L516.15,300.30 L516.40,300.49 L516.65,300.67 L516.90,300.85 L517.15,301.03 L517.40,301.22 L517.65,301.40 L517.90,301.58 L518.15,301.76 L518.40,301.94 L518.65,302.13 L518.90,302.31 L519.15,302.49 L519.40,302.67 L519.65,302.85 L519.90,303.03 L520.15,303.22 L520.40,303.40 L520.65,303.58 L520.90,303.76 L521.15,303.94 L521.40,304.12 L521.65,304.30 L521.90,304.48 L522.15,304.66 L522.40,304.84 L522.65,305.02 L522.90,305.20 L523.15,305.38 L523.40,305.56 L523.65,305.74 L523.90,305.91 L524.15,306.09 L524.40,306.27 L524.65,306.45 L524.90,306.63 L525.15,306.80 L525.40,306.98 L525.65,307.16 L525.90,307.33 L526.15,307.51 L526.40,307.69 L526.65,307.86 L526.90,308.04 L527.15,308.21 L527.40,308.39 L527.65,308.56 L527.90,308.74 L528.15,308.91 L528.40,309.09 L528.65,309.26 L528.90,309.43 L529.15,309.61 L529.40,309.78 L529.65,309.95 L529.90,310.12 L530.15,310.30 L530.40,310.47 L530.65,310.64 L530.90,310.81 L531.15,310.98 L531.40,311.15 L531.65,311.32 L531.90,311.49 L532.15,311.66 L532.40,311.83 L532.65,311.99 L532.90,312.16 L533.15,312.33 L533.40,312.50 L533.65,312.66 L533.90,312.83 L534.15,312.99 L534.40,313.16 L534.65,313.33 L534.90,313.49 L535.15,313.65 L535.40,313.82 L535.65,313.98 L535.90,314.14 L536.15,314.31 L536.40,314.47 L536.65,314.63 L536.90,314.79 L537.15,314.95 L537.40,315.11 L537.65,315.27 L537.90,315.43 L538.15,315.59 L538.40,315.75 L538.65,315.91 L538.90,316.06 L539.15,316.22 L539.40,316.38 L539.65,316.53 L539.90,316.69 L540.15,316.85 L540.40,317.00 L540.65,317.16 L540.90,317.31 L541.15,317.47 L541.40,317.62 L541.65,317.77 L541.90,317.93 L542.15,318.08 L542.40,318.23 L542.65,318.38 L542.90,318.54 L543.15,318.69 L543.40,318.84 L543.65,318.99 L543.90,319.14 L544.15,319.29 L544.40,319.44 L544.65,319.59 L544.90,319.74 L545.15,319.89 L545.40,320.04 L545.65,320.19 L545.90,320.33 L546.15,320.48 L546.40,320.63 L546.65,320.78 L546.90,320.92 L547.15,321.07 L547.40,321.22 L547.65,321.36 L547.90,321.51 L548.15,321.66 L548.40,321.80 L548.65,321.95 L548.90,322.09 L549.15,322.24 L549.40,322.38 L549.65,322.53 L549.90,322.67 L550.15,322.82 L550.40,322.96 L550.65,323.10 L550.90,323.25 L551.15,323.39 L551.40,323.53 L551.65,323.68 L551.90,323.82 L552.15,323.96 L552.40,324.11 L552.65,324.25 L552.90,324.39 L553.15,324.53 L553.40,324.68 L553.65,324.82 L553.90,324.96 L554.15,325.10 L554.40,325.24 L554.65,325.38 L554.90,325.52 L555.15,325.67 L555.40,325.81 L555.65,325.95 L555.90,326.09 L556.15,326.23 L556.40,326.37 L556.65,326.51 L556.90,326.65 L557.15,326.79 L557.40,326.93 L557.65,327.07 L557.90,327.21 L558.15,327.35 L558.40,327.49 L558.65,327.63 L558.90,327.77 L559.15,327.91 L559.40,328.05 L559.65,328.19 L559.90,328.33 L560.15,328.47 L560.40,328.61 L560.65,328.75 L560.90,328.89 L561.15,329.03 L561.40,329.17 L561.65,329.31 L561.90,329.45 L562.15,329.59 L562.40,329.73 L562.65,329.87 L562.90,330.01 L563.15,330.15 L563.40,330.29 L563.65,330.43 L563.90,330.57 L564.15,330.71 L564.40,330.85 L564.65,330.99 L564.90,331.13 L565.15,331.27 L565.40,331.41 L565.65,331.55 L565.90,331.69 L566.15,331.84 L566.40,331.98 L566.65,332.12 L566.90,332.26 L567.15,332.40 L567.40,332.54 L567.65,332.68 L567.90,332.82 L568.15,332.96 L568.40,333.10 L568.65,333.25 L568.90,333.39 L569.15,333.53 L569.40,333.67 L569.65,333.81 L569.90,333.95 L570.15,334.09 L570.40,334.23 L570.65,334.37 L570.90,334.52 L571.15,334.66 L571.40,334.80 L571.65,334.94 L571.90,335.08 L572.15,335.22 L572.40,335.36 L572.65,335.50 L572.90,335.64 L573.15,335.78 L573.40,335.92 L573.65,336.06 L573.90,336.20 L574.15,336.34 L574.40,336.48 L574.65,336.62 L574.90,336.76 L575.15,336.90 L575.40,337.04 L575.65,337.18 L575.90,337.32 L576.15,337.46 L576.40,337.59 L576.65,337.73 L576.90,337.87 L577.15,338.01 L577.40,338.15 L577.65,338.28 L577.90,338.42 L578.15,338.56 L578.40,338.69 L578.65,338.83 L578.90,338.97 L579.15,339.10 L579.40,339.24 L579.65,339.37 L579.90,339.51 L580.15,339.64 L580.40,339.78 L580.65,339.91 L580.90,340.04 L581.15,340.18 L581.40,340.31 L581.65,340.44 L581.90,340.57 L582.15,340.71 L582.40,340.84 L582.65,340.97 L582.90,341.10 L583.15,341.23 L583.40,341.36 L583.65,341.49 L583.90,341.62 L584.15,341.75 L584.40,341.88 L584.65,342.00 L584.90,342.13 L585.15,342.26 L585.40,342.39 L585.65,342.51 L585.90,342.64 L586.15,342.76 L586.40,342.89 L586.65,343.01 L586.90,343.14 L587.15,343.26 L587.40,343.38 L587.65,343.51 L587.90,343.63 L588.15,343.75 L588.40,343.87 L588.65,343.99 L588.90,344.11 L589.15,344.23 L589.40,344.35 L589.65,344.47 L589.90,344.58 L590.15,344.70 L590.40,344.82 L590.65,344.93 L590.90,345.05 L591.15,345.16 L591.40,345.28 L591.65,345.39 L591.90,345.50 L592.15,345.61 L592.40,345.73 L592.65,345.84 L592.90,345.95 L593.15,346.06 L593.40,346.17 L593.65,346.28 L593.90,346.39 L594.15,346.49 L594.40,346.60 L594.65,346.71 L594.90,346.82 L595.15,346.92 L595.40,347.03 L595.65,347.13 L595.90,347.24 L596.15,347.34 L596.40,347.44 L596.65,347.55 L596.90,347.65 L597.15,347.75 L597.40,347.85 L597.65,347.95 L597.90,348.06 L598.15,348.16 L598.40,348.26 L598.65,348.35 L598.90,348.45 L599.15,348.55 L599.40,348.65 L599.65,348.75 L599.90,348.84 L600.15,348.94 L600.40,349.04 L600.65,349.13 L600.90,349.23 L601.15,349.32 L601.40,349.41 L601.65,349.51 L601.90,349.60 L602.15,349.69 L602.40,349.79 L602.65,349.88 L602.90,349.97 L603.15,350.06 L603.40,350.15 L603.65,350.24 L603.90,350.33 L604.15,350.42 L604.40,350.51 L604.65,350.60 L604.90,350.69 L605.15,350.78 L605.40,350.86 L605.65,350.95 L605.90,351.04 L606.15,351.13 L606.40,351.21 L606.65,351.30 L606.90,351.38 L607.15,351.47 L607.40,351.55 L607.65,351.64 L607.90,351.72 L608.15,351.80 L608.40,351.89 L608.65,351.97 L608.90,352.05 L609.15,352.13 L609.40,352.22 L609.65,352.30 L609.90,352.38 L610.15,352.46 L610.40,352.54 L610.65,352.62 L610.90,352.70 L611.15,352.78 L611.40,352.86 L611.65,352.94 L611.90,353.02 L612.15,353.09 L612.40,353.17 L612.65,353.25 L612.90,353.33 L613.15,353.40 L613.40,353.48 L613.65,353.56 L613.90,353.63 L614.15,353.71 L614.40,353.79 L614.65,353.86 L614.90,353.94 L615.15,354.01 L615.40,354.09 L615.65,354.16 L615.90,354.23 L616.15,354.31 L616.40,354.38 L616.65,354.46 L616.90,354.53 L617.15,354.60 L617.40,354.67 L617.65,354.75 L617.90,354.82 L618.15,354.89 L618.40,354.96 L618.65,355.03 L618.90,355.10 L619.15,355.18 L619.40,355.25 L619.65,355.32 L619.90,355.39 L620.15,355.46 L620.40,355.53 L620.65,355.60 L620.90,355.67 L621.15,355.74 L621.40,355.80 L621.65,355.87 L621.90,355.94 L622.15,356.01 L622.40,356.08 L622.65,356.15 L622.90,356.22 L623.15,356.28 L623.40,356.35 L623.65,356.42 L623.90,356.49 L624.15,356.55 L624.40,356.62 L624.65,356.69 L624.90,356.75 L625.15,356.82 L625.40,356.88 L625.65,356.95 L625.90,357.02 L626.15,357.08 L626.40,357.15 L626.65,357.21 L626.90,357.28 L627.15,357.34 L627.40,357.41 L627.65,357.47 L627.90,357.54 L628.15,357.60 L628.40,357.67 L628.65,357.73 L628.90,357.79 L629.15,357.86 L629.40,357.92 L629.65,357.99 L629.90,358.05 L630.15,358.11 L630.40,358.18 L630.65,358.24 L630.90,358.30 L631.15,358.36 L631.40,358.43 L631.65,358.49 L631.90,358.55 L632.15,358.61 L632.40,358.68 L632.65,358.74 L632.90,358.80 L633.15,358.86 L633.40,358.93 L633.65,358.99 L633.90,359.05 L634.15,359.11 L634.40,359.17 L634.65,359.23 L634.90,359.29 L635.15,359.36 L635.40,359.42 L635.65,359.48 L635.90,359.54 L636.15,359.60 L636.40,359.66 L636.65,359.72 L636.90,359.78 L637.15,359.84 L637.40,359.90 L637.65,359.96 L637.90,360.03 L638.15,360.09 L638.40,360.15 L638.65,360.21 L638.90,360.27 L639.15,360.33 L639.40,360.39 L639.65,360.45 L639.90,360.51 L640.15,360.57 L640.40,360.63 L640.65,360.69 L640.90,360.75 L641.15,360.81 L641.40,360.87 L641.65,360.93 L641.90,360.99 L642.15,361.05 L642.40,361.11 L642.65,361.17 L642.90,361.23 L643.15,361.29 L643.40,361.35 L643.65,361.41 L643.90,361.47 L644.15,361.53 L644.40,361.59" fill="none" stroke="#10107a" stroke-width="2" stroke-linejoin="round"/>
<path d="M434.90,252.91 L435.15,252.90 L435.40,252.88 L435.65,252.87 L435.90,252.85 L436.15,252.84 L436.40,252.82 L436.65,252.81 L436.90,252.79 L437.15,252.78 L437.40,252.76 L437.65,252.75 L437.90,252.73 L438.15,252.72 L438.40,252.71 L438.65,252.69 L438.90,252.68 L439.15,252.67 L439.40,252.66 L439.65,252.64 L439.90,252.63 L440.15,252.62 L440.40,252.61 L440.65,252.60 L440.90,252.59 L441.15,252.58 L441.40,252.57 L441.65,252.56 L441.90,252.56 L442.15,252.55 L442.40,252.54 L442.65,252.54 L442.90,252.53 L443.15,252.53 L443.40,252.52 L443.65,252.52 L443.90,252.52 L444.15,252.52 L444.40,252.51 L444.65,252.51 L444.90,252.51 L445.15,252.51 L445.40,252.52 L445.65,252.52 L445.90,252.52 L446.15,252.52 L446.40,252.53 L446.65,252.53 L446.90,252.54 L447.15,252.54 L447.40,252.55 L447.65,252.55 L447.90,252.56 L448.15,252.57 L448.40,252.58 L448.65,252.58 L448.90,252.59 L449.15,252.60 L449.40,252.61 L449.65,252.62 L449.90,252.63 L450.15,252.64 L450.40,252.65 L450.65,252.66 L450.90,252.68 L451.15,252.69 L451.40,252.70 L451.65,252.71 L451.90,252.73 L452.15,252.74 L452.40,252.75 L452.65,252.77 L452.90,252.78 L453.15,252.80 L453.40,252.81 L453.65,252.83 L453.90,252.84 L454.15,252.86 L454.40,252.87 L454.65,252.89 L454.90,252.90 L455.15,252.92 L455.40,252.94 L455.65,252.95 L455.90,252.97 L456.15,252.99 L456.40,253.00 L456.65,253.02 L456.90,253.04 L457.15,253.05 L457.40,253.07 L457.65,253.09 L457.90,253.10 L458.15,253.12 L458.40,253.14 L458.65,253.15 L458.90,253.17 L459.15,253.19 L459.40,253.21 L459.65,253.22 L459.90,253.24 L460.15,253.26 L460.40,253.27 L460.65,253.29 L460.90,253.31 L461.15,253.32 L461.40,253.34 L461.65,253.35 L461.90,253.37 L462.15,253.39 L462.40,253.40 L462.65,253.42 L462.90,253.43 L463.15,253.45 L463.40,253.46 L463.65,253.48 L463.90,253.49 L464.15,253.51 L464.40,253.52 L464.65,253.54 L464.90,253.55 L465.15,253.57 L465.40,253.58 L465.65,253.60 L465.90,253.61 L466.15,253.63 L466.40,253.64 L466.65,253.66 L466.90,253.67 L467.15,253.68 L467.40,253.70 L467.65,253.71 L467.90,253.73 L468.15,253.74 L468.40,253.75 L468.65,253.77 L468.90,253.78 L469.15,253.80 L469.40,253.81 L469.65,253.82 L469.90,253.84 L470.15,253.85 L470.40,253.86 L470.65,253.88 L470.90,253.89 L471.15,253.90 L471.40,253.92 L471.65,253.93 L471.90,253.95 L472.15,253.96 L472.40,253.97 L472.65,253.99 L472.90,254.00 L473.15,254.01 L473.40,254.03 L473.65,254.04 L473.90,254.05 L474.15,254.07 L474.40,254.08 L474.65,254.09 L474.90,254.11 L475.15,254.12 L475.40,254.13 L475.65,254.15 L475.90,254.16 L476.15,254.17 L476.40,254.19 L476.65,254.20 L476.90,254.21 L477.15,254.23 L477.40,254.24 L477.65,254.25 L477.90,254.27 L478.15,254.28 L478.40,254.30 L478.65,254.31 L478.90,254.32 L479.15,254.34 L479.40,254.35 L479.65,254.37 L479.90,254.38 L480.15,254.39 L480.40,254.41 L480.65,254.42 L480.90,254.44 L481.15,254.45 L481.40,254.47 L481.65,254.48 L481.90,254.50 L482.15,254.51 L482.40,254.53 L482.65,254.54 L482.90,254.56 L483.15,254.57 L483.40,254.59 L483.65,254.60 L483.90,254.62 L484.15,254.63 L484.40,254.65 L484.65,254.66 L484.90,254.68 L485.15,254.70 L485.40,254.71 L485.65,254.73 L485.90,254.74 L486.15,254.76 L486.40,254.78 L486.65,254.79 L486.90,254.81 L487.15,254.83 L487.40,254.85 L487.65,254.86 L487.90,254.88 L488.15,254.90 L488.40,254.91 L488.65,254.93 L488.90,254.95 L489.15,254.97 L489.40,254.99 L489.65,255.00 L489.90,255.02 L490.15,255.04 L490.40,255.06 L490.65,255.08 L490.90,255.10 L491.15,255.11 L491.40,255.13 L491.65,255.15 L491.90,255.17 L492.15,255.19 L492.40,255.21 L492.65,255.23 L492.90,255.25 L493.15,255.27 L493.40,255.29 L493.65,255.31 L493.90,255.33 L494.15,255.35 L494.40,255.37 L494.65,255.39 L494.90,255.41 L495.15,255.43 L495.40,255.45 L495.65,255.47 L495.90,255.49 L496.15,255.51 L496.40,255.53 L496.65,255.55 L496.90,255.57 L497.15,255.59 L497.40,255.62 L497.65,255.64 L497.90,255.66 L498.15,255.68 L498.40,255.70 L498.65,255.72 L498.90,255.74 L499.15,255.77 L499.40,255.79 L499.65,255.81 L499.90,255.83 L500.15,255.85 L500.40,255.88 L500.65,255.90 L500.90,255.92 L501.15,255.94 L501.40,255.96 L501.65,255.99 L501.90,256.01 L502.15,256.03 L502.40,256.06 L502.65,256.08 L502.90,256.10 L503.15,256.12 L503.40,256.15 L503.65,256.17 L503.90,256.19 L504.15,256.22 L504.40,256.24 L504.65,256.26 L504.90,256.29 L505.15,256.31 L505.40,256.33 L505.65,256.36 L505.90,256.38 L506.15,256.40 L506.40,256.43 L506.65,256.45 L506.90,256.47 L507.15,256.50 L507.40,256.52 L507.65,256.55 L507.90,256.57 L508.15,256.59 L508.40,256.62 L508.65,256.64 L508.90,256.67 L509.15,256.69 L509.40,256.72 L509.65,256.74 L509.90,256.76 L510.15,256.79 L510.40,256.81 L510.65,256.84 L510.90,256.86 L511.15,256.89 L511.40,256.91 L511.65,256.94 L511.90,256.96 L512.15,256.99 L512.40,257.01 L512.65,257.04 L512.90,257.06 L513.15,257.09 L513.40,257.11 L513.65,257.14 L513.90,257.16 L514.15,257.19 L514.40,257.21 L514.65,257.24 L514.90,257.26 L515.15,257.29 L515.40,257.31 L515.65,257.34 L515.90,257.36 L516.15,257.39 L516.40,257.41 L516.65,257.44 L516.90,257.47 L517.15,257.49 L517.40,257.52 L517.65,257.54 L517.90,257.57 L518.15,257.59 L518.40,257.62 L518.65,257.64 L518.90,257.67 L519.15,257.70 L519.40,257.72 L519.65,257.75 L519.90,257.77 L520.15,257.80 L520.40,257.82 L520.65,257.85 L520.90,257.88 L521.15,257.90 L521.40,257.93 L521.65,257.95 L521.90,257.98 L522.15,258.00 L522.40,258.03 L522.65,258.06 L522.90,258.08 L523.15,258.11 L523.40,258.13 L523.65,258.16 L523.90,258.19 L524.15,258.21 L524.40,258.24 L524.65,258.26 L524.90,258.29 L525.15,258.32 L525.40,258.34 L525.65,258.37 L525.90,258.39 L526.15,258.42 L526.40,258.45 L526.65,258.47 L526.90,258.50 L527.15,258.52 L527.40,258.55 L527.65,258.58 L527.90,258.60 L528.15,258.63 L528.40,258.66 L528.65,258.68 L528.90,258.71 L529.15,258.73 L529.40,258.76 L529.65,258.79 L529.90,258.81 L530.15,258.84 L530.40,258.87 L530.65,258.89 L530.90,258.92 L531.15,258.95 L531.40,258.97 L531.65,259.00 L531.90,259.03 L532.15,259.05 L532.40,259.08 L532.65,259.11 L532.90,259.13 L533.15,259.16 L533.40,259.18 L533.65,259.21 L533.90,259.24 L534.15,259.26 L534.40,259.29 L534.65,259.32 L534.90,259.34 L535.15,259.37 L535.40,259.40 L535.65,259.42 L535.90,259.45 L536.15,259.48 L536.40,259.51 L536.65,259.53 L536.90,259.56 L537.15,259.59 L537.40,259.61 L537.65,259.64 L537.90,259.67 L538.15,259.69 L538.40,259.72 L538.65,259.75 L538.90,259.77 L539.15,259.80 L539.40,259.83 L539.65,259.85 L539.90,259.88 L540.15,259.91 L540.40,259.94 L540.65,259.96 L540.90,259.99 L541.15,260.02 L541.40,260.04 L541.65,260.07 L541.90,260.10 L542.15,260.13 L542.40,260.15 L542.65,260.18 L542.90,260.21 L543.15,260.23 L543.40,260.26 L543.65,260.29 L543.90,260.32 L544.15,260.34 L544.40,260.37 L544.65,260.40 L544.90,260.43 L545.15,260.45 L545.40,260.48 L545.65,260.51 L545.90,260.53 L546.15,260.56 L546.40,260.59 L546.65,260.62 L546.90,260.64 L547.15,260.67 L547.40,260.70 L547.65,260.73 L547.90,260.75 L548.15,260.78 L548.40,260.81 L548.65,260.84 L548.90,260.86 L549.15,260.89 L549.40,260.92 L549.65,260.95 L549.90,260.97 L550.15,261.00 L550.40,261.03 L550.65,261.06 L550.90,261.08 L551.15,261.11 L551.40,261.14 L551.65,261.17 L551.90,261.20 L552.15,261.22 L552.40,261.25 L552.65,261.28 L552.90,261.31 L553.15,261.33 L553.40,261.36 L553.65,261.39 L553.90,261.42 L554.15,261.45 L554.40,261.47 L554.65,261.50 L554.90,261.53 L555.15,261.56 L555.40,261.58 L555.65,261.61 L555.90,261.64 L556.15,261.67 L556.40,261.70 L556.65,261.72 L556.90,261.75 L557.15,261.78 L557.40,261.81 L557.65,261.84 L557.90,261.86 L558.15,261.89 L558.40,261.92 L558.65,261.95 L558.90,261.98 L559.15,262.00 L559.40,262.03 L559.65,262.06 L559.90,262.09 L560.15,262.12 L560.40,262.14 L560.65,262.17 L560.90,262.20 L561.15,262.23 L561.40,262.26 L561.65,262.29 L561.90,262.31 L562.15,262.34 L562.40,262.37 L562.65,262.40 L562.90,262.43 L563.15,262.45 L563.40,262.48 L563.65,262.51 L563.90,262.54 L564.15,262.57 L564.40,262.60 L564.65,262.62 L564.90,262.65 L565.15,262.68 L565.40,262.71 L565.65,262.74 L565.90,262.77 L566.15,262.79 L566.40,262.82 L566.65,262.85 L566.90,262.88 L567.15,262.91 L567.40,262.94 L567.65,262.97 L567.90,262.99 L568.15,263.02 L568.40,263.05 L568.65,263.08 L568.90,263.11 L569.15,263.14 L569.40,263.16 L569.65,263.19 L569.90,263.22 L570.15,263.25 L570.40,263.28 L570.65,263.31 L570.90,263.34 L571.15,263.36 L571.40,263.39 L571.65,263.42 L571.90,263.45 L572.15,263.48 L572.40,263.51 L572.65,263.54 L572.90,263.57 L573.15,263.59 L573.40,263.62 L573.65,263.65 L573.90,263.68 L574.15,263.71 L574.40,263.74 L574.65,263.77 L574.90,263.79 L575.15,263.82 L575.40,263.85 L575.65,263.88 L575.90,263.91 L576.15,263.94 L576.40,263.97 L576.65,264.00 L576.90,264.02 L577.15,264.05 L577.40,264.08 L577.65,264.11 L577.90,264.14 L578.15,264.17 L578.40,264.20 L578.65,264.23 L578.90,264.26 L579.15,264.28 L579.40,264.31 L579.65,264.34 L579.90,264.37 L580.15,264.40 L580.40,264.43 L580.65,264.46 L580.90,264.49 L581.15,264.52 L581.40,264.54 L581.65,264.57 L581.90,264.60 L582.15,264.63 L582.40,264.66 L582.65,264.69 L582.90,264.72 L583.15,264.75 L583.40,264.78 L583.65,264.81 L583.90,264.83 L584.15,264.86 L584.40,264.89 L584.65,264.92 L584.90,264.95 L585.15,264.98 L585.40,265.01 L585.65,265.04 L585.90,265.07 L586.15,265.10 L586.40,265.12 L586.65,265.15 L586.90,265.18 L587.15,265.21 L587.40,265.24 L587.65,265.27 L587.90,265.30 L588.15,265.33 L588.40,265.36 L588.65,265.39 L588.90,265.42 L589.15,265.44 L589.40,265.47 L589.65,265.50 L589.90,265.53 L590.15,265.56 L590.40,265.59 L590.65,265.62 L590.90,265.65 L591.15,265.68 L591.40,265.71 L591.65,265.74 L591.90,265.77 L592.15,265.79 L592.40,265.82 L592.65,265.85 L592.90,265.88 L593.15,265.91 L593.40,265.94 L593.65,265.97 L593.90,266.00 L594.15,266.03 L594.40,266.06 L594.65,266.09 L594.90,266.12 L595.15,266.14 L595.40,266.17 L595.65,266.20 L595.90,266.23 L596.15,266.26 L596.40,266.29 L596.65,266.32 L596.90,266.35 L597.15,266.38 L597.40,266.41 L597.65,266.44 L597.90,266.47 L598.15,266.50 L598.40,266.52 L598.65,266.55 L598.90,266.58 L599.15,266.61 L599.40,266.64 L599.65,266.67 L599.90,266.70 L600.15,266.73 L600.40,266.76 L600.65,266.79 L600.90,266.82 L601.15,266.85 L601.40,266.88 L601.65,266.90 L601.90,266.93 L602.15,266.96 L602.40,266.99 L602.65,267.02 L602.90,267.05 L603.15,267.08 L603.40,267.11 L603.65,267.14 L603.90,267.17 L604.15,267.20 L604.40,267.23 L604.65,267.26 L604.90,267.29 L605.15,267.31 L605.40,267.34 L605.65,267.37 L605.90,267.40 L606.15,267.43 L606.40,267.46 L606.65,267.49 L606.90,267.52 L607.15,267.55 L607.40,267.58 L607.65,267.61 L607.90,267.64 L608.15,267.67 L608.40,267.69 L608.65,267.72 L608.90,267.75 L609.15,267.78 L609.40,267.81 L609.65,267.84 L609.90,267.87 L610.15,267.90 L610.40,267.93 L610.65,267.96 L610.90,267.99 L611.15,268.02 L611.40,268.05 L611.65,268.08 L611.90,268.10 L612.15,268.13 L612.40,268.16 L612.65,268.19 L612.90,268.22 L613.15,268.25 L613.40,268.28 L613.65,268.31 L613.90,268.34 L614.15,268.37 L614.40,268.40 L614.65,268.43 L614.90,268.46 L615.15,268.48 L615.40,268.51 L615.65,268.54 L615.90,268.57 L616.15,268.60 L616.40,268.63 L616.65,268.66 L616.90,268.69 L617.15,268.72 L617.40,268.75 L617.65,268.78 L617.90,268.81 L618.15,268.84 L618.40,268.87 L618.65,268.89 L618.90,268.92 L619.15,268.95 L619.40,268.98 L619.65,269.01 L619.90,269.04 L620.15,269.07 L620.40,269.10 L620.65,269.13 L620.90,269.16 L621.15,269.19 L621.40,269.22 L621.65,269.25 L621.90,269.27 L622.15,269.30 L622.40,269.33 L622.65,269.36 L622.90,269.39 L623.15,269.42 L623.40,269.45 L623.65,269.48 L623.90,269.51 L624.15,269.54 L624.40,269.57 L624.65,269.60 L624.90,269.63 L625.15,269.66 L625.40,269.68 L625.65,269.71 L625.90,269.74 L626.15,269.77 L626.40,269.80 L626.65,269.83 L626.90,269.86 L627.15,269.89 L627.40,269.92 L627.65,269.95 L627.90,269.98 L628.15,270.01 L628.40,270.04 L628.65,270.06 L628.90,270.09 L629.15,270.12 L629.40,270.15 L629.65,270.18 L629.90,270.21 L630.15,270.24 L630.40,270.27 L630.65,270.30 L630.90,270.33 L631.15,270.36 L631.40,270.39 L631.65,270.42 L631.90,270.45 L632.15,270.47 L632.40,270.50 L632.65,270.53 L632.90,270.56 L633.15,270.59 L633.40,270.62 L633.65,270.65 L633.90,270.68 L634.15,270.71 L634.40,270.74 L634.65,270.77 L634.90,270.80 L635.15,270.83 L635.40,270.85 L635.65,270.88 L635.90,270.91 L636.15,270.94 L636.40,270.97 L636.65,271.00 L636.90,271.03 L637.15,271.06 L637.40,271.09 L637.65,271.12 L637.90,271.15 L638.15,271.18 L638.40,271.21 L638.65,271.24 L638.90,271.26 L639.15,271.29 L639.40,271.32 L639.65,271.35 L639.90,271.38 L640.15,271.41 L640.40,271.44 L640.65,271.47 L640.90,271.50 L641.15,271.53 L641.40,271.56 L641.65,271.59 L641.90,271.62 L642.15,271.64 L642.40,271.67 L642.65,271.70 L642.90,271.73 L643.15,271.76 L643.40,271.79 L643.65,271.82 L643.90,271.85 L644.15,271.88 L644.40,271.91" fill="none" stroke="#7a18a8" stroke-width="2" stroke-linejoin="round"/>
<line x1="442" y1="341.00" x2="453" y2="341.00" stroke="#ee1c1c" stroke-width="2"/>
<text transform="rotate(0.05 459.6 343.90)" x="459.6" y="343.90" font-size="8" font-family="Liberation Sans, sans-serif" font-weight="bold">BPSS2242</text>
<line x1="442" y1="351.10" x2="453" y2="351.10" stroke="#ff8a1e" stroke-width="2"/>
<text transform="rotate(0.05 459.6 354.00)" x="459.6" y="354.00" font-size="8" font-family="Liberation Sans, sans-serif" font-weight="bold">BPSS2241</text>
<line x1="442" y1="361.20" x2="453" y2="361.20" stroke="#1a8c1a" stroke-width="2"/>
<text transform="rotate(0.05 459.6 364.10)" x="459.6" y="364.10" font-size="8" font-family="Liberation Sans, sans-serif" font-weight="bold">BPSS2242+41</text>
<line x1="442" y1="371.30" x2="453" y2="371.30" stroke="#10107a" stroke-width="2"/>
<text transform="rotate(0.05 459.6 374.20)" x="459.6" y="374.20" font-size="8" font-family="Liberation Sans, sans-serif" font-weight="bold">BPSS2242 + BPSS2241</text>
<line x1="442" y1="381.40" x2="453" y2="381.40" stroke="#7a18a8" stroke-width="2"/>
<text transform="rotate(0.05 459.6 384.30)" x="459.6" y="384.30" font-size="8" font-family="Liberation Sans, sans-serif" font-weight="bold">Negative control</text>
</svg></body></html>
